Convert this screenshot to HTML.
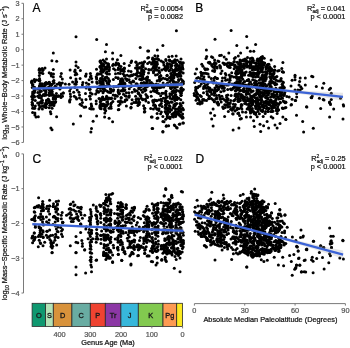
<!DOCTYPE html><html><head><meta charset="utf-8"><style>html,body{margin:0;padding:0;background:#fff;width:350px;height:348px;overflow:hidden;position:relative}</style></head><body><svg width="350" height="348" viewBox="0 0 350 348" style="position:absolute;left:0;top:0;will-change:transform;filter:blur(0.3px);font-family:'Liberation Sans',sans-serif"><rect width="350" height="348" fill="#fff"/><path d="M23.5 3.3V142.44000000000003" stroke="#7a7a7a" stroke-width="1" fill="none"/><path d="M21.5 3.30H23.5" stroke="#7a7a7a" stroke-width="1"/><text x="19.5" y="5.90" font-size="7.35" fill="#555" text-anchor="end" stroke="#555" stroke-width="0.22">3</text><path d="M21.5 18.76H23.5" stroke="#7a7a7a" stroke-width="1"/><text x="19.5" y="21.36" font-size="7.35" fill="#555" text-anchor="end" stroke="#555" stroke-width="0.22">2</text><path d="M21.5 34.22H23.5" stroke="#7a7a7a" stroke-width="1"/><text x="19.5" y="36.82" font-size="7.35" fill="#555" text-anchor="end" stroke="#555" stroke-width="0.22">1</text><path d="M21.5 49.68H23.5" stroke="#7a7a7a" stroke-width="1"/><text x="19.5" y="52.28" font-size="7.35" fill="#555" text-anchor="end" stroke="#555" stroke-width="0.22">0</text><path d="M21.5 65.14H23.5" stroke="#7a7a7a" stroke-width="1"/><text x="19.5" y="67.74" font-size="7.35" fill="#555" text-anchor="end" stroke="#555" stroke-width="0.22">−1</text><path d="M21.5 80.60H23.5" stroke="#7a7a7a" stroke-width="1"/><text x="19.5" y="83.20" font-size="7.35" fill="#555" text-anchor="end" stroke="#555" stroke-width="0.22">−2</text><path d="M21.5 96.06H23.5" stroke="#7a7a7a" stroke-width="1"/><text x="19.5" y="98.66" font-size="7.35" fill="#555" text-anchor="end" stroke="#555" stroke-width="0.22">−3</text><path d="M21.5 111.52H23.5" stroke="#7a7a7a" stroke-width="1"/><text x="19.5" y="114.12" font-size="7.35" fill="#555" text-anchor="end" stroke="#555" stroke-width="0.22">−4</text><path d="M21.5 126.98H23.5" stroke="#7a7a7a" stroke-width="1"/><text x="19.5" y="129.58" font-size="7.35" fill="#555" text-anchor="end" stroke="#555" stroke-width="0.22">−5</text><path d="M21.5 142.44H23.5" stroke="#7a7a7a" stroke-width="1"/><text x="19.5" y="145.04" font-size="7.35" fill="#555" text-anchor="end" stroke="#555" stroke-width="0.22">−6</text><path d="M23.5 153.9V293.02" stroke="#7a7a7a" stroke-width="1" fill="none"/><path d="M21.5 153.90H23.5" stroke="#7a7a7a" stroke-width="1"/><text x="19.5" y="156.50" font-size="7.35" fill="#555" text-anchor="end" stroke="#555" stroke-width="0.22">0</text><path d="M21.5 188.68H23.5" stroke="#7a7a7a" stroke-width="1"/><text x="19.5" y="191.28" font-size="7.35" fill="#555" text-anchor="end" stroke="#555" stroke-width="0.22">−1</text><path d="M21.5 223.46H23.5" stroke="#7a7a7a" stroke-width="1"/><text x="19.5" y="226.06" font-size="7.35" fill="#555" text-anchor="end" stroke="#555" stroke-width="0.22">−2</text><path d="M21.5 258.24H23.5" stroke="#7a7a7a" stroke-width="1"/><text x="19.5" y="260.84" font-size="7.35" fill="#555" text-anchor="end" stroke="#555" stroke-width="0.22">−3</text><path d="M21.5 293.02H23.5" stroke="#7a7a7a" stroke-width="1"/><text x="19.5" y="295.62" font-size="7.35" fill="#555" text-anchor="end" stroke="#555" stroke-width="0.22">−4</text><path d="M194.40 303.6H345.40" stroke="#7a7a7a" stroke-width="1" fill="none"/><path d="M194.40 303.6V305.6" stroke="#7a7a7a" stroke-width="1"/><text x="194.40" y="313.20" font-size="7.35" fill="#555" text-anchor="middle" stroke="#555" stroke-width="0.22">0</text><path d="M244.73 303.6V305.6" stroke="#7a7a7a" stroke-width="1"/><text x="244.73" y="313.20" font-size="7.35" fill="#555" text-anchor="middle" stroke="#555" stroke-width="0.22">30</text><path d="M295.07 303.6V305.6" stroke="#7a7a7a" stroke-width="1"/><text x="295.07" y="313.20" font-size="7.35" fill="#555" text-anchor="middle" stroke="#555" stroke-width="0.22">60</text><path d="M345.40 303.6V305.6" stroke="#7a7a7a" stroke-width="1"/><text x="345.40" y="313.20" font-size="7.35" fill="#555" text-anchor="middle" stroke="#555" stroke-width="0.22">90</text><text x="270.4" y="321.8" font-size="7.35" fill="#111" text-anchor="middle" stroke="#111" stroke-width="0.22">Absolute Median Paleolatitude (Degrees)</text><rect x="32.1" y="303.3" width="13.50" height="23.10" fill="#0f9870" stroke="#2a2a2a" stroke-width="0.8"/><text x="38.85" y="317.55" font-size="7.35" fill="#1a1a1a" stroke="#1a1a1a" stroke-width="0.35" text-anchor="middle">O</text><rect x="45.6" y="303.3" width="7.70" height="23.10" fill="#b4e3b7" stroke="#2a2a2a" stroke-width="0.8"/><text x="49.45" y="317.55" font-size="7.35" fill="#1a1a1a" stroke="#1a1a1a" stroke-width="0.35" text-anchor="middle">S</text><rect x="53.3" y="303.3" width="18.60" height="23.10" fill="#d8923b" stroke="#2a2a2a" stroke-width="0.8"/><text x="62.60" y="317.55" font-size="7.35" fill="#1a1a1a" stroke="#1a1a1a" stroke-width="0.35" text-anchor="middle">D</text><rect x="71.9" y="303.3" width="18.40" height="23.10" fill="#69aca2" stroke="#2a2a2a" stroke-width="0.8"/><text x="81.10" y="317.55" font-size="7.35" fill="#1a1a1a" stroke="#1a1a1a" stroke-width="0.35" text-anchor="middle">C</text><rect x="90.3" y="303.3" width="15.00" height="23.10" fill="#ef4331" stroke="#2a2a2a" stroke-width="0.8"/><text x="97.80" y="317.55" font-size="7.35" fill="#1a1a1a" stroke="#1a1a1a" stroke-width="0.35" text-anchor="middle">P</text><rect x="105.3" y="303.3" width="15.60" height="23.10" fill="#8c37a5" stroke="#2a2a2a" stroke-width="0.8"/><text x="113.10" y="317.55" font-size="7.35" fill="#1a1a1a" stroke="#1a1a1a" stroke-width="0.35" text-anchor="middle">Tr</text><rect x="120.9" y="303.3" width="17.40" height="23.10" fill="#37b7da" stroke="#2a2a2a" stroke-width="0.8"/><text x="129.60" y="317.55" font-size="7.35" fill="#1a1a1a" stroke="#1a1a1a" stroke-width="0.35" text-anchor="middle">J</text><rect x="138.3" y="303.3" width="24.70" height="23.10" fill="#82c94f" stroke="#2a2a2a" stroke-width="0.8"/><text x="150.65" y="317.55" font-size="7.35" fill="#1a1a1a" stroke="#1a1a1a" stroke-width="0.35" text-anchor="middle">K</text><rect x="163.0" y="303.3" width="13.70" height="23.10" fill="#fd9a52" stroke="#2a2a2a" stroke-width="0.8"/><text x="169.85" y="317.55" font-size="7.35" fill="#1a1a1a" stroke="#1a1a1a" stroke-width="0.35" text-anchor="middle">Pg</text><rect x="176.7" y="303.3" width="5.90" height="23.10" fill="#fbe91f" stroke="#2a2a2a" stroke-width="0.8"/><path d="M59.60 326.4V328.4" stroke="#7a7a7a" stroke-width="1"/><text x="59.60" y="336.80" font-size="7.35" fill="#555" text-anchor="middle" stroke="#555" stroke-width="0.22">400</text><path d="M90.35 326.4V328.4" stroke="#7a7a7a" stroke-width="1"/><text x="90.35" y="336.80" font-size="7.35" fill="#555" text-anchor="middle" stroke="#555" stroke-width="0.22">300</text><path d="M121.10 326.4V328.4" stroke="#7a7a7a" stroke-width="1"/><text x="121.10" y="336.80" font-size="7.35" fill="#555" text-anchor="middle" stroke="#555" stroke-width="0.22">200</text><path d="M151.85 326.4V328.4" stroke="#7a7a7a" stroke-width="1"/><text x="151.85" y="336.80" font-size="7.35" fill="#555" text-anchor="middle" stroke="#555" stroke-width="0.22">100</text><path d="M182.60 326.4V328.4" stroke="#7a7a7a" stroke-width="1"/><text x="182.60" y="336.80" font-size="7.35" fill="#555" text-anchor="middle" stroke="#555" stroke-width="0.22">0</text><text x="108" y="345.2" font-size="7.35" fill="#111" text-anchor="middle" stroke="#111" stroke-width="0.22">Genus Age (Ma)</text><text transform="translate(7.2 72.9) rotate(-90)" font-size="7.47" fill="#111" text-anchor="middle" stroke="#111" stroke-width="0.22">log<tspan font-size="4.6" dy="1.3">10</tspan><tspan dy="-1.3"> Whole−Body Metabolic Rate (J s</tspan><tspan font-size="5" dy="-3">−1</tspan><tspan dy="3">)</tspan></text><text transform="translate(7.2 223.3) rotate(-90)" font-size="7.4" fill="#111" text-anchor="middle" stroke="#111" stroke-width="0.22">log<tspan font-size="4.6" dy="1.3">10</tspan><tspan dy="-1.3"> Mass−Specific Metabolic Rate (J kg</tspan><tspan font-size="5" dy="-3">−1</tspan><tspan dy="3"> s</tspan><tspan font-size="5" dy="-3">−1</tspan><tspan dy="3">)</tspan></text><text x="32.5" y="11.6" font-size="12" fill="#000" stroke="#000" stroke-width="0.22">A</text><text x="195.2" y="11.9" font-size="12" fill="#000" stroke="#000" stroke-width="0.22">B</text><text x="32.6" y="162.7" font-size="12" fill="#000" stroke="#000" stroke-width="0.22">C</text><text x="195.5" y="162.7" font-size="12" fill="#000" stroke="#000" stroke-width="0.22">D</text><g fill="#000"><circle cx="53.3" cy="53.0" r="1.5"/><circle cx="51.9" cy="60.7" r="1.5"/><circle cx="56.7" cy="61.2" r="1.5"/><circle cx="45.0" cy="68.0" r="1.5"/><circle cx="42.7" cy="70.4" r="1.5"/><circle cx="53.3" cy="69.5" r="1.5"/><circle cx="40.1" cy="72.9" r="1.5"/><circle cx="42.9" cy="73.5" r="1.5"/><circle cx="51.0" cy="74.3" r="1.5"/><circle cx="53.5" cy="74.1" r="1.5"/><circle cx="61.3" cy="73.5" r="1.5"/><circle cx="76.0" cy="36.7" r="1.5"/><circle cx="96.7" cy="39.4" r="1.5"/><circle cx="106.5" cy="44.4" r="1.5"/><circle cx="105.4" cy="51.7" r="1.5"/><circle cx="76.0" cy="62.0" r="1.5"/><circle cx="76.0" cy="65.8" r="1.5"/><circle cx="78.1" cy="67.4" r="1.5"/><circle cx="70.1" cy="70.1" r="1.5"/><circle cx="80.4" cy="70.4" r="1.5"/><circle cx="76.0" cy="72.9" r="1.5"/><circle cx="86.2" cy="74.1" r="1.5"/><circle cx="90.4" cy="73.5" r="1.5"/><circle cx="96.5" cy="69.3" r="1.5"/><circle cx="100.2" cy="67.2" r="1.5"/><circle cx="101.3" cy="63.2" r="1.5"/><circle cx="103.6" cy="64.3" r="1.5"/><circle cx="106.5" cy="59.1" r="1.5"/><circle cx="104.8" cy="62.0" r="1.5"/><circle cx="106.5" cy="63.2" r="1.5"/><circle cx="105.9" cy="68.3" r="1.5"/><circle cx="102.5" cy="71.8" r="1.5"/><circle cx="105.9" cy="72.9" r="1.5"/><circle cx="99.0" cy="74.1" r="1.5"/><circle cx="107.7" cy="66.0" r="1.5"/><circle cx="140.2" cy="47.6" r="1.5"/><circle cx="147.7" cy="51.1" r="1.5"/><circle cx="112.6" cy="53.0" r="1.5"/><circle cx="120.9" cy="55.5" r="1.5"/><circle cx="112.6" cy="59.1" r="1.5"/><circle cx="117.4" cy="59.7" r="1.5"/><circle cx="116.3" cy="62.8" r="1.5"/><circle cx="131.6" cy="60.9" r="1.5"/><circle cx="131.0" cy="62.4" r="1.5"/><circle cx="129.3" cy="65.5" r="1.5"/><circle cx="139.6" cy="63.2" r="1.5"/><circle cx="144.6" cy="61.7" r="1.5"/><circle cx="147.7" cy="58.0" r="1.5"/><circle cx="143.1" cy="64.7" r="1.5"/><circle cx="162.9" cy="45.6" r="1.5"/><circle cx="157.4" cy="49.9" r="1.5"/><circle cx="148.6" cy="51.1" r="1.5"/><circle cx="148.6" cy="57.4" r="1.5"/><circle cx="152.6" cy="58.0" r="1.5"/><circle cx="154.9" cy="55.7" r="1.5"/><circle cx="157.8" cy="55.9" r="1.5"/><circle cx="156.0" cy="59.1" r="1.5"/><circle cx="156.6" cy="62.6" r="1.5"/><circle cx="168.7" cy="56.8" r="1.5"/><circle cx="172.1" cy="56.3" r="1.5"/><circle cx="176.2" cy="55.9" r="1.5"/><circle cx="175.0" cy="59.7" r="1.5"/><circle cx="161.2" cy="60.9" r="1.5"/><circle cx="162.9" cy="62.0" r="1.5"/><circle cx="181.9" cy="62.8" r="1.5"/><circle cx="182.5" cy="67.2" r="1.5"/><circle cx="176.4" cy="30.7" r="1.5"/><circle cx="65.4" cy="84.1" r="1.5"/><circle cx="32.6" cy="105.5" r="1.5"/><circle cx="32.6" cy="108.3" r="1.5"/><circle cx="38.9" cy="103.2" r="1.5"/><circle cx="38.9" cy="108.9" r="1.5"/><circle cx="42.4" cy="108.9" r="1.5"/><circle cx="42.4" cy="102.6" r="1.5"/><circle cx="45.8" cy="106.0" r="1.5"/><circle cx="49.3" cy="102.6" r="1.5"/><circle cx="52.7" cy="103.7" r="1.5"/><circle cx="49.3" cy="107.8" r="1.5"/><circle cx="52.1" cy="108.3" r="1.5"/><circle cx="50.4" cy="111.8" r="1.5"/><circle cx="34.9" cy="112.9" r="1.5"/><circle cx="62.5" cy="96.3" r="1.5"/><circle cx="55.6" cy="101.4" r="1.5"/><circle cx="58.5" cy="95.7" r="1.5"/><circle cx="69.7" cy="91.1" r="1.5"/><circle cx="73.7" cy="92.2" r="1.5"/><circle cx="77.2" cy="90.0" r="1.5"/><circle cx="78.9" cy="92.2" r="1.5"/><circle cx="70.3" cy="94.0" r="1.5"/><circle cx="74.3" cy="96.3" r="1.5"/><circle cx="79.5" cy="95.1" r="1.5"/><circle cx="79.5" cy="98.0" r="1.5"/><circle cx="90.4" cy="92.8" r="1.5"/><circle cx="92.1" cy="94.0" r="1.5"/><circle cx="89.8" cy="96.3" r="1.5"/><circle cx="90.4" cy="99.1" r="1.5"/><circle cx="95.6" cy="94.0" r="1.5"/><circle cx="98.5" cy="92.2" r="1.5"/><circle cx="99.0" cy="98.6" r="1.5"/><circle cx="81.8" cy="99.7" r="1.5"/><circle cx="69.7" cy="102.0" r="1.5"/><circle cx="82.4" cy="102.6" r="1.5"/><circle cx="96.2" cy="100.9" r="1.5"/><circle cx="96.2" cy="103.7" r="1.5"/><circle cx="80.1" cy="104.3" r="1.5"/><circle cx="81.8" cy="105.5" r="1.5"/><circle cx="84.1" cy="107.2" r="1.5"/><circle cx="93.3" cy="108.9" r="1.5"/><circle cx="102.5" cy="105.5" r="1.5"/><circle cx="104.8" cy="109.5" r="1.5"/><circle cx="104.8" cy="112.9" r="1.5"/><circle cx="89.3" cy="87.6" r="1.5"/><circle cx="85.8" cy="76.1" r="1.5"/><circle cx="91.0" cy="76.1" r="1.5"/><circle cx="96.2" cy="76.7" r="1.5"/><circle cx="76.0" cy="79.0" r="1.5"/><circle cx="80.1" cy="78.4" r="1.5"/><circle cx="91.6" cy="78.4" r="1.5"/><circle cx="96.7" cy="79.0" r="1.5"/><circle cx="72.6" cy="81.9" r="1.5"/><circle cx="76.0" cy="81.9" r="1.5"/><circle cx="82.9" cy="82.5" r="1.5"/><circle cx="86.4" cy="83.0" r="1.5"/><circle cx="92.1" cy="81.9" r="1.5"/><circle cx="96.7" cy="81.9" r="1.5"/><circle cx="69.1" cy="84.2" r="1.5"/><circle cx="76.0" cy="84.2" r="1.5"/><circle cx="82.4" cy="84.8" r="1.5"/><circle cx="88.7" cy="84.2" r="1.5"/><circle cx="99.6" cy="80.7" r="1.5"/><circle cx="101.9" cy="78.4" r="1.5"/><circle cx="114.9" cy="98.6" r="1.5"/><circle cx="108.0" cy="103.7" r="1.5"/><circle cx="109.1" cy="108.3" r="1.5"/><circle cx="118.9" cy="109.5" r="1.5"/><circle cx="118.3" cy="101.4" r="1.5"/><circle cx="122.4" cy="102.0" r="1.5"/><circle cx="126.4" cy="106.0" r="1.5"/><circle cx="131.0" cy="107.2" r="1.5"/><circle cx="131.6" cy="103.7" r="1.5"/><circle cx="133.9" cy="102.6" r="1.5"/><circle cx="137.9" cy="105.5" r="1.5"/><circle cx="139.6" cy="102.6" r="1.5"/><circle cx="144.8" cy="108.3" r="1.5"/><circle cx="144.8" cy="111.8" r="1.5"/><circle cx="142.5" cy="99.1" r="1.5"/><circle cx="136.7" cy="99.1" r="1.5"/><circle cx="132.1" cy="99.7" r="1.5"/><circle cx="126.4" cy="99.7" r="1.5"/><circle cx="121.2" cy="98.0" r="1.5"/><circle cx="117.2" cy="96.3" r="1.5"/><circle cx="125.2" cy="95.7" r="1.5"/><circle cx="129.3" cy="95.7" r="1.5"/><circle cx="135.6" cy="96.3" r="1.5"/><circle cx="140.8" cy="95.7" r="1.5"/><circle cx="145.9" cy="94.5" r="1.5"/><circle cx="119.5" cy="93.4" r="1.5"/><circle cx="126.4" cy="92.8" r="1.5"/><circle cx="132.1" cy="92.2" r="1.5"/><circle cx="138.5" cy="92.8" r="1.5"/><circle cx="142.5" cy="92.2" r="1.5"/><circle cx="118.3" cy="89.9" r="1.5"/><circle cx="122.9" cy="89.9" r="1.5"/><circle cx="134.4" cy="89.4" r="1.5"/><circle cx="141.3" cy="89.9" r="1.5"/><circle cx="145.9" cy="89.9" r="1.5"/><circle cx="113.2" cy="91.1" r="1.5"/><circle cx="113.2" cy="95.1" r="1.5"/><circle cx="34.9" cy="114.9" r="1.5"/><circle cx="38.3" cy="116.7" r="1.5"/><circle cx="36.0" cy="117.1" r="1.5"/><circle cx="50.9" cy="113.7" r="1.5"/><circle cx="56.6" cy="116.7" r="1.5"/><circle cx="50.9" cy="128.1" r="1.5"/><circle cx="52.0" cy="129.7" r="1.5"/><circle cx="73.3" cy="124.0" r="1.5"/><circle cx="80.6" cy="116.0" r="1.5"/><circle cx="93.1" cy="121.3" r="1.5"/><circle cx="96.6" cy="116.0" r="1.5"/><circle cx="91.5" cy="128.6" r="1.5"/><circle cx="90.9" cy="132.0" r="1.5"/><circle cx="104.6" cy="117.1" r="1.5"/><circle cx="105.7" cy="110.7" r="1.5"/><circle cx="32.6" cy="112.6" r="1.5"/><circle cx="109.1" cy="118.3" r="1.5"/><circle cx="112.6" cy="121.7" r="1.5"/><circle cx="118.3" cy="109.8" r="1.5"/><circle cx="130.9" cy="108.0" r="1.5"/><circle cx="144.6" cy="111.4" r="1.5"/><circle cx="151.4" cy="117.1" r="1.5"/><circle cx="152.6" cy="128.6" r="1.5"/><circle cx="162.9" cy="132.0" r="1.5"/><circle cx="157.1" cy="118.3" r="1.5"/><circle cx="166.3" cy="126.3" r="1.5"/><circle cx="174.3" cy="125.1" r="1.5"/><circle cx="176.6" cy="127.4" r="1.5"/><circle cx="180.0" cy="124.0" r="1.5"/><circle cx="183.4" cy="122.9" r="1.5"/><circle cx="182.3" cy="118.3" r="1.5"/><circle cx="164.0" cy="121.7" r="1.5"/><circle cx="169.7" cy="117.1" r="1.5"/><circle cx="173.1" cy="114.9" r="1.5"/><circle cx="176.6" cy="112.6" r="1.5"/><circle cx="160.6" cy="113.7" r="1.5"/><circle cx="165.1" cy="111.4" r="1.5"/><circle cx="144.3" cy="108.6" r="1.5"/><circle cx="144.3" cy="112.1" r="1.5"/><circle cx="150.7" cy="108.6" r="1.5"/><circle cx="152.1" cy="117.1" r="1.5"/><circle cx="157.1" cy="109.3" r="1.5"/><circle cx="157.1" cy="113.6" r="1.5"/><circle cx="157.9" cy="117.9" r="1.5"/><circle cx="152.1" cy="128.6" r="1.5"/><circle cx="162.9" cy="131.4" r="1.5"/><circle cx="162.9" cy="121.4" r="1.5"/><circle cx="166.4" cy="125.7" r="1.5"/><circle cx="168.6" cy="125.7" r="1.5"/><circle cx="175.0" cy="125.7" r="1.5"/><circle cx="177.1" cy="127.9" r="1.5"/><circle cx="179.3" cy="124.3" r="1.5"/><circle cx="182.9" cy="122.9" r="1.5"/><circle cx="182.1" cy="116.4" r="1.5"/><circle cx="181.4" cy="109.3" r="1.5"/><circle cx="177.1" cy="109.3" r="1.5"/><circle cx="178.6" cy="113.6" r="1.5"/><circle cx="174.3" cy="113.6" r="1.5"/><circle cx="172.1" cy="116.4" r="1.5"/><circle cx="170.0" cy="118.6" r="1.5"/><circle cx="165.7" cy="119.3" r="1.5"/><circle cx="162.9" cy="116.4" r="1.5"/><circle cx="161.4" cy="112.1" r="1.5"/><circle cx="165.7" cy="112.1" r="1.5"/><circle cx="168.6" cy="109.3" r="1.5"/><circle cx="165.0" cy="107.9" r="1.5"/><circle cx="162.1" cy="106.4" r="1.5"/><circle cx="160.0" cy="105.0" r="1.5"/><circle cx="170.0" cy="106.4" r="1.5"/><circle cx="174.3" cy="105.0" r="1.5"/><circle cx="180.0" cy="103.6" r="1.5"/><circle cx="31.6" cy="82.8" r="1.5"/><circle cx="35.0" cy="80.3" r="1.5"/><circle cx="35.0" cy="89.7" r="1.5"/><circle cx="32.9" cy="94.2" r="1.5"/><circle cx="32.7" cy="91.9" r="1.5"/><circle cx="31.9" cy="80.9" r="1.5"/><circle cx="32.1" cy="104.5" r="1.5"/><circle cx="32.5" cy="85.1" r="1.5"/><circle cx="34.1" cy="108.3" r="1.5"/><circle cx="34.7" cy="90.7" r="1.5"/><circle cx="34.3" cy="79.5" r="1.5"/><circle cx="34.2" cy="87.3" r="1.5"/><circle cx="31.6" cy="81.8" r="1.5"/><circle cx="32.6" cy="104.1" r="1.5"/><circle cx="31.7" cy="96.6" r="1.5"/><circle cx="34.4" cy="89.9" r="1.5"/><circle cx="34.6" cy="80.0" r="1.5"/><circle cx="32.8" cy="84.6" r="1.5"/><circle cx="34.2" cy="91.7" r="1.5"/><circle cx="32.2" cy="96.7" r="1.5"/><circle cx="32.3" cy="87.6" r="1.5"/><circle cx="35.3" cy="100.4" r="1.5"/><circle cx="32.7" cy="96.4" r="1.5"/><circle cx="35.3" cy="106.0" r="1.5"/><circle cx="34.4" cy="87.2" r="1.5"/><circle cx="34.6" cy="81.8" r="1.5"/><circle cx="32.1" cy="102.2" r="1.5"/><circle cx="32.8" cy="93.6" r="1.5"/><circle cx="32.9" cy="99.4" r="1.5"/><circle cx="34.3" cy="96.3" r="1.5"/><circle cx="34.3" cy="88.0" r="1.5"/><circle cx="34.4" cy="97.0" r="1.5"/><circle cx="34.4" cy="92.6" r="1.5"/><circle cx="34.7" cy="108.2" r="1.5"/><circle cx="32.4" cy="99.3" r="1.5"/><circle cx="36.6" cy="80.1" r="1.5"/><circle cx="37.8" cy="88.9" r="1.5"/><circle cx="37.6" cy="102.9" r="1.5"/><circle cx="37.8" cy="92.4" r="1.5"/><circle cx="37.7" cy="96.2" r="1.5"/><circle cx="41.3" cy="72.8" r="1.5"/><circle cx="39.3" cy="75.6" r="1.5"/><circle cx="39.4" cy="68.8" r="1.5"/><circle cx="39.0" cy="69.9" r="1.5"/><circle cx="42.2" cy="68.6" r="1.5"/><circle cx="40.3" cy="69.8" r="1.5"/><circle cx="39.5" cy="72.4" r="1.5"/><circle cx="39.5" cy="78.5" r="1.5"/><circle cx="43.2" cy="69.8" r="1.5"/><circle cx="39.6" cy="89.6" r="1.5"/><circle cx="41.8" cy="103.2" r="1.5"/><circle cx="39.9" cy="80.6" r="1.5"/><circle cx="46.5" cy="94.8" r="1.5"/><circle cx="39.5" cy="95.2" r="1.5"/><circle cx="39.7" cy="94.8" r="1.5"/><circle cx="45.9" cy="104.2" r="1.5"/><circle cx="43.8" cy="87.3" r="1.5"/><circle cx="42.0" cy="84.7" r="1.5"/><circle cx="45.9" cy="94.9" r="1.5"/><circle cx="46.0" cy="89.2" r="1.5"/><circle cx="39.5" cy="102.7" r="1.5"/><circle cx="46.6" cy="103.9" r="1.5"/><circle cx="46.2" cy="102.9" r="1.5"/><circle cx="44.3" cy="86.3" r="1.5"/><circle cx="44.4" cy="90.0" r="1.5"/><circle cx="39.2" cy="80.8" r="1.5"/><circle cx="41.8" cy="87.3" r="1.5"/><circle cx="44.4" cy="106.8" r="1.5"/><circle cx="42.2" cy="106.2" r="1.5"/><circle cx="45.4" cy="106.7" r="1.5"/><circle cx="41.2" cy="86.2" r="1.5"/><circle cx="39.5" cy="85.5" r="1.5"/><circle cx="39.0" cy="97.5" r="1.5"/><circle cx="45.6" cy="103.5" r="1.5"/><circle cx="41.1" cy="98.3" r="1.5"/><circle cx="46.2" cy="82.4" r="1.5"/><circle cx="44.2" cy="105.5" r="1.5"/><circle cx="46.5" cy="101.0" r="1.5"/><circle cx="41.2" cy="85.0" r="1.5"/><circle cx="46.2" cy="89.3" r="1.5"/><circle cx="46.2" cy="107.2" r="1.5"/><circle cx="41.2" cy="91.2" r="1.5"/><circle cx="46.5" cy="100.3" r="1.5"/><circle cx="40.2" cy="83.6" r="1.5"/><circle cx="39.2" cy="105.3" r="1.5"/><circle cx="46.6" cy="84.1" r="1.5"/><circle cx="45.8" cy="107.4" r="1.5"/><circle cx="43.8" cy="89.8" r="1.5"/><circle cx="44.5" cy="83.7" r="1.5"/><circle cx="40.0" cy="107.2" r="1.5"/><circle cx="43.3" cy="94.7" r="1.5"/><circle cx="45.8" cy="92.1" r="1.5"/><circle cx="46.0" cy="103.1" r="1.5"/><circle cx="39.3" cy="87.1" r="1.5"/><circle cx="41.3" cy="86.7" r="1.5"/><circle cx="43.6" cy="87.3" r="1.5"/><circle cx="42.0" cy="83.7" r="1.5"/><circle cx="45.3" cy="89.9" r="1.5"/><circle cx="41.8" cy="96.3" r="1.5"/><circle cx="45.9" cy="91.8" r="1.5"/><circle cx="45.3" cy="94.0" r="1.5"/><circle cx="43.6" cy="94.7" r="1.5"/><circle cx="39.7" cy="92.3" r="1.5"/><circle cx="39.6" cy="80.1" r="1.5"/><circle cx="45.3" cy="84.8" r="1.5"/><circle cx="42.4" cy="100.3" r="1.5"/><circle cx="44.2" cy="89.1" r="1.5"/><circle cx="44.5" cy="95.6" r="1.5"/><circle cx="45.4" cy="83.0" r="1.5"/><circle cx="43.5" cy="87.0" r="1.5"/><circle cx="41.0" cy="101.6" r="1.5"/><circle cx="47.4" cy="83.6" r="1.5"/><circle cx="47.3" cy="87.8" r="1.5"/><circle cx="48.3" cy="98.9" r="1.5"/><circle cx="53.9" cy="80.4" r="1.5"/><circle cx="49.2" cy="72.7" r="1.5"/><circle cx="53.3" cy="77.1" r="1.5"/><circle cx="49.1" cy="83.3" r="1.5"/><circle cx="53.2" cy="81.6" r="1.5"/><circle cx="49.1" cy="82.3" r="1.5"/><circle cx="49.3" cy="82.4" r="1.5"/><circle cx="51.4" cy="76.1" r="1.5"/><circle cx="54.2" cy="83.1" r="1.5"/><circle cx="51.4" cy="73.6" r="1.5"/><circle cx="53.9" cy="87.9" r="1.5"/><circle cx="51.9" cy="84.4" r="1.5"/><circle cx="51.9" cy="84.3" r="1.5"/><circle cx="54.1" cy="96.1" r="1.5"/><circle cx="49.5" cy="94.4" r="1.5"/><circle cx="55.2" cy="86.3" r="1.5"/><circle cx="56.4" cy="93.5" r="1.5"/><circle cx="52.0" cy="102.4" r="1.5"/><circle cx="51.7" cy="95.1" r="1.5"/><circle cx="53.9" cy="105.6" r="1.5"/><circle cx="51.9" cy="102.3" r="1.5"/><circle cx="53.2" cy="98.0" r="1.5"/><circle cx="52.0" cy="91.6" r="1.5"/><circle cx="49.2" cy="86.9" r="1.5"/><circle cx="49.0" cy="100.3" r="1.5"/><circle cx="51.4" cy="87.6" r="1.5"/><circle cx="49.9" cy="102.5" r="1.5"/><circle cx="55.5" cy="98.8" r="1.5"/><circle cx="52.0" cy="89.3" r="1.5"/><circle cx="52.4" cy="94.1" r="1.5"/><circle cx="49.6" cy="93.8" r="1.5"/><circle cx="51.5" cy="105.2" r="1.5"/><circle cx="55.9" cy="96.0" r="1.5"/><circle cx="49.8" cy="105.2" r="1.5"/><circle cx="52.1" cy="91.8" r="1.5"/><circle cx="49.7" cy="92.4" r="1.5"/><circle cx="51.9" cy="95.1" r="1.5"/><circle cx="49.0" cy="95.1" r="1.5"/><circle cx="49.1" cy="89.8" r="1.5"/><circle cx="49.2" cy="92.8" r="1.5"/><circle cx="49.9" cy="84.5" r="1.5"/><circle cx="51.4" cy="89.1" r="1.5"/><circle cx="53.9" cy="95.6" r="1.5"/><circle cx="55.3" cy="98.5" r="1.5"/><circle cx="53.2" cy="103.3" r="1.5"/><circle cx="51.4" cy="91.2" r="1.5"/><circle cx="56.2" cy="87.3" r="1.5"/><circle cx="54.1" cy="98.2" r="1.5"/><circle cx="49.8" cy="102.4" r="1.5"/><circle cx="55.6" cy="97.8" r="1.5"/><circle cx="53.8" cy="101.9" r="1.5"/><circle cx="49.5" cy="95.5" r="1.5"/><circle cx="53.8" cy="102.4" r="1.5"/><circle cx="55.4" cy="102.2" r="1.5"/><circle cx="54.4" cy="103.6" r="1.5"/><circle cx="53.4" cy="99.3" r="1.5"/><circle cx="50.2" cy="84.7" r="1.5"/><circle cx="50.2" cy="91.9" r="1.5"/><circle cx="48.9" cy="102.4" r="1.5"/><circle cx="57.8" cy="96.4" r="1.5"/><circle cx="59.9" cy="89.0" r="1.5"/><circle cx="57.2" cy="84.2" r="1.5"/><circle cx="59.7" cy="84.2" r="1.5"/><circle cx="59.3" cy="82.8" r="1.5"/><circle cx="63.3" cy="92.9" r="1.5"/><circle cx="61.0" cy="97.5" r="1.5"/><circle cx="60.7" cy="76.6" r="1.5"/><circle cx="60.8" cy="87.8" r="1.5"/><circle cx="60.6" cy="83.2" r="1.5"/><circle cx="60.2" cy="84.3" r="1.5"/><circle cx="60.3" cy="96.2" r="1.5"/><circle cx="61.3" cy="94.0" r="1.5"/><circle cx="62.3" cy="78.9" r="1.5"/><circle cx="63.2" cy="93.1" r="1.5"/><circle cx="62.3" cy="83.0" r="1.5"/><circle cx="60.5" cy="85.4" r="1.5"/><circle cx="70.6" cy="77.7" r="1.5"/><circle cx="69.6" cy="100.7" r="1.5"/><circle cx="70.6" cy="96.4" r="1.5"/><circle cx="70.2" cy="99.4" r="1.5"/><circle cx="70.6" cy="88.5" r="1.5"/><circle cx="76.7" cy="74.3" r="1.5"/><circle cx="75.9" cy="97.4" r="1.5"/><circle cx="76.0" cy="81.0" r="1.5"/><circle cx="75.2" cy="74.7" r="1.5"/><circle cx="76.6" cy="99.1" r="1.5"/><circle cx="74.9" cy="87.6" r="1.5"/><circle cx="74.7" cy="84.1" r="1.5"/><circle cx="75.1" cy="70.0" r="1.5"/><circle cx="74.7" cy="71.5" r="1.5"/><circle cx="76.7" cy="81.9" r="1.5"/><circle cx="85.5" cy="93.4" r="1.5"/><circle cx="86.0" cy="99.5" r="1.5"/><circle cx="86.2" cy="88.1" r="1.5"/><circle cx="86.5" cy="86.8" r="1.5"/><circle cx="85.6" cy="76.1" r="1.5"/><circle cx="85.7" cy="106.9" r="1.5"/><circle cx="89.3" cy="89.6" r="1.5"/><circle cx="89.8" cy="108.4" r="1.5"/><circle cx="91.5" cy="105.7" r="1.5"/><circle cx="90.4" cy="77.1" r="1.5"/><circle cx="91.6" cy="106.5" r="1.5"/><circle cx="90.0" cy="96.0" r="1.5"/><circle cx="90.1" cy="89.3" r="1.5"/><circle cx="91.2" cy="104.1" r="1.5"/><circle cx="91.3" cy="109.1" r="1.5"/><circle cx="89.1" cy="79.7" r="1.5"/><circle cx="96.6" cy="77.9" r="1.5"/><circle cx="97.0" cy="91.9" r="1.5"/><circle cx="97.2" cy="74.4" r="1.5"/><circle cx="97.9" cy="91.6" r="1.5"/><circle cx="97.5" cy="73.8" r="1.5"/><circle cx="97.8" cy="87.8" r="1.5"/><circle cx="97.2" cy="83.2" r="1.5"/><circle cx="96.9" cy="90.4" r="1.5"/><circle cx="102.3" cy="86.9" r="1.5"/><circle cx="106.4" cy="68.6" r="1.5"/><circle cx="101.1" cy="74.0" r="1.5"/><circle cx="107.0" cy="71.8" r="1.5"/><circle cx="102.4" cy="78.7" r="1.5"/><circle cx="108.8" cy="66.4" r="1.5"/><circle cx="101.2" cy="69.5" r="1.5"/><circle cx="104.8" cy="79.1" r="1.5"/><circle cx="100.2" cy="82.3" r="1.5"/><circle cx="107.3" cy="74.1" r="1.5"/><circle cx="102.9" cy="87.2" r="1.5"/><circle cx="103.3" cy="83.0" r="1.5"/><circle cx="102.1" cy="66.2" r="1.5"/><circle cx="106.8" cy="68.3" r="1.5"/><circle cx="109.4" cy="73.9" r="1.5"/><circle cx="101.0" cy="66.3" r="1.5"/><circle cx="105.3" cy="78.6" r="1.5"/><circle cx="108.3" cy="64.1" r="1.5"/><circle cx="102.4" cy="66.0" r="1.5"/><circle cx="108.4" cy="64.0" r="1.5"/><circle cx="100.1" cy="61.7" r="1.5"/><circle cx="103.3" cy="85.1" r="1.5"/><circle cx="109.1" cy="80.5" r="1.5"/><circle cx="109.6" cy="86.1" r="1.5"/><circle cx="102.5" cy="65.2" r="1.5"/><circle cx="109.5" cy="80.9" r="1.5"/><circle cx="100.5" cy="78.6" r="1.5"/><circle cx="102.3" cy="70.5" r="1.5"/><circle cx="103.0" cy="64.7" r="1.5"/><circle cx="101.2" cy="67.8" r="1.5"/><circle cx="102.1" cy="86.8" r="1.5"/><circle cx="100.7" cy="87.0" r="1.5"/><circle cx="102.8" cy="70.0" r="1.5"/><circle cx="108.6" cy="83.0" r="1.5"/><circle cx="104.6" cy="61.4" r="1.5"/><circle cx="104.2" cy="70.4" r="1.5"/><circle cx="108.5" cy="65.4" r="1.5"/><circle cx="102.3" cy="85.1" r="1.5"/><circle cx="100.7" cy="71.5" r="1.5"/><circle cx="109.2" cy="81.5" r="1.5"/><circle cx="100.1" cy="61.0" r="1.5"/><circle cx="99.9" cy="85.8" r="1.5"/><circle cx="102.4" cy="80.9" r="1.5"/><circle cx="109.2" cy="69.5" r="1.5"/><circle cx="102.2" cy="86.8" r="1.5"/><circle cx="106.6" cy="67.3" r="1.5"/><circle cx="106.4" cy="68.9" r="1.5"/><circle cx="103.1" cy="60.1" r="1.5"/><circle cx="106.9" cy="85.7" r="1.5"/><circle cx="106.2" cy="86.4" r="1.5"/><circle cx="100.0" cy="66.5" r="1.5"/><circle cx="104.6" cy="86.8" r="1.5"/><circle cx="109.0" cy="70.8" r="1.5"/><circle cx="102.8" cy="72.0" r="1.5"/><circle cx="104.2" cy="86.0" r="1.5"/><circle cx="100.1" cy="82.5" r="1.5"/><circle cx="107.1" cy="83.0" r="1.5"/><circle cx="106.7" cy="77.0" r="1.5"/><circle cx="102.3" cy="68.9" r="1.5"/><circle cx="102.4" cy="81.9" r="1.5"/><circle cx="101.2" cy="65.5" r="1.5"/><circle cx="106.6" cy="66.9" r="1.5"/><circle cx="100.6" cy="60.9" r="1.5"/><circle cx="104.6" cy="69.1" r="1.5"/><circle cx="108.8" cy="84.7" r="1.5"/><circle cx="109.5" cy="67.4" r="1.5"/><circle cx="101.2" cy="62.7" r="1.5"/><circle cx="104.6" cy="79.9" r="1.5"/><circle cx="104.3" cy="66.6" r="1.5"/><circle cx="105.1" cy="77.4" r="1.5"/><circle cx="106.4" cy="80.9" r="1.5"/><circle cx="108.3" cy="78.6" r="1.5"/><circle cx="101.1" cy="83.5" r="1.5"/><circle cx="102.5" cy="75.9" r="1.5"/><circle cx="103.1" cy="80.7" r="1.5"/><circle cx="100.4" cy="66.9" r="1.5"/><circle cx="111.4" cy="98.1" r="1.5"/><circle cx="100.0" cy="88.3" r="1.5"/><circle cx="106.8" cy="102.1" r="1.5"/><circle cx="111.1" cy="90.0" r="1.5"/><circle cx="106.6" cy="96.2" r="1.5"/><circle cx="107.3" cy="91.2" r="1.5"/><circle cx="102.7" cy="99.5" r="1.5"/><circle cx="111.1" cy="90.4" r="1.5"/><circle cx="105.2" cy="105.7" r="1.5"/><circle cx="110.4" cy="92.3" r="1.5"/><circle cx="101.2" cy="108.7" r="1.5"/><circle cx="111.1" cy="98.6" r="1.5"/><circle cx="100.4" cy="108.4" r="1.5"/><circle cx="105.1" cy="107.9" r="1.5"/><circle cx="106.5" cy="106.1" r="1.5"/><circle cx="101.2" cy="105.3" r="1.5"/><circle cx="102.7" cy="96.9" r="1.5"/><circle cx="110.8" cy="106.2" r="1.5"/><circle cx="103.0" cy="92.8" r="1.5"/><circle cx="104.6" cy="99.4" r="1.5"/><circle cx="104.3" cy="90.7" r="1.5"/><circle cx="103.0" cy="103.9" r="1.5"/><circle cx="110.3" cy="88.9" r="1.5"/><circle cx="107.2" cy="104.7" r="1.5"/><circle cx="100.2" cy="106.4" r="1.5"/><circle cx="100.7" cy="101.2" r="1.5"/><circle cx="107.5" cy="101.8" r="1.5"/><circle cx="102.7" cy="97.2" r="1.5"/><circle cx="107.0" cy="97.4" r="1.5"/><circle cx="106.5" cy="97.8" r="1.5"/><circle cx="104.0" cy="88.5" r="1.5"/><circle cx="106.1" cy="98.8" r="1.5"/><circle cx="102.1" cy="104.8" r="1.5"/><circle cx="109.0" cy="98.1" r="1.5"/><circle cx="102.5" cy="98.4" r="1.5"/><circle cx="100.6" cy="90.8" r="1.5"/><circle cx="105.3" cy="90.0" r="1.5"/><circle cx="104.2" cy="99.2" r="1.5"/><circle cx="100.2" cy="102.0" r="1.5"/><circle cx="100.8" cy="104.1" r="1.5"/><circle cx="108.2" cy="99.3" r="1.5"/><circle cx="99.8" cy="99.1" r="1.5"/><circle cx="104.5" cy="108.9" r="1.5"/><circle cx="100.0" cy="106.9" r="1.5"/><circle cx="110.8" cy="104.1" r="1.5"/><circle cx="108.5" cy="92.3" r="1.5"/><circle cx="111.1" cy="98.8" r="1.5"/><circle cx="111.1" cy="108.2" r="1.5"/><circle cx="100.1" cy="105.3" r="1.5"/><circle cx="111.1" cy="89.4" r="1.5"/><circle cx="104.7" cy="104.6" r="1.5"/><circle cx="100.0" cy="107.7" r="1.5"/><circle cx="103.2" cy="105.9" r="1.5"/><circle cx="100.2" cy="99.0" r="1.5"/><circle cx="110.5" cy="92.6" r="1.5"/><circle cx="102.1" cy="99.1" r="1.5"/><circle cx="102.8" cy="88.8" r="1.5"/><circle cx="103.1" cy="91.5" r="1.5"/><circle cx="111.4" cy="103.0" r="1.5"/><circle cx="110.8" cy="91.7" r="1.5"/><circle cx="113.4" cy="64.3" r="1.5"/><circle cx="115.8" cy="77.5" r="1.5"/><circle cx="113.4" cy="79.5" r="1.5"/><circle cx="113.7" cy="86.5" r="1.5"/><circle cx="115.3" cy="70.0" r="1.5"/><circle cx="115.5" cy="65.1" r="1.5"/><circle cx="115.5" cy="73.7" r="1.5"/><circle cx="112.6" cy="65.4" r="1.5"/><circle cx="116.3" cy="64.3" r="1.5"/><circle cx="116.1" cy="86.6" r="1.5"/><circle cx="113.6" cy="68.8" r="1.5"/><circle cx="112.9" cy="101.5" r="1.5"/><circle cx="115.1" cy="95.4" r="1.5"/><circle cx="115.5" cy="95.2" r="1.5"/><circle cx="113.6" cy="89.7" r="1.5"/><circle cx="122.9" cy="84.1" r="1.5"/><circle cx="122.4" cy="69.6" r="1.5"/><circle cx="123.3" cy="73.9" r="1.5"/><circle cx="124.4" cy="76.1" r="1.5"/><circle cx="121.1" cy="79.1" r="1.5"/><circle cx="124.5" cy="68.4" r="1.5"/><circle cx="124.2" cy="63.4" r="1.5"/><circle cx="120.3" cy="68.9" r="1.5"/><circle cx="123.2" cy="86.6" r="1.5"/><circle cx="123.5" cy="71.2" r="1.5"/><circle cx="124.2" cy="71.2" r="1.5"/><circle cx="118.5" cy="85.7" r="1.5"/><circle cx="122.8" cy="80.3" r="1.5"/><circle cx="123.2" cy="87.5" r="1.5"/><circle cx="120.2" cy="84.0" r="1.5"/><circle cx="122.8" cy="84.4" r="1.5"/><circle cx="120.5" cy="81.1" r="1.5"/><circle cx="123.3" cy="70.7" r="1.5"/><circle cx="118.2" cy="78.6" r="1.5"/><circle cx="119.2" cy="85.8" r="1.5"/><circle cx="118.3" cy="63.7" r="1.5"/><circle cx="118.2" cy="86.2" r="1.5"/><circle cx="121.0" cy="66.5" r="1.5"/><circle cx="118.6" cy="64.0" r="1.5"/><circle cx="122.3" cy="78.8" r="1.5"/><circle cx="123.0" cy="81.4" r="1.5"/><circle cx="118.0" cy="77.8" r="1.5"/><circle cx="121.1" cy="83.4" r="1.5"/><circle cx="125.2" cy="85.3" r="1.5"/><circle cx="119.0" cy="84.7" r="1.5"/><circle cx="125.1" cy="86.6" r="1.5"/><circle cx="118.4" cy="68.1" r="1.5"/><circle cx="118.4" cy="63.9" r="1.5"/><circle cx="124.8" cy="83.3" r="1.5"/><circle cx="123.4" cy="83.6" r="1.5"/><circle cx="122.2" cy="70.2" r="1.5"/><circle cx="119.1" cy="65.4" r="1.5"/><circle cx="124.3" cy="68.1" r="1.5"/><circle cx="120.3" cy="73.6" r="1.5"/><circle cx="118.2" cy="69.4" r="1.5"/><circle cx="121.2" cy="80.9" r="1.5"/><circle cx="120.7" cy="71.0" r="1.5"/><circle cx="124.8" cy="75.6" r="1.5"/><circle cx="125.5" cy="78.5" r="1.5"/><circle cx="118.2" cy="73.3" r="1.5"/><circle cx="120.6" cy="82.3" r="1.5"/><circle cx="120.7" cy="80.6" r="1.5"/><circle cx="124.8" cy="101.6" r="1.5"/><circle cx="123.5" cy="94.3" r="1.5"/><circle cx="121.1" cy="90.8" r="1.5"/><circle cx="125.3" cy="99.9" r="1.5"/><circle cx="122.7" cy="91.1" r="1.5"/><circle cx="120.3" cy="101.9" r="1.5"/><circle cx="123.0" cy="90.3" r="1.5"/><circle cx="120.1" cy="103.9" r="1.5"/><circle cx="118.2" cy="91.4" r="1.5"/><circle cx="120.5" cy="100.7" r="1.5"/><circle cx="124.3" cy="90.8" r="1.5"/><circle cx="118.4" cy="92.5" r="1.5"/><circle cx="121.1" cy="97.4" r="1.5"/><circle cx="118.8" cy="93.9" r="1.5"/><circle cx="118.6" cy="105.6" r="1.5"/><circle cx="123.0" cy="89.8" r="1.5"/><circle cx="124.9" cy="89.8" r="1.5"/><circle cx="127.0" cy="79.3" r="1.5"/><circle cx="129.7" cy="82.3" r="1.5"/><circle cx="132.4" cy="75.5" r="1.5"/><circle cx="131.1" cy="82.5" r="1.5"/><circle cx="128.5" cy="71.0" r="1.5"/><circle cx="131.4" cy="85.4" r="1.5"/><circle cx="133.6" cy="81.4" r="1.5"/><circle cx="133.0" cy="81.0" r="1.5"/><circle cx="130.4" cy="76.0" r="1.5"/><circle cx="129.1" cy="79.8" r="1.5"/><circle cx="127.1" cy="75.2" r="1.5"/><circle cx="133.3" cy="81.7" r="1.5"/><circle cx="131.0" cy="71.5" r="1.5"/><circle cx="129.2" cy="76.0" r="1.5"/><circle cx="131.5" cy="75.0" r="1.5"/><circle cx="131.0" cy="86.5" r="1.5"/><circle cx="126.9" cy="80.4" r="1.5"/><circle cx="133.6" cy="74.6" r="1.5"/><circle cx="126.3" cy="96.2" r="1.5"/><circle cx="128.9" cy="97.2" r="1.5"/><circle cx="126.9" cy="99.8" r="1.5"/><circle cx="129.3" cy="88.7" r="1.5"/><circle cx="128.8" cy="92.8" r="1.5"/><circle cx="138.3" cy="67.8" r="1.5"/><circle cx="141.4" cy="86.4" r="1.5"/><circle cx="139.5" cy="67.7" r="1.5"/><circle cx="143.8" cy="72.2" r="1.5"/><circle cx="137.0" cy="65.4" r="1.5"/><circle cx="141.7" cy="83.0" r="1.5"/><circle cx="141.6" cy="74.2" r="1.5"/><circle cx="139.3" cy="67.9" r="1.5"/><circle cx="143.8" cy="71.2" r="1.5"/><circle cx="141.2" cy="83.3" r="1.5"/><circle cx="143.2" cy="74.2" r="1.5"/><circle cx="137.7" cy="76.3" r="1.5"/><circle cx="136.1" cy="83.7" r="1.5"/><circle cx="137.2" cy="84.1" r="1.5"/><circle cx="137.5" cy="71.8" r="1.5"/><circle cx="137.5" cy="73.1" r="1.5"/><circle cx="135.8" cy="62.1" r="1.5"/><circle cx="141.8" cy="69.3" r="1.5"/><circle cx="137.3" cy="69.8" r="1.5"/><circle cx="140.0" cy="73.1" r="1.5"/><circle cx="141.2" cy="79.1" r="1.5"/><circle cx="137.6" cy="86.1" r="1.5"/><circle cx="142.9" cy="63.5" r="1.5"/><circle cx="143.3" cy="85.6" r="1.5"/><circle cx="142.0" cy="65.7" r="1.5"/><circle cx="143.5" cy="78.5" r="1.5"/><circle cx="136.1" cy="62.3" r="1.5"/><circle cx="143.0" cy="79.1" r="1.5"/><circle cx="137.4" cy="64.6" r="1.5"/><circle cx="135.5" cy="68.1" r="1.5"/><circle cx="141.5" cy="71.0" r="1.5"/><circle cx="135.9" cy="85.5" r="1.5"/><circle cx="141.8" cy="66.4" r="1.5"/><circle cx="142.6" cy="77.8" r="1.5"/><circle cx="141.7" cy="79.4" r="1.5"/><circle cx="143.8" cy="82.5" r="1.5"/><circle cx="143.3" cy="67.1" r="1.5"/><circle cx="140.7" cy="75.8" r="1.5"/><circle cx="141.1" cy="73.4" r="1.5"/><circle cx="142.6" cy="76.4" r="1.5"/><circle cx="137.2" cy="68.1" r="1.5"/><circle cx="136.3" cy="74.8" r="1.5"/><circle cx="135.9" cy="74.1" r="1.5"/><circle cx="136.0" cy="74.8" r="1.5"/><circle cx="139.9" cy="76.0" r="1.5"/><circle cx="143.8" cy="62.2" r="1.5"/><circle cx="143.4" cy="74.2" r="1.5"/><circle cx="139.7" cy="79.3" r="1.5"/><circle cx="143.4" cy="71.7" r="1.5"/><circle cx="139.8" cy="87.0" r="1.5"/><circle cx="135.9" cy="78.6" r="1.5"/><circle cx="141.6" cy="62.7" r="1.5"/><circle cx="141.0" cy="79.7" r="1.5"/><circle cx="143.5" cy="70.6" r="1.5"/><circle cx="138.8" cy="101.7" r="1.5"/><circle cx="135.0" cy="91.3" r="1.5"/><circle cx="136.0" cy="101.9" r="1.5"/><circle cx="142.7" cy="99.8" r="1.5"/><circle cx="138.3" cy="102.8" r="1.5"/><circle cx="140.8" cy="98.1" r="1.5"/><circle cx="138.1" cy="93.4" r="1.5"/><circle cx="139.0" cy="93.7" r="1.5"/><circle cx="138.8" cy="99.6" r="1.5"/><circle cx="143.6" cy="89.0" r="1.5"/><circle cx="139.1" cy="88.7" r="1.5"/><circle cx="136.1" cy="102.6" r="1.5"/><circle cx="139.1" cy="104.5" r="1.5"/><circle cx="138.9" cy="88.3" r="1.5"/><circle cx="138.0" cy="98.7" r="1.5"/><circle cx="143.6" cy="105.7" r="1.5"/><circle cx="140.0" cy="95.4" r="1.5"/><circle cx="136.1" cy="99.6" r="1.5"/><circle cx="137.0" cy="90.7" r="1.5"/><circle cx="149.5" cy="80.4" r="1.5"/><circle cx="147.7" cy="86.2" r="1.5"/><circle cx="146.5" cy="87.1" r="1.5"/><circle cx="149.5" cy="62.3" r="1.5"/><circle cx="145.6" cy="78.9" r="1.5"/><circle cx="151.5" cy="64.1" r="1.5"/><circle cx="147.2" cy="81.0" r="1.5"/><circle cx="144.9" cy="84.4" r="1.5"/><circle cx="147.6" cy="63.6" r="1.5"/><circle cx="147.6" cy="76.9" r="1.5"/><circle cx="147.4" cy="79.6" r="1.5"/><circle cx="145.8" cy="82.7" r="1.5"/><circle cx="146.9" cy="78.8" r="1.5"/><circle cx="148.5" cy="72.9" r="1.5"/><circle cx="147.2" cy="82.4" r="1.5"/><circle cx="151.4" cy="82.4" r="1.5"/><circle cx="148.7" cy="69.6" r="1.5"/><circle cx="145.5" cy="87.3" r="1.5"/><circle cx="149.7" cy="83.5" r="1.5"/><circle cx="146.8" cy="77.8" r="1.5"/><circle cx="151.2" cy="83.6" r="1.5"/><circle cx="149.3" cy="70.0" r="1.5"/><circle cx="147.1" cy="85.1" r="1.5"/><circle cx="146.7" cy="79.8" r="1.5"/><circle cx="148.7" cy="85.3" r="1.5"/><circle cx="151.4" cy="69.4" r="1.5"/><circle cx="145.6" cy="68.8" r="1.5"/><circle cx="147.1" cy="77.3" r="1.5"/><circle cx="145.9" cy="100.9" r="1.5"/><circle cx="150.8" cy="91.7" r="1.5"/><circle cx="148.5" cy="102.4" r="1.5"/><circle cx="151.2" cy="96.3" r="1.5"/><circle cx="147.5" cy="97.4" r="1.5"/><circle cx="144.7" cy="91.1" r="1.5"/><circle cx="145.3" cy="99.2" r="1.5"/><circle cx="146.9" cy="97.0" r="1.5"/><circle cx="147.2" cy="96.3" r="1.5"/><circle cx="144.5" cy="88.7" r="1.5"/><circle cx="153.7" cy="87.7" r="1.5"/><circle cx="159.6" cy="72.6" r="1.5"/><circle cx="156.4" cy="65.8" r="1.5"/><circle cx="158.7" cy="70.8" r="1.5"/><circle cx="159.6" cy="81.0" r="1.5"/><circle cx="158.4" cy="86.9" r="1.5"/><circle cx="155.3" cy="59.1" r="1.5"/><circle cx="152.7" cy="63.4" r="1.5"/><circle cx="153.7" cy="59.5" r="1.5"/><circle cx="156.3" cy="84.1" r="1.5"/><circle cx="155.4" cy="86.4" r="1.5"/><circle cx="158.8" cy="59.9" r="1.5"/><circle cx="156.5" cy="69.9" r="1.5"/><circle cx="152.3" cy="86.8" r="1.5"/><circle cx="155.5" cy="74.9" r="1.5"/><circle cx="157.0" cy="86.7" r="1.5"/><circle cx="156.6" cy="69.8" r="1.5"/><circle cx="154.9" cy="62.8" r="1.5"/><circle cx="159.6" cy="87.8" r="1.5"/><circle cx="152.6" cy="59.2" r="1.5"/><circle cx="155.1" cy="68.6" r="1.5"/><circle cx="158.5" cy="85.1" r="1.5"/><circle cx="158.6" cy="59.4" r="1.5"/><circle cx="159.4" cy="79.3" r="1.5"/><circle cx="157.3" cy="87.6" r="1.5"/><circle cx="152.6" cy="62.3" r="1.5"/><circle cx="158.4" cy="86.2" r="1.5"/><circle cx="156.4" cy="67.0" r="1.5"/><circle cx="157.2" cy="80.7" r="1.5"/><circle cx="153.0" cy="67.7" r="1.5"/><circle cx="154.7" cy="61.7" r="1.5"/><circle cx="154.6" cy="63.1" r="1.5"/><circle cx="153.2" cy="62.3" r="1.5"/><circle cx="157.3" cy="58.4" r="1.5"/><circle cx="157.4" cy="63.9" r="1.5"/><circle cx="153.1" cy="85.8" r="1.5"/><circle cx="152.6" cy="86.0" r="1.5"/><circle cx="158.4" cy="84.7" r="1.5"/><circle cx="153.3" cy="71.4" r="1.5"/><circle cx="152.9" cy="85.9" r="1.5"/><circle cx="159.3" cy="76.9" r="1.5"/><circle cx="154.4" cy="68.2" r="1.5"/><circle cx="159.4" cy="72.3" r="1.5"/><circle cx="156.8" cy="62.3" r="1.5"/><circle cx="153.5" cy="59.7" r="1.5"/><circle cx="157.5" cy="74.6" r="1.5"/><circle cx="153.0" cy="84.1" r="1.5"/><circle cx="154.3" cy="70.4" r="1.5"/><circle cx="153.6" cy="66.1" r="1.5"/><circle cx="159.0" cy="68.0" r="1.5"/><circle cx="153.5" cy="72.7" r="1.5"/><circle cx="154.7" cy="85.1" r="1.5"/><circle cx="152.6" cy="87.4" r="1.5"/><circle cx="153.5" cy="84.9" r="1.5"/><circle cx="156.8" cy="64.3" r="1.5"/><circle cx="154.5" cy="66.6" r="1.5"/><circle cx="154.8" cy="64.0" r="1.5"/><circle cx="155.1" cy="87.7" r="1.5"/><circle cx="152.8" cy="100.5" r="1.5"/><circle cx="154.9" cy="100.4" r="1.5"/><circle cx="153.5" cy="105.2" r="1.5"/><circle cx="159.0" cy="108.8" r="1.5"/><circle cx="154.9" cy="105.1" r="1.5"/><circle cx="155.6" cy="106.0" r="1.5"/><circle cx="153.4" cy="108.9" r="1.5"/><circle cx="158.8" cy="99.9" r="1.5"/><circle cx="156.6" cy="100.7" r="1.5"/><circle cx="156.8" cy="88.5" r="1.5"/><circle cx="158.9" cy="93.4" r="1.5"/><circle cx="153.7" cy="90.5" r="1.5"/><circle cx="155.4" cy="107.6" r="1.5"/><circle cx="153.6" cy="90.3" r="1.5"/><circle cx="157.4" cy="92.7" r="1.5"/><circle cx="153.5" cy="102.4" r="1.5"/><circle cx="156.4" cy="100.5" r="1.5"/><circle cx="157.0" cy="90.5" r="1.5"/><circle cx="159.6" cy="105.2" r="1.5"/><circle cx="153.6" cy="91.0" r="1.5"/><circle cx="154.6" cy="100.0" r="1.5"/><circle cx="154.9" cy="90.9" r="1.5"/><circle cx="155.2" cy="91.3" r="1.5"/><circle cx="156.8" cy="108.7" r="1.5"/><circle cx="153.0" cy="101.7" r="1.5"/><circle cx="156.4" cy="91.9" r="1.5"/><circle cx="158.9" cy="110.5" r="1.5"/><circle cx="163.6" cy="62.5" r="1.5"/><circle cx="161.2" cy="87.2" r="1.5"/><circle cx="163.1" cy="86.4" r="1.5"/><circle cx="163.1" cy="83.0" r="1.5"/><circle cx="163.1" cy="85.0" r="1.5"/><circle cx="160.9" cy="78.7" r="1.5"/><circle cx="161.1" cy="79.6" r="1.5"/><circle cx="160.9" cy="76.1" r="1.5"/><circle cx="163.2" cy="78.2" r="1.5"/><circle cx="160.6" cy="75.5" r="1.5"/><circle cx="161.3" cy="86.7" r="1.5"/><circle cx="161.7" cy="69.9" r="1.5"/><circle cx="163.8" cy="65.1" r="1.5"/><circle cx="163.7" cy="86.9" r="1.5"/><circle cx="163.8" cy="69.0" r="1.5"/><circle cx="161.3" cy="103.6" r="1.5"/><circle cx="161.2" cy="100.1" r="1.5"/><circle cx="163.3" cy="98.3" r="1.5"/><circle cx="161.9" cy="93.3" r="1.5"/><circle cx="160.9" cy="99.3" r="1.5"/><circle cx="161.6" cy="100.9" r="1.5"/><circle cx="160.7" cy="95.8" r="1.5"/><circle cx="163.0" cy="93.2" r="1.5"/><circle cx="181.3" cy="71.8" r="1.5"/><circle cx="166.0" cy="70.2" r="1.5"/><circle cx="172.7" cy="80.3" r="1.5"/><circle cx="167.0" cy="65.5" r="1.5"/><circle cx="182.4" cy="80.4" r="1.5"/><circle cx="167.2" cy="68.8" r="1.5"/><circle cx="171.2" cy="78.6" r="1.5"/><circle cx="177.0" cy="83.6" r="1.5"/><circle cx="180.3" cy="74.0" r="1.5"/><circle cx="178.8" cy="80.6" r="1.5"/><circle cx="179.2" cy="72.8" r="1.5"/><circle cx="178.6" cy="79.5" r="1.5"/><circle cx="183.3" cy="62.7" r="1.5"/><circle cx="181.0" cy="59.1" r="1.5"/><circle cx="179.4" cy="76.0" r="1.5"/><circle cx="173.0" cy="86.9" r="1.5"/><circle cx="175.2" cy="71.1" r="1.5"/><circle cx="179.3" cy="84.3" r="1.5"/><circle cx="176.9" cy="70.0" r="1.5"/><circle cx="172.7" cy="72.3" r="1.5"/><circle cx="179.5" cy="67.5" r="1.5"/><circle cx="171.8" cy="75.1" r="1.5"/><circle cx="171.2" cy="68.3" r="1.5"/><circle cx="178.4" cy="83.6" r="1.5"/><circle cx="173.8" cy="71.9" r="1.5"/><circle cx="167.8" cy="67.8" r="1.5"/><circle cx="167.0" cy="75.7" r="1.5"/><circle cx="174.9" cy="61.5" r="1.5"/><circle cx="182.3" cy="68.4" r="1.5"/><circle cx="181.4" cy="83.3" r="1.5"/><circle cx="182.4" cy="64.9" r="1.5"/><circle cx="173.9" cy="85.4" r="1.5"/><circle cx="166.1" cy="60.4" r="1.5"/><circle cx="174.7" cy="73.4" r="1.5"/><circle cx="183.1" cy="81.4" r="1.5"/><circle cx="175.1" cy="88.0" r="1.5"/><circle cx="175.6" cy="74.0" r="1.5"/><circle cx="177.6" cy="70.3" r="1.5"/><circle cx="171.1" cy="76.2" r="1.5"/><circle cx="170.9" cy="86.5" r="1.5"/><circle cx="177.8" cy="74.2" r="1.5"/><circle cx="165.6" cy="69.9" r="1.5"/><circle cx="174.0" cy="75.3" r="1.5"/><circle cx="175.5" cy="84.5" r="1.5"/><circle cx="183.2" cy="73.1" r="1.5"/><circle cx="173.8" cy="77.1" r="1.5"/><circle cx="183.0" cy="69.0" r="1.5"/><circle cx="175.2" cy="82.7" r="1.5"/><circle cx="167.0" cy="68.2" r="1.5"/><circle cx="183.1" cy="83.0" r="1.5"/><circle cx="175.1" cy="62.2" r="1.5"/><circle cx="181.0" cy="79.0" r="1.5"/><circle cx="181.5" cy="87.7" r="1.5"/><circle cx="180.4" cy="71.2" r="1.5"/><circle cx="168.0" cy="67.4" r="1.5"/><circle cx="174.6" cy="73.6" r="1.5"/><circle cx="167.9" cy="64.3" r="1.5"/><circle cx="177.6" cy="76.5" r="1.5"/><circle cx="171.1" cy="87.8" r="1.5"/><circle cx="177.2" cy="60.2" r="1.5"/><circle cx="174.0" cy="81.8" r="1.5"/><circle cx="171.6" cy="79.0" r="1.5"/><circle cx="165.8" cy="67.8" r="1.5"/><circle cx="180.6" cy="76.0" r="1.5"/><circle cx="176.5" cy="64.7" r="1.5"/><circle cx="173.2" cy="75.0" r="1.5"/><circle cx="169.4" cy="77.8" r="1.5"/><circle cx="174.8" cy="87.9" r="1.5"/><circle cx="175.0" cy="70.9" r="1.5"/><circle cx="167.1" cy="63.5" r="1.5"/><circle cx="179.3" cy="62.1" r="1.5"/><circle cx="167.9" cy="63.9" r="1.5"/><circle cx="174.9" cy="82.9" r="1.5"/><circle cx="176.8" cy="82.4" r="1.5"/><circle cx="165.8" cy="59.4" r="1.5"/><circle cx="179.0" cy="68.4" r="1.5"/><circle cx="179.7" cy="69.3" r="1.5"/><circle cx="167.4" cy="66.7" r="1.5"/><circle cx="165.5" cy="85.2" r="1.5"/><circle cx="175.8" cy="69.1" r="1.5"/><circle cx="172.8" cy="70.2" r="1.5"/><circle cx="165.8" cy="84.8" r="1.5"/><circle cx="175.0" cy="86.8" r="1.5"/><circle cx="173.8" cy="77.0" r="1.5"/><circle cx="169.6" cy="60.3" r="1.5"/><circle cx="183.2" cy="83.8" r="1.5"/><circle cx="171.0" cy="85.1" r="1.5"/><circle cx="181.2" cy="67.8" r="1.5"/><circle cx="177.3" cy="86.8" r="1.5"/><circle cx="173.3" cy="86.5" r="1.5"/><circle cx="169.9" cy="70.3" r="1.5"/><circle cx="179.5" cy="65.4" r="1.5"/><circle cx="170.9" cy="84.4" r="1.5"/><circle cx="173.1" cy="82.0" r="1.5"/><circle cx="169.4" cy="64.0" r="1.5"/><circle cx="171.0" cy="64.4" r="1.5"/><circle cx="182.2" cy="67.4" r="1.5"/><circle cx="174.9" cy="62.3" r="1.5"/><circle cx="174.8" cy="70.2" r="1.5"/><circle cx="173.6" cy="60.9" r="1.5"/><circle cx="167.6" cy="82.9" r="1.5"/><circle cx="170.9" cy="66.1" r="1.5"/><circle cx="167.4" cy="67.2" r="1.5"/><circle cx="169.5" cy="60.0" r="1.5"/><circle cx="177.0" cy="68.9" r="1.5"/><circle cx="167.2" cy="79.5" r="1.5"/><circle cx="165.2" cy="66.8" r="1.5"/><circle cx="180.3" cy="62.7" r="1.5"/><circle cx="174.0" cy="83.3" r="1.5"/><circle cx="181.3" cy="63.6" r="1.5"/><circle cx="170.9" cy="80.0" r="1.5"/><circle cx="171.8" cy="86.8" r="1.5"/><circle cx="170.2" cy="86.6" r="1.5"/><circle cx="175.3" cy="65.6" r="1.5"/><circle cx="172.8" cy="62.8" r="1.5"/><circle cx="179.0" cy="66.6" r="1.5"/><circle cx="180.9" cy="76.0" r="1.5"/><circle cx="171.0" cy="66.1" r="1.5"/><circle cx="177.2" cy="65.2" r="1.5"/><circle cx="180.3" cy="62.6" r="1.5"/><circle cx="175.8" cy="74.7" r="1.5"/><circle cx="169.8" cy="81.4" r="1.5"/><circle cx="171.6" cy="78.1" r="1.5"/><circle cx="175.9" cy="68.0" r="1.5"/><circle cx="171.7" cy="61.5" r="1.5"/><circle cx="167.3" cy="83.7" r="1.5"/><circle cx="171.1" cy="78.2" r="1.5"/><circle cx="167.1" cy="75.3" r="1.5"/><circle cx="170.8" cy="73.5" r="1.5"/><circle cx="169.9" cy="60.9" r="1.5"/><circle cx="171.9" cy="65.6" r="1.5"/><circle cx="167.4" cy="79.8" r="1.5"/><circle cx="169.1" cy="70.7" r="1.5"/><circle cx="183.0" cy="81.5" r="1.5"/><circle cx="181.4" cy="84.0" r="1.5"/><circle cx="168.2" cy="67.0" r="1.5"/><circle cx="165.3" cy="78.7" r="1.5"/><circle cx="177.5" cy="69.2" r="1.5"/><circle cx="173.8" cy="78.1" r="1.5"/><circle cx="177.5" cy="66.2" r="1.5"/><circle cx="180.7" cy="69.2" r="1.5"/><circle cx="176.7" cy="64.3" r="1.5"/><circle cx="168.1" cy="85.5" r="1.5"/><circle cx="172.0" cy="99.1" r="1.5"/><circle cx="175.9" cy="99.1" r="1.5"/><circle cx="181.2" cy="95.2" r="1.5"/><circle cx="165.5" cy="105.0" r="1.5"/><circle cx="177.5" cy="112.6" r="1.5"/><circle cx="179.4" cy="115.2" r="1.5"/><circle cx="182.9" cy="102.8" r="1.5"/><circle cx="173.5" cy="92.7" r="1.5"/><circle cx="169.3" cy="105.4" r="1.5"/><circle cx="165.8" cy="108.6" r="1.5"/><circle cx="167.5" cy="101.3" r="1.5"/><circle cx="182.2" cy="90.7" r="1.5"/><circle cx="165.5" cy="101.2" r="1.5"/><circle cx="167.4" cy="109.7" r="1.5"/><circle cx="166.4" cy="113.2" r="1.5"/><circle cx="180.9" cy="111.6" r="1.5"/><circle cx="173.2" cy="96.5" r="1.5"/><circle cx="176.8" cy="103.4" r="1.5"/><circle cx="173.0" cy="98.2" r="1.5"/><circle cx="173.1" cy="108.0" r="1.5"/><circle cx="180.4" cy="115.1" r="1.5"/><circle cx="167.0" cy="96.9" r="1.5"/><circle cx="173.9" cy="104.9" r="1.5"/><circle cx="171.4" cy="93.9" r="1.5"/><circle cx="165.7" cy="97.7" r="1.5"/><circle cx="173.4" cy="117.1" r="1.5"/><circle cx="182.6" cy="114.0" r="1.5"/><circle cx="182.4" cy="116.9" r="1.5"/><circle cx="176.5" cy="112.3" r="1.5"/><circle cx="165.5" cy="108.3" r="1.5"/><circle cx="176.9" cy="96.9" r="1.5"/><circle cx="175.6" cy="116.6" r="1.5"/><circle cx="173.4" cy="107.4" r="1.5"/><circle cx="170.2" cy="98.3" r="1.5"/><circle cx="180.7" cy="88.8" r="1.5"/><circle cx="168.2" cy="108.4" r="1.5"/><circle cx="173.5" cy="90.6" r="1.5"/><circle cx="176.6" cy="99.2" r="1.5"/><circle cx="174.8" cy="100.5" r="1.5"/><circle cx="175.4" cy="104.9" r="1.5"/><circle cx="172.1" cy="91.4" r="1.5"/><circle cx="167.4" cy="114.7" r="1.5"/><circle cx="175.6" cy="91.4" r="1.5"/><circle cx="180.8" cy="95.6" r="1.5"/><circle cx="166.3" cy="103.9" r="1.5"/><circle cx="168.9" cy="102.7" r="1.5"/><circle cx="175.2" cy="94.8" r="1.5"/><circle cx="175.8" cy="91.4" r="1.5"/><circle cx="174.9" cy="105.7" r="1.5"/><circle cx="165.4" cy="100.2" r="1.5"/><circle cx="165.1" cy="101.2" r="1.5"/><circle cx="180.5" cy="104.5" r="1.5"/><circle cx="178.7" cy="110.7" r="1.5"/><circle cx="167.9" cy="117.7" r="1.5"/><circle cx="178.7" cy="91.1" r="1.5"/><circle cx="180.8" cy="99.8" r="1.5"/><circle cx="167.2" cy="116.8" r="1.5"/><circle cx="175.4" cy="111.2" r="1.5"/><circle cx="168.2" cy="111.3" r="1.5"/><circle cx="166.0" cy="95.1" r="1.5"/><circle cx="171.0" cy="88.5" r="1.5"/><circle cx="175.6" cy="94.4" r="1.5"/><circle cx="170.2" cy="109.2" r="1.5"/><circle cx="173.5" cy="114.7" r="1.5"/><circle cx="176.6" cy="114.2" r="1.5"/><circle cx="175.7" cy="115.5" r="1.5"/><circle cx="181.5" cy="93.0" r="1.5"/><circle cx="178.8" cy="98.2" r="1.5"/><circle cx="178.5" cy="108.4" r="1.5"/><circle cx="180.5" cy="91.7" r="1.5"/><circle cx="171.5" cy="110.1" r="1.5"/><circle cx="183.4" cy="109.7" r="1.5"/><circle cx="165.9" cy="106.1" r="1.5"/><circle cx="166.3" cy="104.5" r="1.5"/><circle cx="180.5" cy="91.4" r="1.5"/><circle cx="182.6" cy="108.3" r="1.5"/><circle cx="169.9" cy="93.8" r="1.5"/><circle cx="173.6" cy="113.1" r="1.5"/><circle cx="175.1" cy="91.4" r="1.5"/><circle cx="166.0" cy="91.3" r="1.5"/><circle cx="180.7" cy="93.6" r="1.5"/><circle cx="174.6" cy="96.7" r="1.5"/><circle cx="177.0" cy="99.4" r="1.5"/><circle cx="167.0" cy="114.3" r="1.5"/><circle cx="175.4" cy="108.7" r="1.5"/><circle cx="180.7" cy="116.5" r="1.5"/><circle cx="165.7" cy="98.3" r="1.5"/><circle cx="167.8" cy="103.1" r="1.5"/><circle cx="180.6" cy="112.0" r="1.5"/><circle cx="165.7" cy="93.5" r="1.5"/><circle cx="180.3" cy="108.4" r="1.5"/><circle cx="172.0" cy="102.3" r="1.5"/><circle cx="167.7" cy="113.4" r="1.5"/><circle cx="172.1" cy="114.2" r="1.5"/><circle cx="176.5" cy="90.3" r="1.5"/><circle cx="171.6" cy="94.5" r="1.5"/><circle cx="181.3" cy="105.7" r="1.5"/><circle cx="165.5" cy="93.1" r="1.5"/><circle cx="170.9" cy="102.0" r="1.5"/><circle cx="174.8" cy="99.6" r="1.5"/><circle cx="170.9" cy="88.2" r="1.5"/><circle cx="175.6" cy="98.0" r="1.5"/><circle cx="165.2" cy="101.8" r="1.5"/><circle cx="183.3" cy="89.4" r="1.5"/><circle cx="167.5" cy="108.1" r="1.5"/><circle cx="169.6" cy="96.2" r="1.5"/><circle cx="175.4" cy="95.9" r="1.5"/><circle cx="175.3" cy="103.8" r="1.5"/><circle cx="183.1" cy="117.8" r="1.5"/><circle cx="165.9" cy="104.8" r="1.5"/><circle cx="178.8" cy="114.2" r="1.5"/><circle cx="179.4" cy="107.0" r="1.5"/><circle cx="176.8" cy="98.9" r="1.5"/><circle cx="169.8" cy="111.9" r="1.5"/><circle cx="231.1" cy="30.6" r="1.5"/><circle cx="215.0" cy="39.2" r="1.5"/><circle cx="206.4" cy="50.1" r="1.5"/><circle cx="206.7" cy="56.4" r="1.5"/><circle cx="211.5" cy="56.7" r="1.5"/><circle cx="212.7" cy="57.4" r="1.5"/><circle cx="219.6" cy="55.5" r="1.5"/><circle cx="221.3" cy="55.3" r="1.5"/><circle cx="228.8" cy="53.0" r="1.5"/><circle cx="226.3" cy="59.3" r="1.5"/><circle cx="201.8" cy="64.3" r="1.5"/><circle cx="202.9" cy="66.2" r="1.5"/><circle cx="210.0" cy="63.0" r="1.5"/><circle cx="212.0" cy="64.5" r="1.5"/><circle cx="214.0" cy="64.0" r="1.5"/><circle cx="216.0" cy="63.5" r="1.5"/><circle cx="215.0" cy="66.0" r="1.5"/><circle cx="217.0" cy="67.0" r="1.5"/><circle cx="214.5" cy="68.0" r="1.5"/><circle cx="223.0" cy="63.0" r="1.5"/><circle cx="224.5" cy="64.5" r="1.5"/><circle cx="226.0" cy="64.0" r="1.5"/><circle cx="228.0" cy="63.0" r="1.5"/><circle cx="227.5" cy="65.5" r="1.5"/><circle cx="228.8" cy="67.3" r="1.5"/><circle cx="196.6" cy="69.1" r="1.5"/><circle cx="204.6" cy="68.5" r="1.5"/><circle cx="206.9" cy="69.1" r="1.5"/><circle cx="246.7" cy="36.6" r="1.5"/><circle cx="236.8" cy="45.5" r="1.5"/><circle cx="255.6" cy="44.4" r="1.5"/><circle cx="247.2" cy="47.8" r="1.5"/><circle cx="250.4" cy="51.3" r="1.5"/><circle cx="253.8" cy="51.3" r="1.5"/><circle cx="240.6" cy="53.0" r="1.5"/><circle cx="238.3" cy="55.9" r="1.5"/><circle cx="235.4" cy="57.6" r="1.5"/><circle cx="247.5" cy="57.6" r="1.5"/><circle cx="262.5" cy="56.4" r="1.5"/><circle cx="264.2" cy="58.2" r="1.5"/><circle cx="271.1" cy="59.9" r="1.5"/><circle cx="240.0" cy="59.9" r="1.5"/><circle cx="242.9" cy="60.5" r="1.5"/><circle cx="234.3" cy="61.6" r="1.5"/><circle cx="237.2" cy="62.2" r="1.5"/><circle cx="267.6" cy="64.5" r="1.5"/><circle cx="266.5" cy="67.4" r="1.5"/><circle cx="282.9" cy="62.4" r="1.5"/><circle cx="281.8" cy="68.5" r="1.5"/><circle cx="277.7" cy="71.1" r="1.5"/><circle cx="282.3" cy="71.7" r="1.5"/><circle cx="283.5" cy="72.3" r="1.5"/><circle cx="295.0" cy="75.2" r="1.5"/><circle cx="295.0" cy="76.9" r="1.5"/><circle cx="292.1" cy="80.3" r="1.5"/><circle cx="295.0" cy="79.8" r="1.5"/><circle cx="300.2" cy="78.0" r="1.5"/><circle cx="299.6" cy="81.5" r="1.5"/><circle cx="305.3" cy="78.0" r="1.5"/><circle cx="311.7" cy="76.3" r="1.5"/><circle cx="291.0" cy="86.1" r="1.5"/><circle cx="299.0" cy="84.9" r="1.5"/><circle cx="300.7" cy="86.7" r="1.5"/><circle cx="301.9" cy="88.4" r="1.5"/><circle cx="305.3" cy="84.9" r="1.5"/><circle cx="295.0" cy="90.1" r="1.5"/><circle cx="297.9" cy="90.1" r="1.5"/><circle cx="300.2" cy="90.1" r="1.5"/><circle cx="296.7" cy="93.6" r="1.5"/><circle cx="296.7" cy="97.0" r="1.5"/><circle cx="286.9" cy="96.4" r="1.5"/><circle cx="289.2" cy="97.0" r="1.5"/><circle cx="292.1" cy="99.3" r="1.5"/><circle cx="295.6" cy="100.5" r="1.5"/><circle cx="285.2" cy="102.8" r="1.5"/><circle cx="291.0" cy="105.1" r="1.5"/><circle cx="306.5" cy="106.8" r="1.5"/><circle cx="311.1" cy="97.6" r="1.5"/><circle cx="282.3" cy="107.9" r="1.5"/><circle cx="284.6" cy="107.9" r="1.5"/><circle cx="277.7" cy="106.8" r="1.5"/><circle cx="276.6" cy="109.7" r="1.5"/><circle cx="312.9" cy="76.7" r="1.5"/><circle cx="323.8" cy="83.2" r="1.5"/><circle cx="316.3" cy="86.6" r="1.5"/><circle cx="322.4" cy="88.0" r="1.5"/><circle cx="329.3" cy="89.4" r="1.5"/><circle cx="330.5" cy="88.2" r="1.5"/><circle cx="331.3" cy="93.2" r="1.5"/><circle cx="312.3" cy="96.0" r="1.5"/><circle cx="311.7" cy="97.8" r="1.5"/><circle cx="319.4" cy="98.3" r="1.5"/><circle cx="323.2" cy="99.5" r="1.5"/><circle cx="331.3" cy="99.5" r="1.5"/><circle cx="329.5" cy="102.4" r="1.5"/><circle cx="330.1" cy="103.5" r="1.5"/><circle cx="340.5" cy="98.3" r="1.5"/><circle cx="343.3" cy="104.7" r="1.5"/><circle cx="197.7" cy="103.6" r="1.5"/><circle cx="217.0" cy="102.9" r="1.5"/><circle cx="218.4" cy="105.0" r="1.5"/><circle cx="222.7" cy="107.1" r="1.5"/><circle cx="223.4" cy="108.6" r="1.5"/><circle cx="229.9" cy="106.4" r="1.5"/><circle cx="230.6" cy="109.3" r="1.5"/><circle cx="233.4" cy="104.3" r="1.5"/><circle cx="234.9" cy="106.4" r="1.5"/><circle cx="213.1" cy="108.9" r="1.5"/><circle cx="210.6" cy="112.9" r="1.5"/><circle cx="214.6" cy="115.4" r="1.5"/><circle cx="211.7" cy="118.9" r="1.5"/><circle cx="213.1" cy="126.0" r="1.5"/><circle cx="224.6" cy="116.4" r="1.5"/><circle cx="233.1" cy="113.9" r="1.5"/><circle cx="240.3" cy="118.9" r="1.5"/><circle cx="233.1" cy="130.0" r="1.5"/><circle cx="238.9" cy="128.1" r="1.5"/><circle cx="241.4" cy="118.6" r="1.5"/><circle cx="246.4" cy="116.9" r="1.5"/><circle cx="253.6" cy="120.7" r="1.5"/><circle cx="254.3" cy="126.4" r="1.5"/><circle cx="260.0" cy="124.3" r="1.5"/><circle cx="263.6" cy="125.7" r="1.5"/><circle cx="260.7" cy="131.4" r="1.5"/><circle cx="268.6" cy="127.9" r="1.5"/><circle cx="267.1" cy="121.4" r="1.5"/><circle cx="275.0" cy="125.0" r="1.5"/><circle cx="277.1" cy="127.9" r="1.5"/><circle cx="280.0" cy="123.6" r="1.5"/><circle cx="282.9" cy="117.1" r="1.5"/><circle cx="285.7" cy="119.3" r="1.5"/><circle cx="285.7" cy="102.1" r="1.5"/><circle cx="282.9" cy="108.6" r="1.5"/><circle cx="278.6" cy="110.0" r="1.5"/><circle cx="277.1" cy="113.6" r="1.5"/><circle cx="272.9" cy="117.9" r="1.5"/><circle cx="278.6" cy="104.3" r="1.5"/><circle cx="274.3" cy="101.4" r="1.5"/><circle cx="285.9" cy="102.2" r="1.5"/><circle cx="291.5" cy="104.6" r="1.5"/><circle cx="295.2" cy="100.6" r="1.5"/><circle cx="285.9" cy="107.4" r="1.5"/><circle cx="306.9" cy="107.1" r="1.5"/><circle cx="320.7" cy="108.4" r="1.5"/><circle cx="324.0" cy="100.0" r="1.5"/><circle cx="329.6" cy="101.9" r="1.5"/><circle cx="330.5" cy="104.6" r="1.5"/><circle cx="333.7" cy="108.9" r="1.5"/><circle cx="343.6" cy="106.0" r="1.5"/><circle cx="296.5" cy="115.2" r="1.5"/><circle cx="285.9" cy="119.5" r="1.5"/><circle cx="302.7" cy="121.4" r="1.5"/><circle cx="329.6" cy="117.1" r="1.5"/><circle cx="343.0" cy="119.1" r="1.5"/><circle cx="313.3" cy="128.3" r="1.5"/><circle cx="303.6" cy="132.0" r="1.5"/><circle cx="225.3" cy="73.6" r="1.5"/><circle cx="206.7" cy="73.6" r="1.5"/><circle cx="234.1" cy="68.8" r="1.5"/><circle cx="205.4" cy="69.8" r="1.5"/><circle cx="232.6" cy="64.0" r="1.5"/><circle cx="220.9" cy="73.6" r="1.5"/><circle cx="208.9" cy="76.8" r="1.5"/><circle cx="203.4" cy="73.3" r="1.5"/><circle cx="214.6" cy="70.3" r="1.5"/><circle cx="201.5" cy="76.1" r="1.5"/><circle cx="201.3" cy="73.1" r="1.5"/><circle cx="231.8" cy="64.4" r="1.5"/><circle cx="195.2" cy="73.7" r="1.5"/><circle cx="203.9" cy="76.7" r="1.5"/><circle cx="214.5" cy="71.5" r="1.5"/><circle cx="208.1" cy="74.0" r="1.5"/><circle cx="212.9" cy="66.9" r="1.5"/><circle cx="231.0" cy="63.6" r="1.5"/><circle cx="220.5" cy="68.0" r="1.5"/><circle cx="229.4" cy="62.9" r="1.5"/><circle cx="217.1" cy="68.1" r="1.5"/><circle cx="231.7" cy="76.2" r="1.5"/><circle cx="219.7" cy="65.4" r="1.5"/><circle cx="211.8" cy="65.5" r="1.5"/><circle cx="202.3" cy="73.4" r="1.5"/><circle cx="220.4" cy="66.5" r="1.5"/><circle cx="234.8" cy="65.2" r="1.5"/><circle cx="229.4" cy="75.0" r="1.5"/><circle cx="205.0" cy="73.3" r="1.5"/><circle cx="227.7" cy="66.2" r="1.5"/><circle cx="207.6" cy="69.3" r="1.5"/><circle cx="230.5" cy="64.4" r="1.5"/><circle cx="222.0" cy="71.0" r="1.5"/><circle cx="212.6" cy="70.7" r="1.5"/><circle cx="230.2" cy="65.1" r="1.5"/><circle cx="230.2" cy="67.4" r="1.5"/><circle cx="226.0" cy="75.0" r="1.5"/><circle cx="201.5" cy="75.0" r="1.5"/><circle cx="234.8" cy="66.5" r="1.5"/><circle cx="233.9" cy="62.1" r="1.5"/><circle cx="231.4" cy="64.3" r="1.5"/><circle cx="224.2" cy="63.5" r="1.5"/><circle cx="200.9" cy="72.2" r="1.5"/><circle cx="231.7" cy="72.7" r="1.5"/><circle cx="230.2" cy="76.7" r="1.5"/><circle cx="226.5" cy="95.6" r="1.5"/><circle cx="195.6" cy="90.6" r="1.5"/><circle cx="203.5" cy="88.6" r="1.5"/><circle cx="198.3" cy="77.5" r="1.5"/><circle cx="234.6" cy="85.5" r="1.5"/><circle cx="230.0" cy="80.3" r="1.5"/><circle cx="214.0" cy="80.7" r="1.5"/><circle cx="211.6" cy="81.8" r="1.5"/><circle cx="222.1" cy="81.0" r="1.5"/><circle cx="224.3" cy="90.5" r="1.5"/><circle cx="198.6" cy="86.5" r="1.5"/><circle cx="214.3" cy="101.8" r="1.5"/><circle cx="208.3" cy="82.8" r="1.5"/><circle cx="233.7" cy="100.8" r="1.5"/><circle cx="224.0" cy="84.4" r="1.5"/><circle cx="201.3" cy="84.1" r="1.5"/><circle cx="196.8" cy="78.2" r="1.5"/><circle cx="214.9" cy="88.0" r="1.5"/><circle cx="216.8" cy="86.8" r="1.5"/><circle cx="194.4" cy="95.6" r="1.5"/><circle cx="220.8" cy="91.7" r="1.5"/><circle cx="216.5" cy="95.6" r="1.5"/><circle cx="234.3" cy="100.6" r="1.5"/><circle cx="223.4" cy="87.8" r="1.5"/><circle cx="207.0" cy="88.3" r="1.5"/><circle cx="233.9" cy="87.5" r="1.5"/><circle cx="209.8" cy="88.1" r="1.5"/><circle cx="199.9" cy="104.0" r="1.5"/><circle cx="194.2" cy="93.4" r="1.5"/><circle cx="232.0" cy="83.9" r="1.5"/><circle cx="219.0" cy="87.2" r="1.5"/><circle cx="203.9" cy="82.4" r="1.5"/><circle cx="198.8" cy="99.8" r="1.5"/><circle cx="226.1" cy="101.5" r="1.5"/><circle cx="196.0" cy="95.7" r="1.5"/><circle cx="207.3" cy="94.4" r="1.5"/><circle cx="216.5" cy="85.5" r="1.5"/><circle cx="233.8" cy="77.0" r="1.5"/><circle cx="224.6" cy="100.0" r="1.5"/><circle cx="214.9" cy="93.0" r="1.5"/><circle cx="234.8" cy="83.3" r="1.5"/><circle cx="219.8" cy="97.1" r="1.5"/><circle cx="209.5" cy="96.2" r="1.5"/><circle cx="210.1" cy="91.2" r="1.5"/><circle cx="219.1" cy="95.3" r="1.5"/><circle cx="207.2" cy="94.0" r="1.5"/><circle cx="216.3" cy="83.0" r="1.5"/><circle cx="219.1" cy="84.2" r="1.5"/><circle cx="231.3" cy="89.8" r="1.5"/><circle cx="223.6" cy="91.1" r="1.5"/><circle cx="213.5" cy="83.0" r="1.5"/><circle cx="199.8" cy="102.0" r="1.5"/><circle cx="215.7" cy="91.1" r="1.5"/><circle cx="215.6" cy="99.0" r="1.5"/><circle cx="203.8" cy="81.7" r="1.5"/><circle cx="227.7" cy="89.4" r="1.5"/><circle cx="220.3" cy="99.3" r="1.5"/><circle cx="230.7" cy="100.4" r="1.5"/><circle cx="195.8" cy="87.3" r="1.5"/><circle cx="228.1" cy="99.1" r="1.5"/><circle cx="199.0" cy="81.2" r="1.5"/><circle cx="204.3" cy="79.8" r="1.5"/><circle cx="208.6" cy="98.7" r="1.5"/><circle cx="215.4" cy="89.2" r="1.5"/><circle cx="197.6" cy="87.7" r="1.5"/><circle cx="234.9" cy="95.8" r="1.5"/><circle cx="212.4" cy="89.9" r="1.5"/><circle cx="226.7" cy="97.5" r="1.5"/><circle cx="200.1" cy="95.4" r="1.5"/><circle cx="209.0" cy="91.1" r="1.5"/><circle cx="203.7" cy="87.0" r="1.5"/><circle cx="207.9" cy="87.3" r="1.5"/><circle cx="194.7" cy="82.4" r="1.5"/><circle cx="217.4" cy="78.6" r="1.5"/><circle cx="201.3" cy="96.4" r="1.5"/><circle cx="205.3" cy="85.7" r="1.5"/><circle cx="203.9" cy="99.5" r="1.5"/><circle cx="197.7" cy="94.2" r="1.5"/><circle cx="229.2" cy="82.4" r="1.5"/><circle cx="211.3" cy="98.4" r="1.5"/><circle cx="219.3" cy="87.0" r="1.5"/><circle cx="195.8" cy="88.9" r="1.5"/><circle cx="209.1" cy="96.2" r="1.5"/><circle cx="206.1" cy="88.0" r="1.5"/><circle cx="220.6" cy="98.9" r="1.5"/><circle cx="208.4" cy="87.4" r="1.5"/><circle cx="217.7" cy="102.0" r="1.5"/><circle cx="201.9" cy="103.2" r="1.5"/><circle cx="223.2" cy="87.1" r="1.5"/><circle cx="221.3" cy="85.9" r="1.5"/><circle cx="196.9" cy="97.4" r="1.5"/><circle cx="209.6" cy="91.2" r="1.5"/><circle cx="214.4" cy="101.3" r="1.5"/><circle cx="225.0" cy="77.7" r="1.5"/><circle cx="218.3" cy="89.5" r="1.5"/><circle cx="212.9" cy="99.7" r="1.5"/><circle cx="211.0" cy="89.8" r="1.5"/><circle cx="230.5" cy="88.9" r="1.5"/><circle cx="214.1" cy="90.8" r="1.5"/><circle cx="227.8" cy="95.1" r="1.5"/><circle cx="224.4" cy="87.8" r="1.5"/><circle cx="195.7" cy="95.4" r="1.5"/><circle cx="216.7" cy="97.8" r="1.5"/><circle cx="225.6" cy="80.2" r="1.5"/><circle cx="203.0" cy="79.1" r="1.5"/><circle cx="227.5" cy="79.7" r="1.5"/><circle cx="197.6" cy="97.3" r="1.5"/><circle cx="217.1" cy="78.5" r="1.5"/><circle cx="221.9" cy="96.2" r="1.5"/><circle cx="213.8" cy="78.5" r="1.5"/><circle cx="222.3" cy="88.3" r="1.5"/><circle cx="217.9" cy="103.9" r="1.5"/><circle cx="227.5" cy="100.5" r="1.5"/><circle cx="200.0" cy="86.0" r="1.5"/><circle cx="215.2" cy="77.2" r="1.5"/><circle cx="234.5" cy="84.4" r="1.5"/><circle cx="204.8" cy="85.5" r="1.5"/><circle cx="204.5" cy="100.2" r="1.5"/><circle cx="216.8" cy="90.8" r="1.5"/><circle cx="211.2" cy="78.4" r="1.5"/><circle cx="206.5" cy="100.4" r="1.5"/><circle cx="226.9" cy="100.1" r="1.5"/><circle cx="204.5" cy="82.5" r="1.5"/><circle cx="196.1" cy="91.5" r="1.5"/><circle cx="209.3" cy="89.5" r="1.5"/><circle cx="214.0" cy="92.8" r="1.5"/><circle cx="209.0" cy="98.6" r="1.5"/><circle cx="202.2" cy="101.8" r="1.5"/><circle cx="216.8" cy="78.4" r="1.5"/><circle cx="206.9" cy="91.4" r="1.5"/><circle cx="210.8" cy="92.3" r="1.5"/><circle cx="207.3" cy="84.4" r="1.5"/><circle cx="226.6" cy="84.9" r="1.5"/><circle cx="223.1" cy="98.7" r="1.5"/><circle cx="218.3" cy="89.3" r="1.5"/><circle cx="232.3" cy="89.0" r="1.5"/><circle cx="230.0" cy="78.6" r="1.5"/><circle cx="211.8" cy="94.3" r="1.5"/><circle cx="196.0" cy="100.3" r="1.5"/><circle cx="196.9" cy="93.1" r="1.5"/><circle cx="201.4" cy="101.9" r="1.5"/><circle cx="217.0" cy="98.6" r="1.5"/><circle cx="214.4" cy="95.2" r="1.5"/><circle cx="221.7" cy="85.0" r="1.5"/><circle cx="202.7" cy="99.6" r="1.5"/><circle cx="200.0" cy="101.8" r="1.5"/><circle cx="202.5" cy="79.7" r="1.5"/><circle cx="197.9" cy="98.2" r="1.5"/><circle cx="233.0" cy="88.2" r="1.5"/><circle cx="221.0" cy="84.0" r="1.5"/><circle cx="231.1" cy="95.5" r="1.5"/><circle cx="200.3" cy="78.5" r="1.5"/><circle cx="222.5" cy="78.1" r="1.5"/><circle cx="228.3" cy="84.9" r="1.5"/><circle cx="203.5" cy="92.7" r="1.5"/><circle cx="214.6" cy="60.0" r="1.5"/><circle cx="209.6" cy="63.2" r="1.5"/><circle cx="214.7" cy="62.6" r="1.5"/><circle cx="209.6" cy="62.2" r="1.5"/><circle cx="234.4" cy="58.5" r="1.5"/><circle cx="206.0" cy="58.4" r="1.5"/><circle cx="224.2" cy="57.0" r="1.5"/><circle cx="218.9" cy="61.6" r="1.5"/><circle cx="217.9" cy="61.1" r="1.5"/><circle cx="208.4" cy="62.5" r="1.5"/><circle cx="239.0" cy="98.5" r="1.5"/><circle cx="267.9" cy="99.3" r="1.5"/><circle cx="252.4" cy="70.1" r="1.5"/><circle cx="246.5" cy="90.8" r="1.5"/><circle cx="251.4" cy="98.8" r="1.5"/><circle cx="238.1" cy="78.8" r="1.5"/><circle cx="263.5" cy="83.9" r="1.5"/><circle cx="252.8" cy="61.0" r="1.5"/><circle cx="239.6" cy="69.2" r="1.5"/><circle cx="264.5" cy="95.0" r="1.5"/><circle cx="242.5" cy="98.6" r="1.5"/><circle cx="236.1" cy="83.9" r="1.5"/><circle cx="266.9" cy="72.5" r="1.5"/><circle cx="266.2" cy="86.5" r="1.5"/><circle cx="236.7" cy="72.0" r="1.5"/><circle cx="249.8" cy="68.1" r="1.5"/><circle cx="259.5" cy="65.0" r="1.5"/><circle cx="261.0" cy="70.4" r="1.5"/><circle cx="237.3" cy="82.2" r="1.5"/><circle cx="238.2" cy="81.8" r="1.5"/><circle cx="261.0" cy="83.8" r="1.5"/><circle cx="250.2" cy="58.5" r="1.5"/><circle cx="251.9" cy="61.4" r="1.5"/><circle cx="256.3" cy="62.9" r="1.5"/><circle cx="254.1" cy="72.9" r="1.5"/><circle cx="247.4" cy="86.8" r="1.5"/><circle cx="240.4" cy="64.6" r="1.5"/><circle cx="266.1" cy="71.9" r="1.5"/><circle cx="262.8" cy="96.3" r="1.5"/><circle cx="250.8" cy="63.7" r="1.5"/><circle cx="238.1" cy="96.6" r="1.5"/><circle cx="238.9" cy="79.3" r="1.5"/><circle cx="252.7" cy="62.3" r="1.5"/><circle cx="250.4" cy="64.4" r="1.5"/><circle cx="252.7" cy="79.8" r="1.5"/><circle cx="247.1" cy="65.9" r="1.5"/><circle cx="248.3" cy="66.2" r="1.5"/><circle cx="239.2" cy="67.8" r="1.5"/><circle cx="263.8" cy="79.6" r="1.5"/><circle cx="266.1" cy="79.0" r="1.5"/><circle cx="261.1" cy="82.7" r="1.5"/><circle cx="257.7" cy="67.3" r="1.5"/><circle cx="259.8" cy="63.9" r="1.5"/><circle cx="248.0" cy="80.3" r="1.5"/><circle cx="244.6" cy="97.1" r="1.5"/><circle cx="237.8" cy="83.0" r="1.5"/><circle cx="242.7" cy="83.8" r="1.5"/><circle cx="260.9" cy="89.0" r="1.5"/><circle cx="237.1" cy="68.1" r="1.5"/><circle cx="254.8" cy="101.2" r="1.5"/><circle cx="236.4" cy="84.8" r="1.5"/><circle cx="257.8" cy="93.7" r="1.5"/><circle cx="246.3" cy="93.5" r="1.5"/><circle cx="250.2" cy="98.4" r="1.5"/><circle cx="235.4" cy="99.3" r="1.5"/><circle cx="248.6" cy="75.3" r="1.5"/><circle cx="237.9" cy="68.0" r="1.5"/><circle cx="259.2" cy="87.5" r="1.5"/><circle cx="240.0" cy="72.5" r="1.5"/><circle cx="239.6" cy="65.9" r="1.5"/><circle cx="242.2" cy="71.9" r="1.5"/><circle cx="267.2" cy="101.9" r="1.5"/><circle cx="261.1" cy="78.6" r="1.5"/><circle cx="251.4" cy="92.1" r="1.5"/><circle cx="265.0" cy="90.8" r="1.5"/><circle cx="256.0" cy="66.0" r="1.5"/><circle cx="255.6" cy="95.1" r="1.5"/><circle cx="261.0" cy="61.2" r="1.5"/><circle cx="258.7" cy="72.7" r="1.5"/><circle cx="240.4" cy="100.5" r="1.5"/><circle cx="257.2" cy="90.6" r="1.5"/><circle cx="239.5" cy="94.3" r="1.5"/><circle cx="265.9" cy="97.7" r="1.5"/><circle cx="259.6" cy="94.5" r="1.5"/><circle cx="261.5" cy="83.6" r="1.5"/><circle cx="249.4" cy="94.1" r="1.5"/><circle cx="260.9" cy="96.2" r="1.5"/><circle cx="244.9" cy="100.2" r="1.5"/><circle cx="252.5" cy="99.6" r="1.5"/><circle cx="238.8" cy="100.6" r="1.5"/><circle cx="261.0" cy="68.3" r="1.5"/><circle cx="262.7" cy="67.4" r="1.5"/><circle cx="241.5" cy="77.6" r="1.5"/><circle cx="242.8" cy="79.2" r="1.5"/><circle cx="265.0" cy="87.8" r="1.5"/><circle cx="258.4" cy="74.6" r="1.5"/><circle cx="260.9" cy="92.7" r="1.5"/><circle cx="257.5" cy="99.4" r="1.5"/><circle cx="262.3" cy="75.3" r="1.5"/><circle cx="237.9" cy="86.4" r="1.5"/><circle cx="262.6" cy="72.3" r="1.5"/><circle cx="254.6" cy="94.6" r="1.5"/><circle cx="261.2" cy="57.2" r="1.5"/><circle cx="238.6" cy="93.6" r="1.5"/><circle cx="248.8" cy="84.2" r="1.5"/><circle cx="250.1" cy="72.1" r="1.5"/><circle cx="242.1" cy="72.9" r="1.5"/><circle cx="262.9" cy="84.9" r="1.5"/><circle cx="244.6" cy="61.0" r="1.5"/><circle cx="243.9" cy="88.6" r="1.5"/><circle cx="249.6" cy="86.7" r="1.5"/><circle cx="261.6" cy="62.4" r="1.5"/><circle cx="257.5" cy="58.9" r="1.5"/><circle cx="262.2" cy="65.3" r="1.5"/><circle cx="244.0" cy="100.1" r="1.5"/><circle cx="247.0" cy="67.1" r="1.5"/><circle cx="264.4" cy="84.5" r="1.5"/><circle cx="264.5" cy="74.7" r="1.5"/><circle cx="251.5" cy="100.0" r="1.5"/><circle cx="251.7" cy="101.5" r="1.5"/><circle cx="241.3" cy="94.4" r="1.5"/><circle cx="240.4" cy="80.7" r="1.5"/><circle cx="235.0" cy="64.9" r="1.5"/><circle cx="266.2" cy="77.5" r="1.5"/><circle cx="261.7" cy="68.3" r="1.5"/><circle cx="246.6" cy="61.5" r="1.5"/><circle cx="253.2" cy="95.8" r="1.5"/><circle cx="252.0" cy="74.0" r="1.5"/><circle cx="265.6" cy="97.2" r="1.5"/><circle cx="257.0" cy="60.4" r="1.5"/><circle cx="255.6" cy="77.0" r="1.5"/><circle cx="266.6" cy="73.3" r="1.5"/><circle cx="256.8" cy="85.4" r="1.5"/><circle cx="247.4" cy="80.5" r="1.5"/><circle cx="257.3" cy="97.8" r="1.5"/><circle cx="251.4" cy="73.4" r="1.5"/><circle cx="262.5" cy="87.8" r="1.5"/><circle cx="253.4" cy="77.1" r="1.5"/><circle cx="259.8" cy="97.1" r="1.5"/><circle cx="259.1" cy="90.7" r="1.5"/><circle cx="236.2" cy="71.6" r="1.5"/><circle cx="239.5" cy="99.9" r="1.5"/><circle cx="264.4" cy="63.5" r="1.5"/><circle cx="254.4" cy="83.0" r="1.5"/><circle cx="236.5" cy="74.6" r="1.5"/><circle cx="259.7" cy="85.9" r="1.5"/><circle cx="244.3" cy="91.3" r="1.5"/><circle cx="244.6" cy="81.5" r="1.5"/><circle cx="248.9" cy="101.0" r="1.5"/><circle cx="256.4" cy="93.2" r="1.5"/><circle cx="257.3" cy="74.1" r="1.5"/><circle cx="266.8" cy="88.9" r="1.5"/><circle cx="257.8" cy="69.5" r="1.5"/><circle cx="240.3" cy="82.9" r="1.5"/><circle cx="262.3" cy="92.7" r="1.5"/><circle cx="246.5" cy="63.3" r="1.5"/><circle cx="252.0" cy="96.5" r="1.5"/><circle cx="240.4" cy="90.2" r="1.5"/><circle cx="240.6" cy="71.0" r="1.5"/><circle cx="236.8" cy="70.4" r="1.5"/><circle cx="247.6" cy="100.5" r="1.5"/><circle cx="266.8" cy="65.4" r="1.5"/><circle cx="245.2" cy="99.5" r="1.5"/><circle cx="241.5" cy="71.4" r="1.5"/><circle cx="249.5" cy="61.9" r="1.5"/><circle cx="243.6" cy="74.7" r="1.5"/><circle cx="247.7" cy="100.4" r="1.5"/><circle cx="243.8" cy="66.2" r="1.5"/><circle cx="265.0" cy="77.3" r="1.5"/><circle cx="262.6" cy="85.7" r="1.5"/><circle cx="260.7" cy="71.2" r="1.5"/><circle cx="240.0" cy="91.1" r="1.5"/><circle cx="250.5" cy="82.1" r="1.5"/><circle cx="257.1" cy="90.9" r="1.5"/><circle cx="244.1" cy="73.3" r="1.5"/><circle cx="265.3" cy="80.8" r="1.5"/><circle cx="244.5" cy="85.4" r="1.5"/><circle cx="243.6" cy="91.7" r="1.5"/><circle cx="236.4" cy="94.2" r="1.5"/><circle cx="253.7" cy="72.9" r="1.5"/><circle cx="266.0" cy="68.9" r="1.5"/><circle cx="243.0" cy="60.1" r="1.5"/><circle cx="253.1" cy="90.9" r="1.5"/><circle cx="257.4" cy="75.6" r="1.5"/><circle cx="261.7" cy="62.0" r="1.5"/><circle cx="245.1" cy="86.0" r="1.5"/><circle cx="266.9" cy="85.5" r="1.5"/><circle cx="257.8" cy="91.9" r="1.5"/><circle cx="248.0" cy="99.3" r="1.5"/><circle cx="259.5" cy="72.4" r="1.5"/><circle cx="248.0" cy="93.3" r="1.5"/><circle cx="246.5" cy="65.4" r="1.5"/><circle cx="263.8" cy="80.9" r="1.5"/><circle cx="252.2" cy="87.1" r="1.5"/><circle cx="264.7" cy="63.0" r="1.5"/><circle cx="246.2" cy="60.0" r="1.5"/><circle cx="248.6" cy="79.6" r="1.5"/><circle cx="263.1" cy="87.1" r="1.5"/><circle cx="254.1" cy="75.2" r="1.5"/><circle cx="253.9" cy="69.3" r="1.5"/><circle cx="262.9" cy="92.5" r="1.5"/><circle cx="262.7" cy="63.8" r="1.5"/><circle cx="257.2" cy="90.9" r="1.5"/><circle cx="251.5" cy="97.4" r="1.5"/><circle cx="264.7" cy="90.4" r="1.5"/><circle cx="262.1" cy="86.2" r="1.5"/><circle cx="264.0" cy="62.9" r="1.5"/><circle cx="258.2" cy="88.7" r="1.5"/><circle cx="255.2" cy="69.4" r="1.5"/><circle cx="237.2" cy="84.2" r="1.5"/><circle cx="262.2" cy="69.3" r="1.5"/><circle cx="242.0" cy="67.1" r="1.5"/><circle cx="238.1" cy="87.4" r="1.5"/><circle cx="267.2" cy="93.1" r="1.5"/><circle cx="246.9" cy="88.5" r="1.5"/><circle cx="237.4" cy="94.7" r="1.5"/><circle cx="255.8" cy="63.2" r="1.5"/><circle cx="244.1" cy="59.7" r="1.5"/><circle cx="249.7" cy="82.0" r="1.5"/><circle cx="261.6" cy="58.8" r="1.5"/><circle cx="262.3" cy="62.0" r="1.5"/><circle cx="242.4" cy="85.3" r="1.5"/><circle cx="246.2" cy="71.9" r="1.5"/><circle cx="253.8" cy="66.8" r="1.5"/><circle cx="261.2" cy="66.4" r="1.5"/><circle cx="262.7" cy="93.4" r="1.5"/><circle cx="252.7" cy="58.4" r="1.5"/><circle cx="260.7" cy="58.3" r="1.5"/><circle cx="251.7" cy="76.1" r="1.5"/><circle cx="237.1" cy="85.4" r="1.5"/><circle cx="258.9" cy="83.3" r="1.5"/><circle cx="248.2" cy="80.0" r="1.5"/><circle cx="254.4" cy="67.2" r="1.5"/><circle cx="263.6" cy="101.8" r="1.5"/><circle cx="261.5" cy="100.3" r="1.5"/><circle cx="245.9" cy="101.4" r="1.5"/><circle cx="237.4" cy="78.5" r="1.5"/><circle cx="239.4" cy="77.4" r="1.5"/><circle cx="257.5" cy="88.9" r="1.5"/><circle cx="250.0" cy="72.4" r="1.5"/><circle cx="241.3" cy="75.1" r="1.5"/><circle cx="244.3" cy="65.7" r="1.5"/><circle cx="259.3" cy="80.2" r="1.5"/><circle cx="249.5" cy="65.9" r="1.5"/><circle cx="258.2" cy="65.9" r="1.5"/><circle cx="243.8" cy="82.2" r="1.5"/><circle cx="258.1" cy="100.8" r="1.5"/><circle cx="259.7" cy="99.7" r="1.5"/><circle cx="265.4" cy="89.5" r="1.5"/><circle cx="258.7" cy="59.8" r="1.5"/><circle cx="263.5" cy="89.5" r="1.5"/><circle cx="255.8" cy="68.9" r="1.5"/><circle cx="246.7" cy="64.4" r="1.5"/><circle cx="255.9" cy="101.6" r="1.5"/><circle cx="245.1" cy="59.0" r="1.5"/><circle cx="240.8" cy="73.0" r="1.5"/><circle cx="264.7" cy="93.2" r="1.5"/><circle cx="250.0" cy="61.6" r="1.5"/><circle cx="238.5" cy="63.9" r="1.5"/><circle cx="260.7" cy="78.2" r="1.5"/><circle cx="267.7" cy="98.0" r="1.5"/><circle cx="261.2" cy="78.4" r="1.5"/><circle cx="262.1" cy="62.8" r="1.5"/><circle cx="238.6" cy="82.4" r="1.5"/><circle cx="251.8" cy="66.4" r="1.5"/><circle cx="265.0" cy="89.0" r="1.5"/><circle cx="266.2" cy="101.1" r="1.5"/><circle cx="249.4" cy="90.0" r="1.5"/><circle cx="247.7" cy="93.5" r="1.5"/><circle cx="262.8" cy="63.0" r="1.5"/><circle cx="235.4" cy="66.6" r="1.5"/><circle cx="254.3" cy="74.1" r="1.5"/><circle cx="235.3" cy="94.4" r="1.5"/><circle cx="260.9" cy="77.9" r="1.5"/><circle cx="236.4" cy="97.0" r="1.5"/><circle cx="252.6" cy="60.2" r="1.5"/><circle cx="245.7" cy="85.1" r="1.5"/><circle cx="264.2" cy="78.8" r="1.5"/><circle cx="256.1" cy="66.3" r="1.5"/><circle cx="243.0" cy="97.8" r="1.5"/><circle cx="247.6" cy="61.7" r="1.5"/><circle cx="254.5" cy="62.7" r="1.5"/><circle cx="241.6" cy="77.5" r="1.5"/><circle cx="254.3" cy="85.6" r="1.5"/><circle cx="258.3" cy="76.8" r="1.5"/><circle cx="237.2" cy="89.6" r="1.5"/><circle cx="236.8" cy="78.2" r="1.5"/><circle cx="248.2" cy="87.3" r="1.5"/><circle cx="258.6" cy="67.8" r="1.5"/><circle cx="256.4" cy="88.1" r="1.5"/><circle cx="250.6" cy="63.4" r="1.5"/><circle cx="265.0" cy="84.0" r="1.5"/><circle cx="237.1" cy="67.7" r="1.5"/><circle cx="267.6" cy="67.3" r="1.5"/><circle cx="247.9" cy="92.5" r="1.5"/><circle cx="262.2" cy="85.5" r="1.5"/><circle cx="259.5" cy="58.7" r="1.5"/><circle cx="238.1" cy="100.9" r="1.5"/><circle cx="261.5" cy="58.7" r="1.5"/><circle cx="236.6" cy="67.8" r="1.5"/><circle cx="265.7" cy="66.9" r="1.5"/><circle cx="257.2" cy="98.9" r="1.5"/><circle cx="256.1" cy="98.4" r="1.5"/><circle cx="243.7" cy="63.9" r="1.5"/><circle cx="235.6" cy="91.1" r="1.5"/><circle cx="238.4" cy="100.8" r="1.5"/><circle cx="258.4" cy="65.4" r="1.5"/><circle cx="261.6" cy="64.3" r="1.5"/><circle cx="251.9" cy="61.8" r="1.5"/><circle cx="261.0" cy="97.0" r="1.5"/><circle cx="263.1" cy="82.0" r="1.5"/><circle cx="262.1" cy="79.6" r="1.5"/><circle cx="255.5" cy="83.8" r="1.5"/><circle cx="261.4" cy="60.5" r="1.5"/><circle cx="236.8" cy="81.5" r="1.5"/><circle cx="244.6" cy="74.9" r="1.5"/><circle cx="235.3" cy="90.5" r="1.5"/><circle cx="235.8" cy="94.3" r="1.5"/><circle cx="261.8" cy="77.6" r="1.5"/><circle cx="239.0" cy="86.3" r="1.5"/><circle cx="241.8" cy="76.3" r="1.5"/><circle cx="238.6" cy="100.9" r="1.5"/><circle cx="253.0" cy="72.9" r="1.5"/><circle cx="238.1" cy="89.9" r="1.5"/><circle cx="263.0" cy="95.2" r="1.5"/><circle cx="238.3" cy="73.5" r="1.5"/><circle cx="245.0" cy="91.3" r="1.5"/><circle cx="239.9" cy="84.3" r="1.5"/><circle cx="267.3" cy="91.6" r="1.5"/><circle cx="238.8" cy="88.2" r="1.5"/><circle cx="254.8" cy="80.4" r="1.5"/><circle cx="250.0" cy="75.3" r="1.5"/><circle cx="255.2" cy="86.2" r="1.5"/><circle cx="265.2" cy="90.0" r="1.5"/><circle cx="261.3" cy="98.1" r="1.5"/><circle cx="262.6" cy="89.3" r="1.5"/><circle cx="236.0" cy="87.6" r="1.5"/><circle cx="263.0" cy="76.4" r="1.5"/><circle cx="264.0" cy="65.1" r="1.5"/><circle cx="266.1" cy="76.9" r="1.5"/><circle cx="258.3" cy="68.4" r="1.5"/><circle cx="244.9" cy="72.7" r="1.5"/><circle cx="245.7" cy="61.3" r="1.5"/><circle cx="249.6" cy="101.1" r="1.5"/><circle cx="256.6" cy="98.9" r="1.5"/><circle cx="260.2" cy="94.7" r="1.5"/><circle cx="267.8" cy="90.9" r="1.5"/><circle cx="244.0" cy="68.2" r="1.5"/><circle cx="242.6" cy="96.9" r="1.5"/><circle cx="265.4" cy="71.8" r="1.5"/><circle cx="260.4" cy="91.9" r="1.5"/><circle cx="264.4" cy="92.8" r="1.5"/><circle cx="252.6" cy="61.7" r="1.5"/><circle cx="262.2" cy="71.1" r="1.5"/><circle cx="255.7" cy="73.5" r="1.5"/><circle cx="252.7" cy="100.5" r="1.5"/><circle cx="240.3" cy="80.9" r="1.5"/><circle cx="256.4" cy="81.2" r="1.5"/><circle cx="266.0" cy="75.3" r="1.5"/><circle cx="265.2" cy="88.0" r="1.5"/><circle cx="242.0" cy="69.9" r="1.5"/><circle cx="243.6" cy="89.2" r="1.5"/><circle cx="267.7" cy="64.9" r="1.5"/><circle cx="249.5" cy="87.9" r="1.5"/><circle cx="257.8" cy="90.6" r="1.5"/><circle cx="259.9" cy="68.2" r="1.5"/><circle cx="257.8" cy="66.4" r="1.5"/><circle cx="243.6" cy="100.4" r="1.5"/><circle cx="256.2" cy="83.6" r="1.5"/><circle cx="256.7" cy="83.9" r="1.5"/><circle cx="257.9" cy="70.7" r="1.5"/><circle cx="235.5" cy="73.3" r="1.5"/><circle cx="239.7" cy="62.1" r="1.5"/><circle cx="251.3" cy="100.6" r="1.5"/><circle cx="257.7" cy="69.3" r="1.5"/><circle cx="260.4" cy="65.0" r="1.5"/><circle cx="238.3" cy="70.6" r="1.5"/><circle cx="248.5" cy="88.0" r="1.5"/><circle cx="249.7" cy="89.8" r="1.5"/><circle cx="238.1" cy="99.0" r="1.5"/><circle cx="246.3" cy="94.5" r="1.5"/><circle cx="236.0" cy="94.3" r="1.5"/><circle cx="242.5" cy="95.5" r="1.5"/><circle cx="261.5" cy="87.2" r="1.5"/><circle cx="241.3" cy="97.7" r="1.5"/><circle cx="240.2" cy="86.7" r="1.5"/><circle cx="254.4" cy="86.8" r="1.5"/><circle cx="241.0" cy="63.5" r="1.5"/><circle cx="238.2" cy="101.2" r="1.5"/><circle cx="247.6" cy="86.4" r="1.5"/><circle cx="253.8" cy="67.0" r="1.5"/><circle cx="263.1" cy="62.9" r="1.5"/><circle cx="266.8" cy="73.4" r="1.5"/><circle cx="258.8" cy="63.2" r="1.5"/><circle cx="261.0" cy="68.3" r="1.5"/><circle cx="247.1" cy="80.5" r="1.5"/><circle cx="238.7" cy="68.2" r="1.5"/><circle cx="261.3" cy="69.8" r="1.5"/><circle cx="247.6" cy="91.4" r="1.5"/><circle cx="242.4" cy="65.7" r="1.5"/><circle cx="242.2" cy="74.3" r="1.5"/><circle cx="247.1" cy="85.9" r="1.5"/><circle cx="250.6" cy="96.1" r="1.5"/><circle cx="236.7" cy="86.9" r="1.5"/><circle cx="262.6" cy="67.6" r="1.5"/><circle cx="236.0" cy="76.7" r="1.5"/><circle cx="238.8" cy="77.7" r="1.5"/><circle cx="258.5" cy="61.2" r="1.5"/><circle cx="238.9" cy="78.6" r="1.5"/><circle cx="240.7" cy="67.4" r="1.5"/><circle cx="249.5" cy="62.3" r="1.5"/><circle cx="237.2" cy="73.3" r="1.5"/><circle cx="250.5" cy="99.1" r="1.5"/><circle cx="253.3" cy="60.2" r="1.5"/><circle cx="242.3" cy="90.5" r="1.5"/><circle cx="253.6" cy="96.2" r="1.5"/><circle cx="266.8" cy="95.6" r="1.5"/><circle cx="238.6" cy="99.5" r="1.5"/><circle cx="252.3" cy="67.8" r="1.5"/><circle cx="240.6" cy="95.9" r="1.5"/><circle cx="242.0" cy="60.7" r="1.5"/><circle cx="243.8" cy="98.6" r="1.5"/><circle cx="250.2" cy="89.9" r="1.5"/><circle cx="237.5" cy="77.4" r="1.5"/><circle cx="245.5" cy="66.2" r="1.5"/><circle cx="256.9" cy="73.3" r="1.5"/><circle cx="239.0" cy="101.3" r="1.5"/><circle cx="250.9" cy="65.1" r="1.5"/><circle cx="235.4" cy="86.4" r="1.5"/><circle cx="252.0" cy="58.1" r="1.5"/><circle cx="250.5" cy="90.3" r="1.5"/><circle cx="252.7" cy="67.5" r="1.5"/><circle cx="251.5" cy="84.2" r="1.5"/><circle cx="256.5" cy="63.5" r="1.5"/><circle cx="261.5" cy="99.6" r="1.5"/><circle cx="259.4" cy="95.6" r="1.5"/><circle cx="247.1" cy="97.6" r="1.5"/><circle cx="241.0" cy="67.2" r="1.5"/><circle cx="254.7" cy="97.6" r="1.5"/><circle cx="237.7" cy="66.8" r="1.5"/><circle cx="249.2" cy="103.9" r="1.5"/><circle cx="267.5" cy="107.8" r="1.5"/><circle cx="273.2" cy="106.0" r="1.5"/><circle cx="265.4" cy="102.1" r="1.5"/><circle cx="273.5" cy="104.3" r="1.5"/><circle cx="259.3" cy="107.1" r="1.5"/><circle cx="273.4" cy="106.9" r="1.5"/><circle cx="251.5" cy="110.3" r="1.5"/><circle cx="251.1" cy="112.0" r="1.5"/><circle cx="258.7" cy="104.3" r="1.5"/><circle cx="273.8" cy="105.2" r="1.5"/><circle cx="257.2" cy="105.4" r="1.5"/><circle cx="265.1" cy="102.2" r="1.5"/><circle cx="256.2" cy="103.6" r="1.5"/><circle cx="269.8" cy="102.0" r="1.5"/><circle cx="263.2" cy="104.6" r="1.5"/><circle cx="258.6" cy="107.6" r="1.5"/><circle cx="266.4" cy="103.4" r="1.5"/><circle cx="252.2" cy="103.2" r="1.5"/><circle cx="273.8" cy="103.5" r="1.5"/><circle cx="249.1" cy="107.2" r="1.5"/><circle cx="262.4" cy="110.9" r="1.5"/><circle cx="246.7" cy="104.3" r="1.5"/><circle cx="250.0" cy="107.9" r="1.5"/><circle cx="258.6" cy="106.1" r="1.5"/><circle cx="271.7" cy="108.6" r="1.5"/><circle cx="270.8" cy="111.6" r="1.5"/><circle cx="253.1" cy="111.4" r="1.5"/><circle cx="257.2" cy="102.5" r="1.5"/><circle cx="272.4" cy="103.0" r="1.5"/><circle cx="253.7" cy="111.7" r="1.5"/><circle cx="271.1" cy="106.2" r="1.5"/><circle cx="260.9" cy="110.5" r="1.5"/><circle cx="269.2" cy="108.5" r="1.5"/><circle cx="260.4" cy="103.2" r="1.5"/><circle cx="252.3" cy="108.6" r="1.5"/><circle cx="262.6" cy="110.0" r="1.5"/><circle cx="272.0" cy="111.6" r="1.5"/><circle cx="250.8" cy="102.8" r="1.5"/><circle cx="271.9" cy="107.7" r="1.5"/><circle cx="250.4" cy="108.9" r="1.5"/><circle cx="252.7" cy="104.4" r="1.5"/><circle cx="256.0" cy="107.2" r="1.5"/><circle cx="265.3" cy="102.7" r="1.5"/><circle cx="267.2" cy="108.2" r="1.5"/><circle cx="259.2" cy="108.7" r="1.5"/><circle cx="269.0" cy="102.1" r="1.5"/><circle cx="259.3" cy="108.8" r="1.5"/><circle cx="266.3" cy="108.5" r="1.5"/><circle cx="250.4" cy="111.6" r="1.5"/><circle cx="268.6" cy="104.3" r="1.5"/><circle cx="257.9" cy="111.6" r="1.5"/><circle cx="251.2" cy="106.1" r="1.5"/><circle cx="252.0" cy="109.4" r="1.5"/><circle cx="255.8" cy="108.6" r="1.5"/><circle cx="268.0" cy="103.3" r="1.5"/><circle cx="251.7" cy="104.1" r="1.5"/><circle cx="253.0" cy="102.4" r="1.5"/><circle cx="249.1" cy="106.1" r="1.5"/><circle cx="257.6" cy="102.8" r="1.5"/><circle cx="262.5" cy="111.4" r="1.5"/><circle cx="262.3" cy="105.6" r="1.5"/><circle cx="280.0" cy="81.1" r="1.5"/><circle cx="271.0" cy="82.8" r="1.5"/><circle cx="268.3" cy="90.4" r="1.5"/><circle cx="270.7" cy="78.4" r="1.5"/><circle cx="284.4" cy="93.9" r="1.5"/><circle cx="282.2" cy="89.0" r="1.5"/><circle cx="278.8" cy="91.5" r="1.5"/><circle cx="272.3" cy="96.0" r="1.5"/><circle cx="278.2" cy="97.1" r="1.5"/><circle cx="282.9" cy="87.0" r="1.5"/><circle cx="277.1" cy="92.3" r="1.5"/><circle cx="268.1" cy="70.8" r="1.5"/><circle cx="271.9" cy="74.3" r="1.5"/><circle cx="280.1" cy="102.5" r="1.5"/><circle cx="268.3" cy="68.5" r="1.5"/><circle cx="283.9" cy="101.8" r="1.5"/><circle cx="270.5" cy="77.1" r="1.5"/><circle cx="276.9" cy="76.5" r="1.5"/><circle cx="275.1" cy="82.7" r="1.5"/><circle cx="269.4" cy="70.3" r="1.5"/><circle cx="269.6" cy="88.3" r="1.5"/><circle cx="281.5" cy="92.4" r="1.5"/><circle cx="273.8" cy="83.2" r="1.5"/><circle cx="271.2" cy="100.2" r="1.5"/><circle cx="270.6" cy="91.0" r="1.5"/><circle cx="274.5" cy="92.0" r="1.5"/><circle cx="271.9" cy="95.1" r="1.5"/><circle cx="280.0" cy="95.4" r="1.5"/><circle cx="269.6" cy="89.9" r="1.5"/><circle cx="271.3" cy="86.7" r="1.5"/><circle cx="269.8" cy="88.7" r="1.5"/><circle cx="272.1" cy="74.1" r="1.5"/><circle cx="275.2" cy="84.8" r="1.5"/><circle cx="272.9" cy="89.0" r="1.5"/><circle cx="279.8" cy="88.0" r="1.5"/><circle cx="273.3" cy="89.8" r="1.5"/><circle cx="272.4" cy="70.1" r="1.5"/><circle cx="271.8" cy="94.1" r="1.5"/><circle cx="282.1" cy="91.9" r="1.5"/><circle cx="284.3" cy="95.0" r="1.5"/><circle cx="273.3" cy="76.3" r="1.5"/><circle cx="268.8" cy="84.0" r="1.5"/><circle cx="270.6" cy="100.3" r="1.5"/><circle cx="282.9" cy="82.0" r="1.5"/><circle cx="271.4" cy="68.7" r="1.5"/><circle cx="276.6" cy="84.3" r="1.5"/><circle cx="274.2" cy="91.9" r="1.5"/><circle cx="277.0" cy="94.2" r="1.5"/><circle cx="269.8" cy="66.7" r="1.5"/><circle cx="274.6" cy="82.9" r="1.5"/><circle cx="272.3" cy="90.1" r="1.5"/><circle cx="271.8" cy="76.4" r="1.5"/><circle cx="276.1" cy="91.8" r="1.5"/><circle cx="281.1" cy="78.5" r="1.5"/><circle cx="275.6" cy="100.2" r="1.5"/><circle cx="283.9" cy="88.1" r="1.5"/><circle cx="269.8" cy="81.8" r="1.5"/><circle cx="268.6" cy="102.3" r="1.5"/><circle cx="275.9" cy="88.2" r="1.5"/><circle cx="280.8" cy="94.1" r="1.5"/><circle cx="272.9" cy="93.9" r="1.5"/><circle cx="270.3" cy="68.2" r="1.5"/><circle cx="269.2" cy="70.4" r="1.5"/><circle cx="277.0" cy="96.5" r="1.5"/><circle cx="270.9" cy="70.8" r="1.5"/><circle cx="281.0" cy="80.6" r="1.5"/><circle cx="272.1" cy="101.9" r="1.5"/><circle cx="270.0" cy="74.1" r="1.5"/><circle cx="280.6" cy="98.8" r="1.5"/><circle cx="283.4" cy="82.4" r="1.5"/><circle cx="284.3" cy="87.6" r="1.5"/><circle cx="272.9" cy="82.1" r="1.5"/><circle cx="280.2" cy="92.6" r="1.5"/><circle cx="270.2" cy="71.6" r="1.5"/><circle cx="272.2" cy="74.0" r="1.5"/><circle cx="276.0" cy="102.6" r="1.5"/><circle cx="270.5" cy="97.3" r="1.5"/><circle cx="273.5" cy="70.7" r="1.5"/><circle cx="271.2" cy="80.3" r="1.5"/><circle cx="282.0" cy="97.7" r="1.5"/><circle cx="281.0" cy="87.7" r="1.5"/><circle cx="283.3" cy="101.1" r="1.5"/><circle cx="273.6" cy="97.1" r="1.5"/><circle cx="274.2" cy="78.6" r="1.5"/><circle cx="274.0" cy="78.8" r="1.5"/><circle cx="269.9" cy="72.9" r="1.5"/><circle cx="278.8" cy="98.6" r="1.5"/><circle cx="283.6" cy="95.4" r="1.5"/><circle cx="284.8" cy="92.4" r="1.5"/><circle cx="280.8" cy="95.7" r="1.5"/><circle cx="272.3" cy="89.6" r="1.5"/><circle cx="274.5" cy="96.7" r="1.5"/><circle cx="270.3" cy="85.0" r="1.5"/><circle cx="273.7" cy="96.0" r="1.5"/><circle cx="273.9" cy="96.9" r="1.5"/><circle cx="282.4" cy="98.3" r="1.5"/><circle cx="270.4" cy="100.6" r="1.5"/><circle cx="280.7" cy="90.4" r="1.5"/><circle cx="282.8" cy="85.4" r="1.5"/><circle cx="275.7" cy="77.2" r="1.5"/><circle cx="281.3" cy="94.5" r="1.5"/><circle cx="273.8" cy="73.7" r="1.5"/><circle cx="269.7" cy="76.8" r="1.5"/><circle cx="268.4" cy="95.1" r="1.5"/><circle cx="269.2" cy="92.9" r="1.5"/><circle cx="271.4" cy="82.0" r="1.5"/><circle cx="274.8" cy="95.3" r="1.5"/><circle cx="278.7" cy="98.9" r="1.5"/><circle cx="276.0" cy="99.1" r="1.5"/><circle cx="282.9" cy="86.4" r="1.5"/><circle cx="269.8" cy="86.9" r="1.5"/><circle cx="282.1" cy="84.2" r="1.5"/><circle cx="276.2" cy="80.2" r="1.5"/><circle cx="283.0" cy="90.0" r="1.5"/><circle cx="271.5" cy="78.1" r="1.5"/><circle cx="274.2" cy="101.4" r="1.5"/><circle cx="278.0" cy="80.9" r="1.5"/><circle cx="280.2" cy="80.7" r="1.5"/><circle cx="269.6" cy="84.4" r="1.5"/><circle cx="281.9" cy="94.8" r="1.5"/><circle cx="274.1" cy="72.7" r="1.5"/><circle cx="279.1" cy="70.4" r="1.5"/><circle cx="268.9" cy="64.3" r="1.5"/><circle cx="274.6" cy="66.5" r="1.5"/><circle cx="274.9" cy="70.3" r="1.5"/><circle cx="274.7" cy="69.9" r="1.5"/><circle cx="282.7" cy="71.7" r="1.5"/><circle cx="277.5" cy="111.0" r="1.5"/><circle cx="268.8" cy="108.8" r="1.5"/><circle cx="255.3" cy="106.1" r="1.5"/><circle cx="233.5" cy="108.7" r="1.5"/><circle cx="249.4" cy="109.5" r="1.5"/><circle cx="221.2" cy="102.1" r="1.5"/><circle cx="237.8" cy="113.5" r="1.5"/><circle cx="265.1" cy="105.8" r="1.5"/><circle cx="232.1" cy="110.3" r="1.5"/><circle cx="275.6" cy="105.2" r="1.5"/><circle cx="254.2" cy="113.5" r="1.5"/><circle cx="265.2" cy="113.4" r="1.5"/><circle cx="262.6" cy="106.4" r="1.5"/><circle cx="271.2" cy="116.8" r="1.5"/><circle cx="244.7" cy="103.4" r="1.5"/><circle cx="260.4" cy="104.3" r="1.5"/><circle cx="245.8" cy="112.2" r="1.5"/><circle cx="266.4" cy="105.9" r="1.5"/><circle cx="228.3" cy="104.6" r="1.5"/><circle cx="242.5" cy="111.9" r="1.5"/><circle cx="235.3" cy="104.6" r="1.5"/><circle cx="229.6" cy="103.4" r="1.5"/><circle cx="227.9" cy="107.1" r="1.5"/><circle cx="248.8" cy="104.9" r="1.5"/><circle cx="247.1" cy="109.0" r="1.5"/><circle cx="278.3" cy="109.5" r="1.5"/><circle cx="228.3" cy="111.5" r="1.5"/><circle cx="224.7" cy="104.7" r="1.5"/><circle cx="238.7" cy="108.8" r="1.5"/><circle cx="238.6" cy="113.1" r="1.5"/><circle cx="241.3" cy="104.4" r="1.5"/><circle cx="272.9" cy="111.2" r="1.5"/><circle cx="263.8" cy="107.7" r="1.5"/><circle cx="257.2" cy="116.7" r="1.5"/><circle cx="241.9" cy="108.9" r="1.5"/><circle cx="235.0" cy="110.9" r="1.5"/><circle cx="259.4" cy="113.8" r="1.5"/><circle cx="278.6" cy="104.3" r="1.5"/><circle cx="239.5" cy="115.6" r="1.5"/><circle cx="268.0" cy="111.4" r="1.5"/><circle cx="260.4" cy="107.4" r="1.5"/><circle cx="242.0" cy="104.9" r="1.5"/><circle cx="268.6" cy="102.4" r="1.5"/><circle cx="236.7" cy="109.7" r="1.5"/><circle cx="248.2" cy="107.8" r="1.5"/><circle cx="275.0" cy="107.6" r="1.5"/><circle cx="250.6" cy="116.9" r="1.5"/><circle cx="257.8" cy="109.6" r="1.5"/><circle cx="237.3" cy="108.2" r="1.5"/><circle cx="255.8" cy="114.6" r="1.5"/><circle cx="232.5" cy="107.9" r="1.5"/><circle cx="241.0" cy="107.8" r="1.5"/><circle cx="276.2" cy="110.6" r="1.5"/><circle cx="233.5" cy="107.3" r="1.5"/><circle cx="270.0" cy="104.6" r="1.5"/><circle cx="261.2" cy="102.3" r="1.5"/><circle cx="227.9" cy="103.0" r="1.5"/><circle cx="269.0" cy="104.4" r="1.5"/><circle cx="230.3" cy="102.9" r="1.5"/><circle cx="232.7" cy="113.7" r="1.5"/><circle cx="263.2" cy="116.6" r="1.5"/><circle cx="276.8" cy="103.4" r="1.5"/><circle cx="277.0" cy="108.9" r="1.5"/><circle cx="272.5" cy="108.2" r="1.5"/><circle cx="265.5" cy="111.6" r="1.5"/><circle cx="280.4" cy="102.6" r="1.5"/><circle cx="218.7" cy="104.0" r="1.5"/><circle cx="257.2" cy="103.8" r="1.5"/><circle cx="225.9" cy="104.9" r="1.5"/><circle cx="255.8" cy="112.8" r="1.5"/><circle cx="241.2" cy="106.1" r="1.5"/><circle cx="226.7" cy="104.9" r="1.5"/><circle cx="225.2" cy="107.6" r="1.5"/><circle cx="264.4" cy="102.9" r="1.5"/><circle cx="250.5" cy="112.9" r="1.5"/><circle cx="268.0" cy="111.2" r="1.5"/><circle cx="38.6" cy="197.8" r="1.5"/><circle cx="42.7" cy="201.5" r="1.5"/><circle cx="49.6" cy="200.3" r="1.5"/><circle cx="56.2" cy="201.5" r="1.5"/><circle cx="58.5" cy="200.9" r="1.5"/><circle cx="57.3" cy="204.9" r="1.5"/><circle cx="37.2" cy="206.1" r="1.5"/><circle cx="38.9" cy="205.5" r="1.5"/><circle cx="49.3" cy="206.1" r="1.5"/><circle cx="46.4" cy="208.4" r="1.5"/><circle cx="34.3" cy="207.8" r="1.5"/><circle cx="61.3" cy="215.3" r="1.5"/><circle cx="61.3" cy="218.7" r="1.5"/><circle cx="66.5" cy="215.3" r="1.5"/><circle cx="62.5" cy="222.2" r="1.5"/><circle cx="73.2" cy="202.1" r="1.5"/><circle cx="70.3" cy="204.4" r="1.5"/><circle cx="70.3" cy="208.4" r="1.5"/><circle cx="73.7" cy="210.1" r="1.5"/><circle cx="75.5" cy="211.3" r="1.5"/><circle cx="79.5" cy="207.8" r="1.5"/><circle cx="81.2" cy="207.2" r="1.5"/><circle cx="78.9" cy="211.3" r="1.5"/><circle cx="80.6" cy="212.4" r="1.5"/><circle cx="70.3" cy="212.4" r="1.5"/><circle cx="71.4" cy="214.7" r="1.5"/><circle cx="76.6" cy="214.1" r="1.5"/><circle cx="77.8" cy="216.4" r="1.5"/><circle cx="84.7" cy="215.3" r="1.5"/><circle cx="82.4" cy="218.2" r="1.5"/><circle cx="70.3" cy="217.6" r="1.5"/><circle cx="72.6" cy="218.7" r="1.5"/><circle cx="77.8" cy="219.3" r="1.5"/><circle cx="78.9" cy="220.5" r="1.5"/><circle cx="71.4" cy="221.6" r="1.5"/><circle cx="80.6" cy="223.9" r="1.5"/><circle cx="93.3" cy="204.9" r="1.5"/><circle cx="96.2" cy="206.7" r="1.5"/><circle cx="99.6" cy="204.9" r="1.5"/><circle cx="90.4" cy="209.5" r="1.5"/><circle cx="91.0" cy="211.8" r="1.5"/><circle cx="91.0" cy="214.1" r="1.5"/><circle cx="96.2" cy="208.4" r="1.5"/><circle cx="96.7" cy="210.7" r="1.5"/><circle cx="90.4" cy="218.2" r="1.5"/><circle cx="90.4" cy="220.5" r="1.5"/><circle cx="90.4" cy="222.8" r="1.5"/><circle cx="96.2" cy="215.3" r="1.5"/><circle cx="96.7" cy="218.7" r="1.5"/><circle cx="97.9" cy="221.0" r="1.5"/><circle cx="100.2" cy="214.1" r="1.5"/><circle cx="86.4" cy="226.8" r="1.5"/><circle cx="105.9" cy="194.6" r="1.5"/><circle cx="105.4" cy="200.9" r="1.5"/><circle cx="112.6" cy="193.6" r="1.5"/><circle cx="109.1" cy="194.8" r="1.5"/><circle cx="109.1" cy="198.8" r="1.5"/><circle cx="118.3" cy="202.8" r="1.5"/><circle cx="120.6" cy="204.0" r="1.5"/><circle cx="126.4" cy="205.1" r="1.5"/><circle cx="126.4" cy="208.6" r="1.5"/><circle cx="118.9" cy="208.6" r="1.5"/><circle cx="121.2" cy="209.7" r="1.5"/><circle cx="122.4" cy="212.6" r="1.5"/><circle cx="132.1" cy="208.0" r="1.5"/><circle cx="131.0" cy="210.9" r="1.5"/><circle cx="117.2" cy="213.7" r="1.5"/><circle cx="126.4" cy="215.5" r="1.5"/><circle cx="130.4" cy="214.9" r="1.5"/><circle cx="147.1" cy="206.3" r="1.5"/><circle cx="144.8" cy="212.0" r="1.5"/><circle cx="165.8" cy="189.4" r="1.5"/><circle cx="182.5" cy="192.1" r="1.5"/><circle cx="164.1" cy="195.9" r="1.5"/><circle cx="171.6" cy="195.3" r="1.5"/><circle cx="172.1" cy="197.6" r="1.5"/><circle cx="168.7" cy="199.4" r="1.5"/><circle cx="161.0" cy="202.5" r="1.5"/><circle cx="163.5" cy="203.0" r="1.5"/><circle cx="167.0" cy="203.0" r="1.5"/><circle cx="169.0" cy="203.5" r="1.5"/><circle cx="111.4" cy="194.3" r="1.5"/><circle cx="108.6" cy="197.1" r="1.5"/><circle cx="107.1" cy="200.0" r="1.5"/><circle cx="105.7" cy="201.4" r="1.5"/><circle cx="165.7" cy="188.6" r="1.5"/><circle cx="181.4" cy="191.4" r="1.5"/><circle cx="164.3" cy="195.7" r="1.5"/><circle cx="171.4" cy="197.1" r="1.5"/><circle cx="170.0" cy="200.0" r="1.5"/><circle cx="32.6" cy="236.5" r="1.5"/><circle cx="38.3" cy="236.5" r="1.5"/><circle cx="33.7" cy="240.5" r="1.5"/><circle cx="32.6" cy="242.8" r="1.5"/><circle cx="40.6" cy="243.4" r="1.5"/><circle cx="38.3" cy="246.8" r="1.5"/><circle cx="44.7" cy="242.2" r="1.5"/><circle cx="40.1" cy="232.5" r="1.5"/><circle cx="41.8" cy="234.2" r="1.5"/><circle cx="42.9" cy="230.7" r="1.5"/><circle cx="46.4" cy="235.3" r="1.5"/><circle cx="47.5" cy="237.6" r="1.5"/><circle cx="49.3" cy="236.5" r="1.5"/><circle cx="49.8" cy="239.4" r="1.5"/><circle cx="51.0" cy="241.1" r="1.5"/><circle cx="52.1" cy="243.4" r="1.5"/><circle cx="51.6" cy="245.1" r="1.5"/><circle cx="52.7" cy="246.3" r="1.5"/><circle cx="55.6" cy="234.2" r="1.5"/><circle cx="56.2" cy="236.5" r="1.5"/><circle cx="56.7" cy="245.1" r="1.5"/><circle cx="52.1" cy="248.0" r="1.5"/><circle cx="52.1" cy="252.6" r="1.5"/><circle cx="62.5" cy="229.6" r="1.5"/><circle cx="62.5" cy="236.5" r="1.5"/><circle cx="80.6" cy="232.5" r="1.5"/><circle cx="76.0" cy="236.5" r="1.5"/><circle cx="70.3" cy="245.7" r="1.5"/><circle cx="76.0" cy="242.2" r="1.5"/><circle cx="77.8" cy="242.8" r="1.5"/><circle cx="81.8" cy="240.5" r="1.5"/><circle cx="82.4" cy="243.4" r="1.5"/><circle cx="82.4" cy="246.3" r="1.5"/><circle cx="84.7" cy="249.7" r="1.5"/><circle cx="76.0" cy="252.6" r="1.5"/><circle cx="85.8" cy="229.0" r="1.5"/><circle cx="88.7" cy="232.5" r="1.5"/><circle cx="89.3" cy="229.6" r="1.5"/><circle cx="91.6" cy="230.2" r="1.5"/><circle cx="88.1" cy="238.8" r="1.5"/><circle cx="90.4" cy="236.5" r="1.5"/><circle cx="91.0" cy="239.9" r="1.5"/><circle cx="92.7" cy="238.8" r="1.5"/><circle cx="91.6" cy="241.7" r="1.5"/><circle cx="96.7" cy="229.6" r="1.5"/><circle cx="97.3" cy="234.2" r="1.5"/><circle cx="96.2" cy="242.2" r="1.5"/><circle cx="90.4" cy="245.7" r="1.5"/><circle cx="90.4" cy="252.6" r="1.5"/><circle cx="91.6" cy="253.2" r="1.5"/><circle cx="91.0" cy="257.2" r="1.5"/><circle cx="91.0" cy="259.5" r="1.5"/><circle cx="91.0" cy="261.8" r="1.5"/><circle cx="96.7" cy="260.1" r="1.5"/><circle cx="105.9" cy="259.5" r="1.5"/><circle cx="110.3" cy="250.3" r="1.5"/><circle cx="112.6" cy="254.9" r="1.5"/><circle cx="109.1" cy="258.3" r="1.5"/><circle cx="112.6" cy="261.8" r="1.5"/><circle cx="118.3" cy="254.3" r="1.5"/><circle cx="121.8" cy="260.6" r="1.5"/><circle cx="124.7" cy="251.4" r="1.5"/><circle cx="125.2" cy="253.7" r="1.5"/><circle cx="129.8" cy="246.3" r="1.5"/><circle cx="129.8" cy="256.0" r="1.5"/><circle cx="132.1" cy="252.6" r="1.5"/><circle cx="133.3" cy="253.7" r="1.5"/><circle cx="138.5" cy="255.5" r="1.5"/><circle cx="144.8" cy="250.3" r="1.5"/><circle cx="144.8" cy="253.2" r="1.5"/><circle cx="147.1" cy="256.0" r="1.5"/><circle cx="131.0" cy="264.1" r="1.5"/><circle cx="150.3" cy="250.9" r="1.5"/><circle cx="152.6" cy="252.6" r="1.5"/><circle cx="149.1" cy="256.0" r="1.5"/><circle cx="152.6" cy="261.8" r="1.5"/><circle cx="157.2" cy="257.2" r="1.5"/><circle cx="157.2" cy="262.9" r="1.5"/><circle cx="161.8" cy="259.5" r="1.5"/><circle cx="165.2" cy="257.2" r="1.5"/><circle cx="165.8" cy="260.6" r="1.5"/><circle cx="172.1" cy="254.9" r="1.5"/><circle cx="175.0" cy="256.6" r="1.5"/><circle cx="176.2" cy="259.5" r="1.5"/><circle cx="178.5" cy="255.5" r="1.5"/><circle cx="179.6" cy="251.4" r="1.5"/><circle cx="174.4" cy="251.4" r="1.5"/><circle cx="52.0" cy="252.7" r="1.5"/><circle cx="76.0" cy="252.7" r="1.5"/><circle cx="84.7" cy="250.0" r="1.5"/><circle cx="90.2" cy="252.7" r="1.5"/><circle cx="90.9" cy="256.9" r="1.5"/><circle cx="90.2" cy="260.3" r="1.5"/><circle cx="90.9" cy="264.9" r="1.5"/><circle cx="91.5" cy="267.1" r="1.5"/><circle cx="96.1" cy="260.3" r="1.5"/><circle cx="76.0" cy="267.1" r="1.5"/><circle cx="76.0" cy="274.7" r="1.5"/><circle cx="85.6" cy="272.9" r="1.5"/><circle cx="91.5" cy="271.7" r="1.5"/><circle cx="105.7" cy="253.4" r="1.5"/><circle cx="106.9" cy="258.0" r="1.5"/><circle cx="109.1" cy="252.3" r="1.5"/><circle cx="110.3" cy="258.0" r="1.5"/><circle cx="112.6" cy="262.6" r="1.5"/><circle cx="118.3" cy="254.6" r="1.5"/><circle cx="121.7" cy="260.3" r="1.5"/><circle cx="124.0" cy="252.3" r="1.5"/><circle cx="130.9" cy="254.6" r="1.5"/><circle cx="132.0" cy="252.3" r="1.5"/><circle cx="130.9" cy="264.9" r="1.5"/><circle cx="137.7" cy="255.7" r="1.5"/><circle cx="144.6" cy="253.4" r="1.5"/><circle cx="148.0" cy="255.7" r="1.5"/><circle cx="151.4" cy="261.4" r="1.5"/><circle cx="157.1" cy="258.0" r="1.5"/><circle cx="156.0" cy="264.9" r="1.5"/><circle cx="161.7" cy="260.3" r="1.5"/><circle cx="165.1" cy="259.1" r="1.5"/><circle cx="166.3" cy="261.4" r="1.5"/><circle cx="164.0" cy="252.0" r="1.5"/><circle cx="168.0" cy="253.0" r="1.5"/><circle cx="172.0" cy="252.0" r="1.5"/><circle cx="176.0" cy="253.0" r="1.5"/><circle cx="179.0" cy="254.0" r="1.5"/><circle cx="180.0" cy="258.0" r="1.5"/><circle cx="174.3" cy="268.3" r="1.5"/><circle cx="180.0" cy="271.7" r="1.5"/><circle cx="178.9" cy="251.1" r="1.5"/><circle cx="32.8" cy="236.1" r="1.5"/><circle cx="34.7" cy="218.1" r="1.5"/><circle cx="31.9" cy="238.1" r="1.5"/><circle cx="35.3" cy="237.2" r="1.5"/><circle cx="34.2" cy="211.7" r="1.5"/><circle cx="32.9" cy="219.6" r="1.5"/><circle cx="35.1" cy="207.2" r="1.5"/><circle cx="34.3" cy="232.9" r="1.5"/><circle cx="35.1" cy="207.2" r="1.5"/><circle cx="34.9" cy="220.7" r="1.5"/><circle cx="35.3" cy="225.8" r="1.5"/><circle cx="34.9" cy="220.5" r="1.5"/><circle cx="34.6" cy="238.5" r="1.5"/><circle cx="35.4" cy="227.3" r="1.5"/><circle cx="31.7" cy="219.4" r="1.5"/><circle cx="32.6" cy="236.8" r="1.5"/><circle cx="34.2" cy="233.0" r="1.5"/><circle cx="34.4" cy="239.7" r="1.5"/><circle cx="34.2" cy="217.5" r="1.5"/><circle cx="35.3" cy="215.7" r="1.5"/><circle cx="34.7" cy="212.2" r="1.5"/><circle cx="43.5" cy="210.4" r="1.5"/><circle cx="42.5" cy="221.8" r="1.5"/><circle cx="39.2" cy="217.3" r="1.5"/><circle cx="43.1" cy="209.2" r="1.5"/><circle cx="41.4" cy="211.1" r="1.5"/><circle cx="41.1" cy="229.7" r="1.5"/><circle cx="43.1" cy="231.9" r="1.5"/><circle cx="40.8" cy="219.6" r="1.5"/><circle cx="43.4" cy="225.0" r="1.5"/><circle cx="40.7" cy="228.0" r="1.5"/><circle cx="40.2" cy="230.6" r="1.5"/><circle cx="41.3" cy="206.4" r="1.5"/><circle cx="43.3" cy="207.2" r="1.5"/><circle cx="43.2" cy="204.6" r="1.5"/><circle cx="43.3" cy="218.7" r="1.5"/><circle cx="42.5" cy="206.8" r="1.5"/><circle cx="40.7" cy="213.9" r="1.5"/><circle cx="39.0" cy="226.6" r="1.5"/><circle cx="39.2" cy="216.9" r="1.5"/><circle cx="39.2" cy="227.7" r="1.5"/><circle cx="42.4" cy="204.0" r="1.5"/><circle cx="41.0" cy="216.6" r="1.5"/><circle cx="43.0" cy="224.1" r="1.5"/><circle cx="40.6" cy="230.1" r="1.5"/><circle cx="38.1" cy="207.0" r="1.5"/><circle cx="42.4" cy="206.5" r="1.5"/><circle cx="38.5" cy="217.5" r="1.5"/><circle cx="40.7" cy="207.8" r="1.5"/><circle cx="42.6" cy="216.7" r="1.5"/><circle cx="42.7" cy="210.3" r="1.5"/><circle cx="40.2" cy="242.7" r="1.5"/><circle cx="40.4" cy="234.3" r="1.5"/><circle cx="43.1" cy="237.1" r="1.5"/><circle cx="43.0" cy="245.7" r="1.5"/><circle cx="39.2" cy="240.2" r="1.5"/><circle cx="43.2" cy="237.4" r="1.5"/><circle cx="40.6" cy="236.4" r="1.5"/><circle cx="39.2" cy="234.9" r="1.5"/><circle cx="49.2" cy="220.1" r="1.5"/><circle cx="48.4" cy="223.4" r="1.5"/><circle cx="46.6" cy="221.7" r="1.5"/><circle cx="47.3" cy="231.2" r="1.5"/><circle cx="46.8" cy="231.3" r="1.5"/><circle cx="47.2" cy="206.3" r="1.5"/><circle cx="48.4" cy="211.3" r="1.5"/><circle cx="48.7" cy="209.1" r="1.5"/><circle cx="48.7" cy="223.4" r="1.5"/><circle cx="49.6" cy="230.1" r="1.5"/><circle cx="48.5" cy="223.6" r="1.5"/><circle cx="49.7" cy="206.0" r="1.5"/><circle cx="46.4" cy="217.1" r="1.5"/><circle cx="49.6" cy="214.1" r="1.5"/><circle cx="56.3" cy="211.7" r="1.5"/><circle cx="58.1" cy="214.2" r="1.5"/><circle cx="57.5" cy="204.0" r="1.5"/><circle cx="57.3" cy="231.4" r="1.5"/><circle cx="53.0" cy="224.4" r="1.5"/><circle cx="53.3" cy="206.4" r="1.5"/><circle cx="55.2" cy="221.9" r="1.5"/><circle cx="58.1" cy="231.8" r="1.5"/><circle cx="57.8" cy="220.7" r="1.5"/><circle cx="55.5" cy="206.8" r="1.5"/><circle cx="57.9" cy="218.5" r="1.5"/><circle cx="56.4" cy="229.0" r="1.5"/><circle cx="53.2" cy="206.2" r="1.5"/><circle cx="53.1" cy="206.5" r="1.5"/><circle cx="55.5" cy="226.0" r="1.5"/><circle cx="53.3" cy="217.1" r="1.5"/><circle cx="56.3" cy="218.8" r="1.5"/><circle cx="56.0" cy="218.3" r="1.5"/><circle cx="53.5" cy="203.7" r="1.5"/><circle cx="55.3" cy="209.1" r="1.5"/><circle cx="57.3" cy="209.3" r="1.5"/><circle cx="57.4" cy="209.2" r="1.5"/><circle cx="54.1" cy="216.3" r="1.5"/><circle cx="56.0" cy="212.1" r="1.5"/><circle cx="57.4" cy="208.7" r="1.5"/><circle cx="58.1" cy="227.0" r="1.5"/><circle cx="55.1" cy="217.1" r="1.5"/><circle cx="55.0" cy="237.4" r="1.5"/><circle cx="51.3" cy="243.9" r="1.5"/><circle cx="54.9" cy="240.2" r="1.5"/><circle cx="50.9" cy="242.7" r="1.5"/><circle cx="53.5" cy="242.6" r="1.5"/><circle cx="51.0" cy="246.4" r="1.5"/><circle cx="50.6" cy="235.6" r="1.5"/><circle cx="52.6" cy="235.2" r="1.5"/><circle cx="51.1" cy="243.0" r="1.5"/><circle cx="58.1" cy="237.4" r="1.5"/><circle cx="62.2" cy="212.6" r="1.5"/><circle cx="62.7" cy="222.7" r="1.5"/><circle cx="60.7" cy="227.4" r="1.5"/><circle cx="61.5" cy="231.0" r="1.5"/><circle cx="61.5" cy="234.3" r="1.5"/><circle cx="62.9" cy="222.3" r="1.5"/><circle cx="70.9" cy="203.9" r="1.5"/><circle cx="70.4" cy="218.2" r="1.5"/><circle cx="69.2" cy="209.1" r="1.5"/><circle cx="68.6" cy="214.1" r="1.5"/><circle cx="71.3" cy="209.6" r="1.5"/><circle cx="75.0" cy="205.1" r="1.5"/><circle cx="73.9" cy="218.8" r="1.5"/><circle cx="77.8" cy="217.1" r="1.5"/><circle cx="73.2" cy="221.6" r="1.5"/><circle cx="77.7" cy="207.2" r="1.5"/><circle cx="75.7" cy="217.8" r="1.5"/><circle cx="73.9" cy="205.8" r="1.5"/><circle cx="80.8" cy="224.4" r="1.5"/><circle cx="80.8" cy="224.0" r="1.5"/><circle cx="81.0" cy="208.9" r="1.5"/><circle cx="81.1" cy="214.7" r="1.5"/><circle cx="90.1" cy="220.1" r="1.5"/><circle cx="91.5" cy="233.2" r="1.5"/><circle cx="90.0" cy="242.5" r="1.5"/><circle cx="89.9" cy="234.8" r="1.5"/><circle cx="90.0" cy="248.7" r="1.5"/><circle cx="90.9" cy="249.3" r="1.5"/><circle cx="90.6" cy="218.4" r="1.5"/><circle cx="91.1" cy="233.6" r="1.5"/><circle cx="89.1" cy="220.8" r="1.5"/><circle cx="90.4" cy="245.1" r="1.5"/><circle cx="91.3" cy="232.0" r="1.5"/><circle cx="91.5" cy="216.3" r="1.5"/><circle cx="90.4" cy="224.8" r="1.5"/><circle cx="90.2" cy="224.8" r="1.5"/><circle cx="90.9" cy="246.5" r="1.5"/><circle cx="89.5" cy="217.6" r="1.5"/><circle cx="96.8" cy="236.6" r="1.5"/><circle cx="97.6" cy="224.0" r="1.5"/><circle cx="95.8" cy="215.1" r="1.5"/><circle cx="96.6" cy="233.2" r="1.5"/><circle cx="97.6" cy="238.8" r="1.5"/><circle cx="97.2" cy="222.0" r="1.5"/><circle cx="96.8" cy="216.9" r="1.5"/><circle cx="97.7" cy="211.5" r="1.5"/><circle cx="96.1" cy="215.5" r="1.5"/><circle cx="97.9" cy="239.0" r="1.5"/><circle cx="95.9" cy="238.9" r="1.5"/><circle cx="100.8" cy="222.6" r="1.5"/><circle cx="101.2" cy="205.5" r="1.5"/><circle cx="101.1" cy="239.3" r="1.5"/><circle cx="101.0" cy="235.6" r="1.5"/><circle cx="100.5" cy="213.5" r="1.5"/><circle cx="100.6" cy="235.3" r="1.5"/><circle cx="100.7" cy="218.2" r="1.5"/><circle cx="100.9" cy="243.5" r="1.5"/><circle cx="100.8" cy="215.5" r="1.5"/><circle cx="101.6" cy="230.9" r="1.5"/><circle cx="100.5" cy="206.6" r="1.5"/><circle cx="111.0" cy="212.4" r="1.5"/><circle cx="110.0" cy="212.6" r="1.5"/><circle cx="107.7" cy="220.6" r="1.5"/><circle cx="104.4" cy="245.8" r="1.5"/><circle cx="110.5" cy="214.2" r="1.5"/><circle cx="110.5" cy="226.7" r="1.5"/><circle cx="110.0" cy="201.3" r="1.5"/><circle cx="106.6" cy="211.7" r="1.5"/><circle cx="108.0" cy="244.7" r="1.5"/><circle cx="110.8" cy="230.9" r="1.5"/><circle cx="105.8" cy="246.0" r="1.5"/><circle cx="104.2" cy="213.6" r="1.5"/><circle cx="110.6" cy="224.4" r="1.5"/><circle cx="110.3" cy="203.5" r="1.5"/><circle cx="106.2" cy="210.8" r="1.5"/><circle cx="103.5" cy="203.6" r="1.5"/><circle cx="104.3" cy="220.1" r="1.5"/><circle cx="106.5" cy="228.5" r="1.5"/><circle cx="105.7" cy="240.1" r="1.5"/><circle cx="108.4" cy="256.9" r="1.5"/><circle cx="104.4" cy="228.6" r="1.5"/><circle cx="105.6" cy="220.3" r="1.5"/><circle cx="110.9" cy="210.6" r="1.5"/><circle cx="111.0" cy="219.5" r="1.5"/><circle cx="105.6" cy="234.9" r="1.5"/><circle cx="108.0" cy="215.0" r="1.5"/><circle cx="103.5" cy="255.3" r="1.5"/><circle cx="105.8" cy="204.9" r="1.5"/><circle cx="107.7" cy="229.9" r="1.5"/><circle cx="106.2" cy="217.7" r="1.5"/><circle cx="110.1" cy="218.3" r="1.5"/><circle cx="105.9" cy="255.4" r="1.5"/><circle cx="106.1" cy="222.1" r="1.5"/><circle cx="103.9" cy="237.7" r="1.5"/><circle cx="108.7" cy="224.8" r="1.5"/><circle cx="106.5" cy="212.0" r="1.5"/><circle cx="109.9" cy="225.4" r="1.5"/><circle cx="110.1" cy="220.5" r="1.5"/><circle cx="107.6" cy="199.7" r="1.5"/><circle cx="103.8" cy="255.6" r="1.5"/><circle cx="107.8" cy="238.5" r="1.5"/><circle cx="106.5" cy="226.3" r="1.5"/><circle cx="104.5" cy="208.4" r="1.5"/><circle cx="109.0" cy="239.6" r="1.5"/><circle cx="105.8" cy="236.7" r="1.5"/><circle cx="103.4" cy="234.8" r="1.5"/><circle cx="104.4" cy="228.6" r="1.5"/><circle cx="106.1" cy="231.0" r="1.5"/><circle cx="104.7" cy="227.0" r="1.5"/><circle cx="108.2" cy="206.1" r="1.5"/><circle cx="105.9" cy="238.7" r="1.5"/><circle cx="107.7" cy="235.0" r="1.5"/><circle cx="111.1" cy="232.3" r="1.5"/><circle cx="104.1" cy="224.6" r="1.5"/><circle cx="110.4" cy="232.0" r="1.5"/><circle cx="110.3" cy="219.8" r="1.5"/><circle cx="106.6" cy="256.2" r="1.5"/><circle cx="110.9" cy="237.2" r="1.5"/><circle cx="104.0" cy="234.7" r="1.5"/><circle cx="103.6" cy="254.0" r="1.5"/><circle cx="110.3" cy="241.7" r="1.5"/><circle cx="106.7" cy="248.7" r="1.5"/><circle cx="103.9" cy="247.7" r="1.5"/><circle cx="108.5" cy="198.9" r="1.5"/><circle cx="110.5" cy="224.4" r="1.5"/><circle cx="110.4" cy="239.3" r="1.5"/><circle cx="108.4" cy="249.7" r="1.5"/><circle cx="103.7" cy="251.9" r="1.5"/><circle cx="106.3" cy="199.6" r="1.5"/><circle cx="106.7" cy="202.0" r="1.5"/><circle cx="103.5" cy="235.4" r="1.5"/><circle cx="103.9" cy="207.6" r="1.5"/><circle cx="106.7" cy="214.7" r="1.5"/><circle cx="111.1" cy="252.3" r="1.5"/><circle cx="109.8" cy="257.4" r="1.5"/><circle cx="106.4" cy="245.7" r="1.5"/><circle cx="106.4" cy="253.6" r="1.5"/><circle cx="110.9" cy="241.9" r="1.5"/><circle cx="104.0" cy="203.5" r="1.5"/><circle cx="109.9" cy="231.1" r="1.5"/><circle cx="108.0" cy="249.7" r="1.5"/><circle cx="104.4" cy="240.0" r="1.5"/><circle cx="106.5" cy="245.2" r="1.5"/><circle cx="105.8" cy="209.8" r="1.5"/><circle cx="110.6" cy="214.9" r="1.5"/><circle cx="108.5" cy="247.9" r="1.5"/><circle cx="104.3" cy="239.7" r="1.5"/><circle cx="105.5" cy="211.4" r="1.5"/><circle cx="104.0" cy="255.2" r="1.5"/><circle cx="105.9" cy="228.6" r="1.5"/><circle cx="108.4" cy="199.6" r="1.5"/><circle cx="110.2" cy="242.7" r="1.5"/><circle cx="109.9" cy="219.4" r="1.5"/><circle cx="104.3" cy="218.8" r="1.5"/><circle cx="108.0" cy="237.5" r="1.5"/><circle cx="106.6" cy="229.5" r="1.5"/><circle cx="103.8" cy="253.1" r="1.5"/><circle cx="106.3" cy="228.4" r="1.5"/><circle cx="110.9" cy="209.9" r="1.5"/><circle cx="107.8" cy="219.2" r="1.5"/><circle cx="110.8" cy="203.7" r="1.5"/><circle cx="105.6" cy="236.1" r="1.5"/><circle cx="106.8" cy="220.6" r="1.5"/><circle cx="107.6" cy="211.1" r="1.5"/><circle cx="106.5" cy="198.1" r="1.5"/><circle cx="110.3" cy="213.2" r="1.5"/><circle cx="110.0" cy="231.1" r="1.5"/><circle cx="108.2" cy="235.6" r="1.5"/><circle cx="104.1" cy="244.6" r="1.5"/><circle cx="106.1" cy="249.8" r="1.5"/><circle cx="109.9" cy="238.7" r="1.5"/><circle cx="110.5" cy="224.2" r="1.5"/><circle cx="108.0" cy="255.2" r="1.5"/><circle cx="104.7" cy="204.0" r="1.5"/><circle cx="106.0" cy="228.6" r="1.5"/><circle cx="104.0" cy="211.3" r="1.5"/><circle cx="110.1" cy="221.3" r="1.5"/><circle cx="104.7" cy="209.0" r="1.5"/><circle cx="108.1" cy="209.4" r="1.5"/><circle cx="106.4" cy="230.3" r="1.5"/><circle cx="106.7" cy="228.2" r="1.5"/><circle cx="110.3" cy="199.0" r="1.5"/><circle cx="115.0" cy="222.6" r="1.5"/><circle cx="114.5" cy="213.6" r="1.5"/><circle cx="113.3" cy="245.2" r="1.5"/><circle cx="113.6" cy="228.7" r="1.5"/><circle cx="115.9" cy="222.5" r="1.5"/><circle cx="113.2" cy="231.7" r="1.5"/><circle cx="113.7" cy="247.7" r="1.5"/><circle cx="115.1" cy="221.0" r="1.5"/><circle cx="115.6" cy="227.8" r="1.5"/><circle cx="113.2" cy="228.9" r="1.5"/><circle cx="115.1" cy="223.5" r="1.5"/><circle cx="115.2" cy="239.0" r="1.5"/><circle cx="117.5" cy="206.3" r="1.5"/><circle cx="117.6" cy="226.8" r="1.5"/><circle cx="118.4" cy="241.4" r="1.5"/><circle cx="120.5" cy="214.1" r="1.5"/><circle cx="118.1" cy="242.3" r="1.5"/><circle cx="117.8" cy="237.6" r="1.5"/><circle cx="117.8" cy="247.3" r="1.5"/><circle cx="121.0" cy="230.7" r="1.5"/><circle cx="122.4" cy="206.8" r="1.5"/><circle cx="118.8" cy="235.3" r="1.5"/><circle cx="120.9" cy="236.6" r="1.5"/><circle cx="117.6" cy="225.9" r="1.5"/><circle cx="118.6" cy="223.0" r="1.5"/><circle cx="117.4" cy="230.1" r="1.5"/><circle cx="118.4" cy="215.2" r="1.5"/><circle cx="120.8" cy="206.1" r="1.5"/><circle cx="122.9" cy="225.8" r="1.5"/><circle cx="118.2" cy="207.5" r="1.5"/><circle cx="120.8" cy="226.2" r="1.5"/><circle cx="122.1" cy="219.9" r="1.5"/><circle cx="120.4" cy="244.8" r="1.5"/><circle cx="117.8" cy="249.1" r="1.5"/><circle cx="122.4" cy="249.5" r="1.5"/><circle cx="122.2" cy="214.3" r="1.5"/><circle cx="122.9" cy="231.4" r="1.5"/><circle cx="118.2" cy="249.9" r="1.5"/><circle cx="120.7" cy="240.9" r="1.5"/><circle cx="120.5" cy="205.8" r="1.5"/><circle cx="122.7" cy="210.4" r="1.5"/><circle cx="118.7" cy="231.6" r="1.5"/><circle cx="118.6" cy="224.2" r="1.5"/><circle cx="122.7" cy="206.6" r="1.5"/><circle cx="120.1" cy="207.0" r="1.5"/><circle cx="120.9" cy="233.2" r="1.5"/><circle cx="122.4" cy="204.1" r="1.5"/><circle cx="117.6" cy="248.1" r="1.5"/><circle cx="120.1" cy="222.4" r="1.5"/><circle cx="120.6" cy="235.4" r="1.5"/><circle cx="123.2" cy="233.2" r="1.5"/><circle cx="120.6" cy="229.3" r="1.5"/><circle cx="120.6" cy="211.0" r="1.5"/><circle cx="123.2" cy="248.3" r="1.5"/><circle cx="123.0" cy="249.6" r="1.5"/><circle cx="120.3" cy="242.3" r="1.5"/><circle cx="118.1" cy="237.7" r="1.5"/><circle cx="122.9" cy="247.1" r="1.5"/><circle cx="122.3" cy="244.2" r="1.5"/><circle cx="117.6" cy="239.8" r="1.5"/><circle cx="120.5" cy="217.0" r="1.5"/><circle cx="120.8" cy="240.3" r="1.5"/><circle cx="122.2" cy="242.5" r="1.5"/><circle cx="122.8" cy="210.2" r="1.5"/><circle cx="118.7" cy="229.3" r="1.5"/><circle cx="117.6" cy="218.2" r="1.5"/><circle cx="117.6" cy="209.4" r="1.5"/><circle cx="122.6" cy="212.7" r="1.5"/><circle cx="122.4" cy="217.8" r="1.5"/><circle cx="123.2" cy="216.5" r="1.5"/><circle cx="118.8" cy="221.0" r="1.5"/><circle cx="118.0" cy="222.9" r="1.5"/><circle cx="120.8" cy="202.6" r="1.5"/><circle cx="122.8" cy="220.0" r="1.5"/><circle cx="117.7" cy="248.1" r="1.5"/><circle cx="118.8" cy="214.1" r="1.5"/><circle cx="126.0" cy="207.3" r="1.5"/><circle cx="126.0" cy="204.8" r="1.5"/><circle cx="125.2" cy="222.1" r="1.5"/><circle cx="127.6" cy="222.2" r="1.5"/><circle cx="127.4" cy="238.3" r="1.5"/><circle cx="127.9" cy="214.5" r="1.5"/><circle cx="125.3" cy="225.6" r="1.5"/><circle cx="126.0" cy="232.4" r="1.5"/><circle cx="127.6" cy="218.2" r="1.5"/><circle cx="127.8" cy="247.8" r="1.5"/><circle cx="125.8" cy="218.8" r="1.5"/><circle cx="125.4" cy="208.1" r="1.5"/><circle cx="126.2" cy="222.6" r="1.5"/><circle cx="128.2" cy="234.7" r="1.5"/><circle cx="127.9" cy="240.8" r="1.5"/><circle cx="129.5" cy="232.4" r="1.5"/><circle cx="134.4" cy="249.4" r="1.5"/><circle cx="134.4" cy="208.0" r="1.5"/><circle cx="134.6" cy="235.3" r="1.5"/><circle cx="129.9" cy="246.5" r="1.5"/><circle cx="133.8" cy="245.4" r="1.5"/><circle cx="129.4" cy="231.4" r="1.5"/><circle cx="132.0" cy="219.0" r="1.5"/><circle cx="133.6" cy="233.1" r="1.5"/><circle cx="130.3" cy="229.9" r="1.5"/><circle cx="134.7" cy="230.9" r="1.5"/><circle cx="133.8" cy="230.9" r="1.5"/><circle cx="134.4" cy="207.3" r="1.5"/><circle cx="132.2" cy="230.3" r="1.5"/><circle cx="133.6" cy="248.6" r="1.5"/><circle cx="132.3" cy="227.0" r="1.5"/><circle cx="132.3" cy="229.5" r="1.5"/><circle cx="133.8" cy="247.7" r="1.5"/><circle cx="129.2" cy="220.1" r="1.5"/><circle cx="133.8" cy="208.6" r="1.5"/><circle cx="134.5" cy="207.4" r="1.5"/><circle cx="131.9" cy="241.2" r="1.5"/><circle cx="130.2" cy="222.8" r="1.5"/><circle cx="129.3" cy="237.0" r="1.5"/><circle cx="131.4" cy="232.6" r="1.5"/><circle cx="129.6" cy="231.8" r="1.5"/><circle cx="134.6" cy="240.3" r="1.5"/><circle cx="133.6" cy="216.9" r="1.5"/><circle cx="131.4" cy="223.0" r="1.5"/><circle cx="132.3" cy="241.3" r="1.5"/><circle cx="129.2" cy="230.6" r="1.5"/><circle cx="134.4" cy="247.2" r="1.5"/><circle cx="129.2" cy="217.9" r="1.5"/><circle cx="131.6" cy="247.2" r="1.5"/><circle cx="130.0" cy="243.0" r="1.5"/><circle cx="132.5" cy="230.1" r="1.5"/><circle cx="134.0" cy="208.8" r="1.5"/><circle cx="129.7" cy="212.9" r="1.5"/><circle cx="129.1" cy="219.4" r="1.5"/><circle cx="133.9" cy="231.5" r="1.5"/><circle cx="129.4" cy="241.3" r="1.5"/><circle cx="132.4" cy="212.3" r="1.5"/><circle cx="134.4" cy="242.1" r="1.5"/><circle cx="130.2" cy="247.3" r="1.5"/><circle cx="134.2" cy="216.1" r="1.5"/><circle cx="130.1" cy="244.2" r="1.5"/><circle cx="133.6" cy="210.3" r="1.5"/><circle cx="134.0" cy="240.0" r="1.5"/><circle cx="131.7" cy="242.6" r="1.5"/><circle cx="133.8" cy="220.4" r="1.5"/><circle cx="134.5" cy="246.5" r="1.5"/><circle cx="136.3" cy="225.0" r="1.5"/><circle cx="137.4" cy="245.0" r="1.5"/><circle cx="139.3" cy="230.8" r="1.5"/><circle cx="138.7" cy="247.1" r="1.5"/><circle cx="141.2" cy="229.6" r="1.5"/><circle cx="138.4" cy="244.9" r="1.5"/><circle cx="137.3" cy="222.6" r="1.5"/><circle cx="136.9" cy="231.6" r="1.5"/><circle cx="140.6" cy="218.8" r="1.5"/><circle cx="138.4" cy="249.7" r="1.5"/><circle cx="139.3" cy="227.1" r="1.5"/><circle cx="141.1" cy="246.0" r="1.5"/><circle cx="138.3" cy="217.6" r="1.5"/><circle cx="139.5" cy="240.4" r="1.5"/><circle cx="140.4" cy="237.4" r="1.5"/><circle cx="136.8" cy="232.1" r="1.5"/><circle cx="136.8" cy="229.5" r="1.5"/><circle cx="139.0" cy="246.8" r="1.5"/><circle cx="141.3" cy="247.3" r="1.5"/><circle cx="139.5" cy="248.7" r="1.5"/><circle cx="137.1" cy="247.1" r="1.5"/><circle cx="138.7" cy="245.3" r="1.5"/><circle cx="138.3" cy="249.7" r="1.5"/><circle cx="144.2" cy="230.3" r="1.5"/><circle cx="147.0" cy="227.3" r="1.5"/><circle cx="148.9" cy="226.0" r="1.5"/><circle cx="145.4" cy="226.1" r="1.5"/><circle cx="143.3" cy="247.5" r="1.5"/><circle cx="147.2" cy="231.3" r="1.5"/><circle cx="145.9" cy="219.3" r="1.5"/><circle cx="145.7" cy="229.2" r="1.5"/><circle cx="145.2" cy="249.2" r="1.5"/><circle cx="147.7" cy="217.5" r="1.5"/><circle cx="143.3" cy="215.5" r="1.5"/><circle cx="146.0" cy="241.1" r="1.5"/><circle cx="148.6" cy="218.7" r="1.5"/><circle cx="148.6" cy="227.1" r="1.5"/><circle cx="147.0" cy="230.8" r="1.5"/><circle cx="143.9" cy="211.7" r="1.5"/><circle cx="147.1" cy="237.3" r="1.5"/><circle cx="146.2" cy="246.7" r="1.5"/><circle cx="149.7" cy="221.4" r="1.5"/><circle cx="143.6" cy="231.7" r="1.5"/><circle cx="147.7" cy="218.2" r="1.5"/><circle cx="144.1" cy="229.0" r="1.5"/><circle cx="144.0" cy="239.2" r="1.5"/><circle cx="147.0" cy="220.4" r="1.5"/><circle cx="146.3" cy="218.6" r="1.5"/><circle cx="144.5" cy="216.4" r="1.5"/><circle cx="148.4" cy="227.6" r="1.5"/><circle cx="147.1" cy="223.3" r="1.5"/><circle cx="148.9" cy="233.4" r="1.5"/><circle cx="147.0" cy="225.1" r="1.5"/><circle cx="147.3" cy="216.8" r="1.5"/><circle cx="149.7" cy="236.6" r="1.5"/><circle cx="146.7" cy="235.2" r="1.5"/><circle cx="144.3" cy="222.7" r="1.5"/><circle cx="143.6" cy="243.6" r="1.5"/><circle cx="143.2" cy="227.2" r="1.5"/><circle cx="149.7" cy="241.1" r="1.5"/><circle cx="147.1" cy="221.4" r="1.5"/><circle cx="143.5" cy="237.9" r="1.5"/><circle cx="145.1" cy="238.6" r="1.5"/><circle cx="145.4" cy="240.2" r="1.5"/><circle cx="146.8" cy="242.4" r="1.5"/><circle cx="148.7" cy="224.5" r="1.5"/><circle cx="148.8" cy="209.4" r="1.5"/><circle cx="149.2" cy="210.2" r="1.5"/><circle cx="147.3" cy="224.9" r="1.5"/><circle cx="148.9" cy="221.9" r="1.5"/><circle cx="143.9" cy="241.1" r="1.5"/><circle cx="147.8" cy="240.0" r="1.5"/><circle cx="145.9" cy="210.5" r="1.5"/><circle cx="148.9" cy="217.9" r="1.5"/><circle cx="146.2" cy="209.0" r="1.5"/><circle cx="146.0" cy="236.3" r="1.5"/><circle cx="149.2" cy="235.1" r="1.5"/><circle cx="145.6" cy="239.0" r="1.5"/><circle cx="147.1" cy="217.4" r="1.5"/><circle cx="146.9" cy="233.5" r="1.5"/><circle cx="157.9" cy="232.8" r="1.5"/><circle cx="152.2" cy="248.4" r="1.5"/><circle cx="157.6" cy="204.6" r="1.5"/><circle cx="155.9" cy="214.7" r="1.5"/><circle cx="155.8" cy="243.9" r="1.5"/><circle cx="154.9" cy="227.4" r="1.5"/><circle cx="155.4" cy="212.4" r="1.5"/><circle cx="155.3" cy="223.8" r="1.5"/><circle cx="158.1" cy="212.2" r="1.5"/><circle cx="155.9" cy="205.0" r="1.5"/><circle cx="154.1" cy="208.8" r="1.5"/><circle cx="152.5" cy="228.9" r="1.5"/><circle cx="152.2" cy="241.9" r="1.5"/><circle cx="152.0" cy="233.5" r="1.5"/><circle cx="157.1" cy="209.2" r="1.5"/><circle cx="152.9" cy="240.5" r="1.5"/><circle cx="154.8" cy="248.7" r="1.5"/><circle cx="153.9" cy="222.5" r="1.5"/><circle cx="157.8" cy="219.8" r="1.5"/><circle cx="157.6" cy="246.7" r="1.5"/><circle cx="151.8" cy="229.7" r="1.5"/><circle cx="158.3" cy="208.8" r="1.5"/><circle cx="158.3" cy="240.9" r="1.5"/><circle cx="155.6" cy="232.4" r="1.5"/><circle cx="152.1" cy="250.0" r="1.5"/><circle cx="152.7" cy="241.4" r="1.5"/><circle cx="156.4" cy="218.6" r="1.5"/><circle cx="156.0" cy="223.1" r="1.5"/><circle cx="157.6" cy="205.1" r="1.5"/><circle cx="157.4" cy="221.8" r="1.5"/><circle cx="158.2" cy="226.1" r="1.5"/><circle cx="158.3" cy="217.8" r="1.5"/><circle cx="156.5" cy="204.2" r="1.5"/><circle cx="153.7" cy="206.9" r="1.5"/><circle cx="157.9" cy="236.2" r="1.5"/><circle cx="154.9" cy="250.7" r="1.5"/><circle cx="158.1" cy="249.9" r="1.5"/><circle cx="152.3" cy="237.5" r="1.5"/><circle cx="155.5" cy="232.7" r="1.5"/><circle cx="151.8" cy="248.3" r="1.5"/><circle cx="154.5" cy="232.2" r="1.5"/><circle cx="157.2" cy="216.5" r="1.5"/><circle cx="152.8" cy="248.2" r="1.5"/><circle cx="154.4" cy="205.0" r="1.5"/><circle cx="152.4" cy="251.7" r="1.5"/><circle cx="156.5" cy="213.3" r="1.5"/><circle cx="153.0" cy="247.0" r="1.5"/><circle cx="156.2" cy="231.6" r="1.5"/><circle cx="151.8" cy="223.3" r="1.5"/><circle cx="157.9" cy="203.2" r="1.5"/><circle cx="154.1" cy="205.8" r="1.5"/><circle cx="157.4" cy="208.1" r="1.5"/><circle cx="158.4" cy="244.2" r="1.5"/><circle cx="156.3" cy="205.1" r="1.5"/><circle cx="155.5" cy="227.2" r="1.5"/><circle cx="153.8" cy="210.1" r="1.5"/><circle cx="155.8" cy="242.3" r="1.5"/><circle cx="152.5" cy="245.9" r="1.5"/><circle cx="154.0" cy="216.0" r="1.5"/><circle cx="152.3" cy="225.5" r="1.5"/><circle cx="156.4" cy="230.9" r="1.5"/><circle cx="157.4" cy="228.1" r="1.5"/><circle cx="156.3" cy="251.5" r="1.5"/><circle cx="152.2" cy="203.8" r="1.5"/><circle cx="154.8" cy="218.3" r="1.5"/><circle cx="153.0" cy="223.5" r="1.5"/><circle cx="152.2" cy="248.1" r="1.5"/><circle cx="154.3" cy="246.1" r="1.5"/><circle cx="155.5" cy="238.8" r="1.5"/><circle cx="157.7" cy="217.8" r="1.5"/><circle cx="156.2" cy="213.1" r="1.5"/><circle cx="156.2" cy="232.2" r="1.5"/><circle cx="157.6" cy="211.2" r="1.5"/><circle cx="153.5" cy="243.4" r="1.5"/><circle cx="157.3" cy="250.9" r="1.5"/><circle cx="152.5" cy="213.3" r="1.5"/><circle cx="151.9" cy="238.5" r="1.5"/><circle cx="155.7" cy="234.8" r="1.5"/><circle cx="158.0" cy="228.3" r="1.5"/><circle cx="156.6" cy="248.1" r="1.5"/><circle cx="156.0" cy="235.1" r="1.5"/><circle cx="155.7" cy="227.2" r="1.5"/><circle cx="157.9" cy="231.1" r="1.5"/><circle cx="152.1" cy="223.9" r="1.5"/><circle cx="154.6" cy="224.2" r="1.5"/><circle cx="161.2" cy="216.8" r="1.5"/><circle cx="161.4" cy="245.9" r="1.5"/><circle cx="161.0" cy="213.7" r="1.5"/><circle cx="160.8" cy="214.6" r="1.5"/><circle cx="160.6" cy="222.8" r="1.5"/><circle cx="161.7" cy="223.2" r="1.5"/><circle cx="161.0" cy="222.8" r="1.5"/><circle cx="161.4" cy="245.6" r="1.5"/><circle cx="161.1" cy="246.5" r="1.5"/><circle cx="161.2" cy="249.0" r="1.5"/><circle cx="165.7" cy="211.2" r="1.5"/><circle cx="167.6" cy="237.4" r="1.5"/><circle cx="169.9" cy="202.1" r="1.5"/><circle cx="171.3" cy="224.5" r="1.5"/><circle cx="163.4" cy="215.5" r="1.5"/><circle cx="165.8" cy="244.8" r="1.5"/><circle cx="169.0" cy="219.0" r="1.5"/><circle cx="165.9" cy="217.1" r="1.5"/><circle cx="164.7" cy="220.0" r="1.5"/><circle cx="171.5" cy="243.0" r="1.5"/><circle cx="171.6" cy="248.0" r="1.5"/><circle cx="168.9" cy="207.9" r="1.5"/><circle cx="163.9" cy="210.5" r="1.5"/><circle cx="165.3" cy="229.5" r="1.5"/><circle cx="171.0" cy="232.5" r="1.5"/><circle cx="167.3" cy="214.6" r="1.5"/><circle cx="173.6" cy="241.2" r="1.5"/><circle cx="167.3" cy="204.4" r="1.5"/><circle cx="172.8" cy="215.3" r="1.5"/><circle cx="172.9" cy="208.1" r="1.5"/><circle cx="169.7" cy="220.5" r="1.5"/><circle cx="173.0" cy="217.4" r="1.5"/><circle cx="163.0" cy="212.3" r="1.5"/><circle cx="171.9" cy="252.9" r="1.5"/><circle cx="169.9" cy="237.5" r="1.5"/><circle cx="165.9" cy="216.2" r="1.5"/><circle cx="162.9" cy="253.2" r="1.5"/><circle cx="162.6" cy="233.8" r="1.5"/><circle cx="167.7" cy="211.7" r="1.5"/><circle cx="167.5" cy="250.4" r="1.5"/><circle cx="165.2" cy="210.6" r="1.5"/><circle cx="168.7" cy="236.2" r="1.5"/><circle cx="169.3" cy="211.3" r="1.5"/><circle cx="173.1" cy="207.8" r="1.5"/><circle cx="165.5" cy="214.6" r="1.5"/><circle cx="170.1" cy="226.8" r="1.5"/><circle cx="169.0" cy="239.8" r="1.5"/><circle cx="172.9" cy="226.4" r="1.5"/><circle cx="163.6" cy="245.2" r="1.5"/><circle cx="162.8" cy="218.5" r="1.5"/><circle cx="162.9" cy="233.3" r="1.5"/><circle cx="171.4" cy="208.7" r="1.5"/><circle cx="166.0" cy="246.3" r="1.5"/><circle cx="171.2" cy="207.6" r="1.5"/><circle cx="171.2" cy="243.3" r="1.5"/><circle cx="167.3" cy="210.1" r="1.5"/><circle cx="168.9" cy="218.6" r="1.5"/><circle cx="163.2" cy="210.6" r="1.5"/><circle cx="167.7" cy="208.6" r="1.5"/><circle cx="167.1" cy="230.7" r="1.5"/><circle cx="169.8" cy="223.0" r="1.5"/><circle cx="171.0" cy="206.6" r="1.5"/><circle cx="164.8" cy="250.5" r="1.5"/><circle cx="173.7" cy="249.9" r="1.5"/><circle cx="171.4" cy="229.9" r="1.5"/><circle cx="172.0" cy="231.8" r="1.5"/><circle cx="162.8" cy="215.3" r="1.5"/><circle cx="163.7" cy="247.5" r="1.5"/><circle cx="165.6" cy="223.2" r="1.5"/><circle cx="169.2" cy="207.2" r="1.5"/><circle cx="170.9" cy="243.4" r="1.5"/><circle cx="171.6" cy="247.8" r="1.5"/><circle cx="165.7" cy="209.6" r="1.5"/><circle cx="171.4" cy="238.0" r="1.5"/><circle cx="167.3" cy="219.9" r="1.5"/><circle cx="163.6" cy="245.3" r="1.5"/><circle cx="167.5" cy="244.2" r="1.5"/><circle cx="167.3" cy="218.7" r="1.5"/><circle cx="169.0" cy="240.8" r="1.5"/><circle cx="173.4" cy="220.4" r="1.5"/><circle cx="171.5" cy="223.0" r="1.5"/><circle cx="174.0" cy="241.5" r="1.5"/><circle cx="170.1" cy="220.9" r="1.5"/><circle cx="165.4" cy="248.0" r="1.5"/><circle cx="171.2" cy="217.9" r="1.5"/><circle cx="162.9" cy="212.1" r="1.5"/><circle cx="173.7" cy="204.0" r="1.5"/><circle cx="171.8" cy="229.5" r="1.5"/><circle cx="169.1" cy="230.1" r="1.5"/><circle cx="167.6" cy="231.0" r="1.5"/><circle cx="164.0" cy="249.8" r="1.5"/><circle cx="163.2" cy="209.2" r="1.5"/><circle cx="172.1" cy="235.3" r="1.5"/><circle cx="171.4" cy="238.0" r="1.5"/><circle cx="173.7" cy="204.7" r="1.5"/><circle cx="163.8" cy="214.3" r="1.5"/><circle cx="171.0" cy="209.9" r="1.5"/><circle cx="169.2" cy="242.1" r="1.5"/><circle cx="164.0" cy="229.4" r="1.5"/><circle cx="172.9" cy="240.9" r="1.5"/><circle cx="167.1" cy="226.9" r="1.5"/><circle cx="165.3" cy="252.0" r="1.5"/><circle cx="171.8" cy="237.4" r="1.5"/><circle cx="165.5" cy="240.1" r="1.5"/><circle cx="168.0" cy="243.5" r="1.5"/><circle cx="167.6" cy="247.8" r="1.5"/><circle cx="170.8" cy="225.4" r="1.5"/><circle cx="168.8" cy="243.9" r="1.5"/><circle cx="168.8" cy="251.9" r="1.5"/><circle cx="163.2" cy="248.7" r="1.5"/><circle cx="170.8" cy="227.4" r="1.5"/><circle cx="173.5" cy="209.7" r="1.5"/><circle cx="167.6" cy="239.1" r="1.5"/><circle cx="171.0" cy="221.4" r="1.5"/><circle cx="174.0" cy="235.7" r="1.5"/><circle cx="163.2" cy="208.4" r="1.5"/><circle cx="164.0" cy="231.6" r="1.5"/><circle cx="165.2" cy="215.6" r="1.5"/><circle cx="167.6" cy="206.1" r="1.5"/><circle cx="173.5" cy="245.6" r="1.5"/><circle cx="169.1" cy="225.1" r="1.5"/><circle cx="165.7" cy="233.3" r="1.5"/><circle cx="166.7" cy="252.7" r="1.5"/><circle cx="173.1" cy="239.8" r="1.5"/><circle cx="171.2" cy="205.9" r="1.5"/><circle cx="163.9" cy="220.0" r="1.5"/><circle cx="163.3" cy="224.0" r="1.5"/><circle cx="172.8" cy="245.4" r="1.5"/><circle cx="173.2" cy="213.5" r="1.5"/><circle cx="165.5" cy="203.2" r="1.5"/><circle cx="165.8" cy="204.9" r="1.5"/><circle cx="168.9" cy="217.6" r="1.5"/><circle cx="171.8" cy="231.2" r="1.5"/><circle cx="169.3" cy="217.6" r="1.5"/><circle cx="171.5" cy="237.8" r="1.5"/><circle cx="171.3" cy="226.5" r="1.5"/><circle cx="167.3" cy="216.9" r="1.5"/><circle cx="164.0" cy="226.2" r="1.5"/><circle cx="170.0" cy="211.7" r="1.5"/><circle cx="174.1" cy="247.7" r="1.5"/><circle cx="173.8" cy="244.4" r="1.5"/><circle cx="167.7" cy="211.1" r="1.5"/><circle cx="164.8" cy="240.4" r="1.5"/><circle cx="172.8" cy="207.8" r="1.5"/><circle cx="163.8" cy="220.4" r="1.5"/><circle cx="167.6" cy="233.1" r="1.5"/><circle cx="163.5" cy="245.9" r="1.5"/><circle cx="167.1" cy="249.2" r="1.5"/><circle cx="165.0" cy="217.9" r="1.5"/><circle cx="165.9" cy="252.2" r="1.5"/><circle cx="169.5" cy="244.9" r="1.5"/><circle cx="162.6" cy="230.2" r="1.5"/><circle cx="171.2" cy="253.2" r="1.5"/><circle cx="173.3" cy="207.4" r="1.5"/><circle cx="166.8" cy="253.9" r="1.5"/><circle cx="170.1" cy="251.8" r="1.5"/><circle cx="165.9" cy="203.3" r="1.5"/><circle cx="173.9" cy="215.7" r="1.5"/><circle cx="168.7" cy="220.8" r="1.5"/><circle cx="169.3" cy="250.6" r="1.5"/><circle cx="172.9" cy="247.6" r="1.5"/><circle cx="165.7" cy="244.7" r="1.5"/><circle cx="163.7" cy="223.7" r="1.5"/><circle cx="173.9" cy="215.2" r="1.5"/><circle cx="167.8" cy="232.3" r="1.5"/><circle cx="164.8" cy="238.8" r="1.5"/><circle cx="168.7" cy="206.9" r="1.5"/><circle cx="172.9" cy="205.7" r="1.5"/><circle cx="171.9" cy="220.1" r="1.5"/><circle cx="163.8" cy="206.1" r="1.5"/><circle cx="173.5" cy="243.6" r="1.5"/><circle cx="167.0" cy="243.3" r="1.5"/><circle cx="174.0" cy="250.2" r="1.5"/><circle cx="168.9" cy="216.3" r="1.5"/><circle cx="169.2" cy="253.0" r="1.5"/><circle cx="176.4" cy="253.1" r="1.5"/><circle cx="178.3" cy="242.3" r="1.5"/><circle cx="183.1" cy="232.6" r="1.5"/><circle cx="182.0" cy="242.5" r="1.5"/><circle cx="182.2" cy="252.1" r="1.5"/><circle cx="175.7" cy="241.3" r="1.5"/><circle cx="175.9" cy="219.6" r="1.5"/><circle cx="178.2" cy="253.4" r="1.5"/><circle cx="175.9" cy="225.2" r="1.5"/><circle cx="176.8" cy="253.9" r="1.5"/><circle cx="178.2" cy="238.8" r="1.5"/><circle cx="180.6" cy="242.1" r="1.5"/><circle cx="178.9" cy="224.1" r="1.5"/><circle cx="180.7" cy="238.8" r="1.5"/><circle cx="182.8" cy="218.8" r="1.5"/><circle cx="183.2" cy="240.6" r="1.5"/><circle cx="180.3" cy="223.8" r="1.5"/><circle cx="179.9" cy="206.9" r="1.5"/><circle cx="176.7" cy="218.9" r="1.5"/><circle cx="176.1" cy="205.5" r="1.5"/><circle cx="180.6" cy="240.3" r="1.5"/><circle cx="179.9" cy="213.5" r="1.5"/><circle cx="180.8" cy="245.1" r="1.5"/><circle cx="180.3" cy="214.6" r="1.5"/><circle cx="180.7" cy="223.1" r="1.5"/><circle cx="178.0" cy="210.6" r="1.5"/><circle cx="183.3" cy="235.2" r="1.5"/><circle cx="182.5" cy="211.8" r="1.5"/><circle cx="178.0" cy="229.0" r="1.5"/><circle cx="176.7" cy="218.4" r="1.5"/><circle cx="180.1" cy="227.6" r="1.5"/><circle cx="182.4" cy="232.4" r="1.5"/><circle cx="180.5" cy="232.8" r="1.5"/><circle cx="183.4" cy="221.7" r="1.5"/><circle cx="175.6" cy="253.0" r="1.5"/><circle cx="182.3" cy="209.5" r="1.5"/><circle cx="176.5" cy="214.3" r="1.5"/><circle cx="179.9" cy="209.7" r="1.5"/><circle cx="176.0" cy="228.2" r="1.5"/><circle cx="176.5" cy="216.2" r="1.5"/><circle cx="178.6" cy="213.5" r="1.5"/><circle cx="176.5" cy="216.3" r="1.5"/><circle cx="175.6" cy="219.5" r="1.5"/><circle cx="178.8" cy="221.4" r="1.5"/><circle cx="178.1" cy="204.0" r="1.5"/><circle cx="183.1" cy="240.7" r="1.5"/><circle cx="178.3" cy="203.1" r="1.5"/><circle cx="176.6" cy="248.9" r="1.5"/><circle cx="178.3" cy="213.5" r="1.5"/><circle cx="182.4" cy="248.5" r="1.5"/><circle cx="175.6" cy="228.6" r="1.5"/><circle cx="180.5" cy="209.0" r="1.5"/><circle cx="177.7" cy="234.5" r="1.5"/><circle cx="180.0" cy="235.1" r="1.5"/><circle cx="181.0" cy="222.3" r="1.5"/><circle cx="176.2" cy="203.8" r="1.5"/><circle cx="183.2" cy="247.1" r="1.5"/><circle cx="182.2" cy="206.9" r="1.5"/><circle cx="182.7" cy="211.8" r="1.5"/><circle cx="178.3" cy="213.2" r="1.5"/><circle cx="182.2" cy="244.8" r="1.5"/><circle cx="182.4" cy="222.5" r="1.5"/><circle cx="183.3" cy="216.3" r="1.5"/><circle cx="180.8" cy="237.3" r="1.5"/><circle cx="176.1" cy="222.5" r="1.5"/><circle cx="176.3" cy="243.6" r="1.5"/><circle cx="176.6" cy="209.9" r="1.5"/><circle cx="178.9" cy="235.7" r="1.5"/><circle cx="180.6" cy="229.8" r="1.5"/><circle cx="182.1" cy="241.4" r="1.5"/><circle cx="176.6" cy="230.3" r="1.5"/><circle cx="175.6" cy="215.3" r="1.5"/><circle cx="175.7" cy="206.9" r="1.5"/><circle cx="177.8" cy="248.2" r="1.5"/><circle cx="180.5" cy="207.5" r="1.5"/><circle cx="176.2" cy="233.2" r="1.5"/><circle cx="180.4" cy="204.4" r="1.5"/><circle cx="176.1" cy="231.9" r="1.5"/><circle cx="180.0" cy="207.1" r="1.5"/><circle cx="183.0" cy="215.3" r="1.5"/><circle cx="180.6" cy="230.0" r="1.5"/><circle cx="178.0" cy="251.3" r="1.5"/><circle cx="178.8" cy="224.6" r="1.5"/><circle cx="181.1" cy="245.8" r="1.5"/><circle cx="183.3" cy="242.2" r="1.5"/><circle cx="181.2" cy="239.6" r="1.5"/><circle cx="179.9" cy="251.9" r="1.5"/><circle cx="182.5" cy="241.8" r="1.5"/><circle cx="176.0" cy="232.0" r="1.5"/><circle cx="178.0" cy="214.8" r="1.5"/><circle cx="183.0" cy="214.3" r="1.5"/><circle cx="181.1" cy="228.0" r="1.5"/><circle cx="177.8" cy="239.0" r="1.5"/><circle cx="180.5" cy="253.5" r="1.5"/><circle cx="183.4" cy="243.8" r="1.5"/><circle cx="178.8" cy="237.1" r="1.5"/><circle cx="178.2" cy="251.0" r="1.5"/><circle cx="177.7" cy="221.2" r="1.5"/><circle cx="176.0" cy="227.0" r="1.5"/><circle cx="180.5" cy="218.7" r="1.5"/><circle cx="176.5" cy="227.7" r="1.5"/><circle cx="175.7" cy="211.8" r="1.5"/><circle cx="178.0" cy="220.8" r="1.5"/><circle cx="181.2" cy="230.0" r="1.5"/><circle cx="177.6" cy="209.8" r="1.5"/><circle cx="176.3" cy="231.5" r="1.5"/><circle cx="182.1" cy="217.3" r="1.5"/><circle cx="178.7" cy="219.3" r="1.5"/><circle cx="211.8" cy="192.2" r="1.5"/><circle cx="223.3" cy="195.1" r="1.5"/><circle cx="197.1" cy="200.3" r="1.5"/><circle cx="210.7" cy="199.1" r="1.5"/><circle cx="209.0" cy="200.5" r="1.5"/><circle cx="223.9" cy="198.6" r="1.5"/><circle cx="222.2" cy="200.9" r="1.5"/><circle cx="213.6" cy="202.6" r="1.5"/><circle cx="229.1" cy="202.6" r="1.5"/><circle cx="195.2" cy="207.2" r="1.5"/><circle cx="198.0" cy="206.0" r="1.5"/><circle cx="200.9" cy="206.0" r="1.5"/><circle cx="194.6" cy="211.8" r="1.5"/><circle cx="254.7" cy="189.0" r="1.5"/><circle cx="240.3" cy="195.5" r="1.5"/><circle cx="253.0" cy="194.0" r="1.5"/><circle cx="253.6" cy="196.3" r="1.5"/><circle cx="254.1" cy="198.6" r="1.5"/><circle cx="249.0" cy="198.0" r="1.5"/><circle cx="242.1" cy="201.2" r="1.5"/><circle cx="247.2" cy="202.0" r="1.5"/><circle cx="248.4" cy="204.3" r="1.5"/><circle cx="230.6" cy="201.2" r="1.5"/><circle cx="260.5" cy="202.4" r="1.5"/><circle cx="268.5" cy="204.3" r="1.5"/><circle cx="275.2" cy="203.5" r="1.5"/><circle cx="279.8" cy="209.5" r="1.5"/><circle cx="280.1" cy="213.9" r="1.5"/><circle cx="285.0" cy="214.7" r="1.5"/><circle cx="195.2" cy="231.3" r="1.5"/><circle cx="196.3" cy="221.5" r="1.5"/><circle cx="194.6" cy="219.2" r="1.5"/><circle cx="198.0" cy="231.8" r="1.5"/><circle cx="200.9" cy="234.1" r="1.5"/><circle cx="205.0" cy="236.4" r="1.5"/><circle cx="206.7" cy="238.2" r="1.5"/><circle cx="207.2" cy="240.5" r="1.5"/><circle cx="204.4" cy="245.6" r="1.5"/><circle cx="206.1" cy="246.8" r="1.5"/><circle cx="210.7" cy="242.2" r="1.5"/><circle cx="212.4" cy="243.9" r="1.5"/><circle cx="224.5" cy="243.3" r="1.5"/><circle cx="226.8" cy="245.1" r="1.5"/><circle cx="227.4" cy="246.8" r="1.5"/><circle cx="221.0" cy="237.6" r="1.5"/><circle cx="217.0" cy="238.7" r="1.5"/><circle cx="217.6" cy="241.0" r="1.5"/><circle cx="279.8" cy="210.0" r="1.5"/><circle cx="280.1" cy="214.4" r="1.5"/><circle cx="284.9" cy="215.2" r="1.5"/><circle cx="272.3" cy="218.6" r="1.5"/><circle cx="276.9" cy="218.0" r="1.5"/><circle cx="277.5" cy="220.9" r="1.5"/><circle cx="282.1" cy="220.9" r="1.5"/><circle cx="284.4" cy="223.8" r="1.5"/><circle cx="287.2" cy="227.2" r="1.5"/><circle cx="301.0" cy="230.1" r="1.5"/><circle cx="300.5" cy="237.6" r="1.5"/><circle cx="302.8" cy="237.0" r="1.5"/><circle cx="303.3" cy="235.9" r="1.5"/><circle cx="292.4" cy="237.0" r="1.5"/><circle cx="295.9" cy="240.5" r="1.5"/><circle cx="297.0" cy="246.8" r="1.5"/><circle cx="306.8" cy="249.1" r="1.5"/><circle cx="285.5" cy="237.6" r="1.5"/><circle cx="329.6" cy="228.0" r="1.5"/><circle cx="330.9" cy="236.3" r="1.5"/><circle cx="333.2" cy="236.3" r="1.5"/><circle cx="342.8" cy="240.2" r="1.5"/><circle cx="313.4" cy="241.2" r="1.5"/><circle cx="330.9" cy="241.5" r="1.5"/><circle cx="330.2" cy="243.8" r="1.5"/><circle cx="331.5" cy="243.6" r="1.5"/><circle cx="320.5" cy="245.8" r="1.5"/><circle cx="323.8" cy="247.4" r="1.5"/><circle cx="331.5" cy="247.4" r="1.5"/><circle cx="306.3" cy="249.6" r="1.5"/><circle cx="205.0" cy="245.7" r="1.5"/><circle cx="206.4" cy="247.1" r="1.5"/><circle cx="210.7" cy="245.0" r="1.5"/><circle cx="222.1" cy="250.0" r="1.5"/><circle cx="227.1" cy="246.4" r="1.5"/><circle cx="231.4" cy="247.6" r="1.5"/><circle cx="237.1" cy="248.6" r="1.5"/><circle cx="236.4" cy="252.9" r="1.5"/><circle cx="241.4" cy="252.1" r="1.5"/><circle cx="240.7" cy="245.7" r="1.5"/><circle cx="243.6" cy="245.7" r="1.5"/><circle cx="249.3" cy="249.3" r="1.5"/><circle cx="215.0" cy="260.0" r="1.5"/><circle cx="231.7" cy="259.6" r="1.5"/><circle cx="246.9" cy="267.1" r="1.5"/><circle cx="246.7" cy="267.1" r="1.5"/><circle cx="252.7" cy="257.2" r="1.5"/><circle cx="261.3" cy="259.7" r="1.5"/><circle cx="263.9" cy="261.4" r="1.5"/><circle cx="267.3" cy="260.2" r="1.5"/><circle cx="274.2" cy="257.2" r="1.5"/><circle cx="282.7" cy="257.2" r="1.5"/><circle cx="278.4" cy="264.9" r="1.5"/><circle cx="283.6" cy="265.7" r="1.5"/><circle cx="289.6" cy="255.4" r="1.5"/><circle cx="293.9" cy="254.6" r="1.5"/><circle cx="297.3" cy="246.9" r="1.5"/><circle cx="298.2" cy="251.1" r="1.5"/><circle cx="299.0" cy="258.0" r="1.5"/><circle cx="291.3" cy="261.4" r="1.5"/><circle cx="296.5" cy="264.9" r="1.5"/><circle cx="299.9" cy="264.9" r="1.5"/><circle cx="295.6" cy="268.3" r="1.5"/><circle cx="294.7" cy="269.2" r="1.5"/><circle cx="301.6" cy="271.7" r="1.5"/><circle cx="292.2" cy="275.2" r="1.5"/><circle cx="304.2" cy="260.6" r="1.5"/><circle cx="304.2" cy="271.7" r="1.5"/><circle cx="313.6" cy="241.3" r="1.5"/><circle cx="331.2" cy="240.8" r="1.5"/><circle cx="330.4" cy="243.9" r="1.5"/><circle cx="332.0" cy="243.1" r="1.5"/><circle cx="331.5" cy="247.5" r="1.5"/><circle cx="343.0" cy="240.8" r="1.5"/><circle cx="296.6" cy="246.3" r="1.5"/><circle cx="298.1" cy="251.0" r="1.5"/><circle cx="306.8" cy="249.7" r="1.5"/><circle cx="320.9" cy="246.0" r="1.5"/><circle cx="323.3" cy="247.5" r="1.5"/><circle cx="319.4" cy="252.6" r="1.5"/><circle cx="329.6" cy="253.8" r="1.5"/><circle cx="330.4" cy="255.7" r="1.5"/><circle cx="339.8" cy="258.1" r="1.5"/><circle cx="343.4" cy="258.9" r="1.5"/><circle cx="298.5" cy="258.6" r="1.5"/><circle cx="305.2" cy="260.1" r="1.5"/><circle cx="312.3" cy="257.3" r="1.5"/><circle cx="311.5" cy="259.7" r="1.5"/><circle cx="313.1" cy="261.2" r="1.5"/><circle cx="316.7" cy="258.6" r="1.5"/><circle cx="322.5" cy="257.6" r="1.5"/><circle cx="328.8" cy="262.8" r="1.5"/><circle cx="296.6" cy="265.2" r="1.5"/><circle cx="295.8" cy="267.5" r="1.5"/><circle cx="299.7" cy="265.2" r="1.5"/><circle cx="324.1" cy="269.1" r="1.5"/><circle cx="301.3" cy="271.9" r="1.5"/><circle cx="305.7" cy="271.9" r="1.5"/><circle cx="313.1" cy="272.7" r="1.5"/><circle cx="215.3" cy="244.5" r="1.5"/><circle cx="212.0" cy="234.7" r="1.5"/><circle cx="196.6" cy="225.2" r="1.5"/><circle cx="220.9" cy="205.6" r="1.5"/><circle cx="222.8" cy="222.0" r="1.5"/><circle cx="210.7" cy="240.0" r="1.5"/><circle cx="228.2" cy="206.7" r="1.5"/><circle cx="207.6" cy="230.9" r="1.5"/><circle cx="236.5" cy="206.8" r="1.5"/><circle cx="233.0" cy="236.8" r="1.5"/><circle cx="223.8" cy="206.6" r="1.5"/><circle cx="205.4" cy="207.1" r="1.5"/><circle cx="224.3" cy="230.3" r="1.5"/><circle cx="207.6" cy="213.4" r="1.5"/><circle cx="236.6" cy="206.2" r="1.5"/><circle cx="233.1" cy="243.1" r="1.5"/><circle cx="222.0" cy="229.6" r="1.5"/><circle cx="224.5" cy="237.2" r="1.5"/><circle cx="219.8" cy="206.4" r="1.5"/><circle cx="205.7" cy="231.7" r="1.5"/><circle cx="207.0" cy="238.4" r="1.5"/><circle cx="221.2" cy="217.8" r="1.5"/><circle cx="241.3" cy="228.3" r="1.5"/><circle cx="206.5" cy="227.6" r="1.5"/><circle cx="236.1" cy="218.3" r="1.5"/><circle cx="215.9" cy="228.1" r="1.5"/><circle cx="242.4" cy="231.0" r="1.5"/><circle cx="203.7" cy="228.4" r="1.5"/><circle cx="210.4" cy="223.2" r="1.5"/><circle cx="229.2" cy="202.0" r="1.5"/><circle cx="219.4" cy="215.8" r="1.5"/><circle cx="223.8" cy="239.6" r="1.5"/><circle cx="217.4" cy="230.6" r="1.5"/><circle cx="208.9" cy="213.0" r="1.5"/><circle cx="219.5" cy="226.0" r="1.5"/><circle cx="205.7" cy="237.0" r="1.5"/><circle cx="219.0" cy="217.7" r="1.5"/><circle cx="207.2" cy="240.3" r="1.5"/><circle cx="206.9" cy="204.3" r="1.5"/><circle cx="225.3" cy="202.2" r="1.5"/><circle cx="236.1" cy="232.9" r="1.5"/><circle cx="211.2" cy="221.7" r="1.5"/><circle cx="227.8" cy="208.5" r="1.5"/><circle cx="212.5" cy="238.0" r="1.5"/><circle cx="227.7" cy="228.5" r="1.5"/><circle cx="200.0" cy="211.2" r="1.5"/><circle cx="225.7" cy="227.9" r="1.5"/><circle cx="239.4" cy="227.1" r="1.5"/><circle cx="239.1" cy="223.0" r="1.5"/><circle cx="219.8" cy="214.2" r="1.5"/><circle cx="217.3" cy="245.0" r="1.5"/><circle cx="218.4" cy="201.1" r="1.5"/><circle cx="212.0" cy="210.3" r="1.5"/><circle cx="224.9" cy="224.9" r="1.5"/><circle cx="217.8" cy="244.6" r="1.5"/><circle cx="231.6" cy="205.1" r="1.5"/><circle cx="223.6" cy="231.7" r="1.5"/><circle cx="219.0" cy="202.7" r="1.5"/><circle cx="216.7" cy="240.3" r="1.5"/><circle cx="223.9" cy="203.1" r="1.5"/><circle cx="221.2" cy="208.7" r="1.5"/><circle cx="228.9" cy="244.5" r="1.5"/><circle cx="236.5" cy="231.3" r="1.5"/><circle cx="233.7" cy="205.1" r="1.5"/><circle cx="217.2" cy="239.1" r="1.5"/><circle cx="211.4" cy="207.8" r="1.5"/><circle cx="236.6" cy="234.1" r="1.5"/><circle cx="221.7" cy="245.8" r="1.5"/><circle cx="224.7" cy="242.2" r="1.5"/><circle cx="200.0" cy="228.1" r="1.5"/><circle cx="203.7" cy="216.6" r="1.5"/><circle cx="202.2" cy="222.8" r="1.5"/><circle cx="226.0" cy="243.5" r="1.5"/><circle cx="231.9" cy="204.6" r="1.5"/><circle cx="236.7" cy="226.5" r="1.5"/><circle cx="239.9" cy="224.1" r="1.5"/><circle cx="198.9" cy="234.1" r="1.5"/><circle cx="220.9" cy="243.4" r="1.5"/><circle cx="218.6" cy="216.3" r="1.5"/><circle cx="226.8" cy="234.4" r="1.5"/><circle cx="217.1" cy="214.0" r="1.5"/><circle cx="215.2" cy="234.6" r="1.5"/><circle cx="206.0" cy="208.4" r="1.5"/><circle cx="218.2" cy="231.9" r="1.5"/><circle cx="198.2" cy="213.8" r="1.5"/><circle cx="241.6" cy="213.6" r="1.5"/><circle cx="232.1" cy="215.4" r="1.5"/><circle cx="199.1" cy="223.9" r="1.5"/><circle cx="236.7" cy="237.5" r="1.5"/><circle cx="224.8" cy="223.7" r="1.5"/><circle cx="226.9" cy="225.5" r="1.5"/><circle cx="203.8" cy="233.7" r="1.5"/><circle cx="201.2" cy="215.6" r="1.5"/><circle cx="235.9" cy="227.7" r="1.5"/><circle cx="219.5" cy="234.4" r="1.5"/><circle cx="218.6" cy="219.0" r="1.5"/><circle cx="221.5" cy="202.0" r="1.5"/><circle cx="211.9" cy="202.9" r="1.5"/><circle cx="226.4" cy="208.4" r="1.5"/><circle cx="236.0" cy="214.3" r="1.5"/><circle cx="233.6" cy="231.6" r="1.5"/><circle cx="224.0" cy="235.8" r="1.5"/><circle cx="207.8" cy="240.2" r="1.5"/><circle cx="221.0" cy="236.6" r="1.5"/><circle cx="235.3" cy="213.0" r="1.5"/><circle cx="214.7" cy="218.0" r="1.5"/><circle cx="227.9" cy="224.0" r="1.5"/><circle cx="221.2" cy="242.3" r="1.5"/><circle cx="198.4" cy="217.8" r="1.5"/><circle cx="227.9" cy="226.1" r="1.5"/><circle cx="218.9" cy="213.2" r="1.5"/><circle cx="205.7" cy="232.5" r="1.5"/><circle cx="208.3" cy="225.2" r="1.5"/><circle cx="200.0" cy="217.9" r="1.5"/><circle cx="198.6" cy="224.6" r="1.5"/><circle cx="240.9" cy="236.8" r="1.5"/><circle cx="212.5" cy="214.0" r="1.5"/><circle cx="239.7" cy="203.5" r="1.5"/><circle cx="235.6" cy="241.2" r="1.5"/><circle cx="226.0" cy="219.3" r="1.5"/><circle cx="215.4" cy="229.6" r="1.5"/><circle cx="220.3" cy="241.8" r="1.5"/><circle cx="238.0" cy="216.3" r="1.5"/><circle cx="226.1" cy="231.8" r="1.5"/><circle cx="238.1" cy="218.1" r="1.5"/><circle cx="204.4" cy="230.9" r="1.5"/><circle cx="198.0" cy="227.4" r="1.5"/><circle cx="230.5" cy="208.4" r="1.5"/><circle cx="234.7" cy="238.2" r="1.5"/><circle cx="240.5" cy="234.7" r="1.5"/><circle cx="221.3" cy="239.7" r="1.5"/><circle cx="233.7" cy="230.6" r="1.5"/><circle cx="227.1" cy="209.4" r="1.5"/><circle cx="211.2" cy="216.3" r="1.5"/><circle cx="236.2" cy="237.7" r="1.5"/><circle cx="210.7" cy="204.6" r="1.5"/><circle cx="240.6" cy="217.9" r="1.5"/><circle cx="213.6" cy="241.2" r="1.5"/><circle cx="220.6" cy="230.6" r="1.5"/><circle cx="216.1" cy="222.6" r="1.5"/><circle cx="240.9" cy="214.0" r="1.5"/><circle cx="220.2" cy="223.5" r="1.5"/><circle cx="201.8" cy="207.9" r="1.5"/><circle cx="219.3" cy="238.5" r="1.5"/><circle cx="215.7" cy="203.8" r="1.5"/><circle cx="239.9" cy="207.5" r="1.5"/><circle cx="237.4" cy="203.1" r="1.5"/><circle cx="226.2" cy="207.9" r="1.5"/><circle cx="207.5" cy="220.8" r="1.5"/><circle cx="231.3" cy="221.5" r="1.5"/><circle cx="215.1" cy="219.9" r="1.5"/><circle cx="220.0" cy="214.2" r="1.5"/><circle cx="240.7" cy="209.9" r="1.5"/><circle cx="201.4" cy="226.8" r="1.5"/><circle cx="211.9" cy="234.9" r="1.5"/><circle cx="209.4" cy="221.3" r="1.5"/><circle cx="210.2" cy="226.1" r="1.5"/><circle cx="208.5" cy="232.5" r="1.5"/><circle cx="214.8" cy="234.3" r="1.5"/><circle cx="209.0" cy="222.5" r="1.5"/><circle cx="221.7" cy="234.8" r="1.5"/><circle cx="226.3" cy="221.2" r="1.5"/><circle cx="202.0" cy="209.6" r="1.5"/><circle cx="203.8" cy="232.1" r="1.5"/><circle cx="206.2" cy="212.6" r="1.5"/><circle cx="203.8" cy="207.8" r="1.5"/><circle cx="227.7" cy="228.2" r="1.5"/><circle cx="207.1" cy="239.1" r="1.5"/><circle cx="227.4" cy="221.1" r="1.5"/><circle cx="224.2" cy="231.9" r="1.5"/><circle cx="216.2" cy="205.3" r="1.5"/><circle cx="212.9" cy="231.0" r="1.5"/><circle cx="236.5" cy="218.5" r="1.5"/><circle cx="212.9" cy="225.1" r="1.5"/><circle cx="207.1" cy="210.9" r="1.5"/><circle cx="201.2" cy="233.3" r="1.5"/><circle cx="219.4" cy="245.9" r="1.5"/><circle cx="241.2" cy="242.1" r="1.5"/><circle cx="240.3" cy="240.4" r="1.5"/><circle cx="241.8" cy="242.1" r="1.5"/><circle cx="224.6" cy="230.1" r="1.5"/><circle cx="215.9" cy="221.0" r="1.5"/><circle cx="202.0" cy="226.8" r="1.5"/><circle cx="208.2" cy="206.7" r="1.5"/><circle cx="236.8" cy="228.0" r="1.5"/><circle cx="237.1" cy="214.8" r="1.5"/><circle cx="222.7" cy="214.0" r="1.5"/><circle cx="234.9" cy="210.8" r="1.5"/><circle cx="226.1" cy="227.1" r="1.5"/><circle cx="210.6" cy="204.8" r="1.5"/><circle cx="218.4" cy="225.6" r="1.5"/><circle cx="234.3" cy="210.5" r="1.5"/><circle cx="203.9" cy="215.4" r="1.5"/><circle cx="233.5" cy="211.9" r="1.5"/><circle cx="225.4" cy="202.5" r="1.5"/><circle cx="198.9" cy="234.3" r="1.5"/><circle cx="218.9" cy="206.3" r="1.5"/><circle cx="217.7" cy="245.2" r="1.5"/><circle cx="213.8" cy="227.2" r="1.5"/><circle cx="215.2" cy="224.8" r="1.5"/><circle cx="222.8" cy="217.3" r="1.5"/><circle cx="208.7" cy="209.8" r="1.5"/><circle cx="239.8" cy="240.5" r="1.5"/><circle cx="213.2" cy="229.3" r="1.5"/><circle cx="221.5" cy="210.4" r="1.5"/><circle cx="202.8" cy="227.6" r="1.5"/><circle cx="202.9" cy="231.7" r="1.5"/><circle cx="224.4" cy="247.6" r="1.5"/><circle cx="226.7" cy="225.5" r="1.5"/><circle cx="218.5" cy="241.3" r="1.5"/><circle cx="217.8" cy="211.2" r="1.5"/><circle cx="214.5" cy="204.5" r="1.5"/><circle cx="222.9" cy="211.3" r="1.5"/><circle cx="228.7" cy="209.2" r="1.5"/><circle cx="228.1" cy="230.0" r="1.5"/><circle cx="229.2" cy="245.7" r="1.5"/><circle cx="209.2" cy="233.1" r="1.5"/><circle cx="214.1" cy="243.0" r="1.5"/><circle cx="234.6" cy="236.9" r="1.5"/><circle cx="223.8" cy="213.3" r="1.5"/><circle cx="240.6" cy="216.9" r="1.5"/><circle cx="234.5" cy="232.9" r="1.5"/><circle cx="235.3" cy="238.7" r="1.5"/><circle cx="216.8" cy="219.6" r="1.5"/><circle cx="233.2" cy="231.8" r="1.5"/><circle cx="220.9" cy="242.1" r="1.5"/><circle cx="217.3" cy="205.6" r="1.5"/><circle cx="235.4" cy="205.1" r="1.5"/><circle cx="237.3" cy="211.6" r="1.5"/><circle cx="201.4" cy="236.4" r="1.5"/><circle cx="227.5" cy="220.3" r="1.5"/><circle cx="223.6" cy="227.0" r="1.5"/><circle cx="240.5" cy="224.9" r="1.5"/><circle cx="220.9" cy="222.7" r="1.5"/><circle cx="214.8" cy="233.4" r="1.5"/><circle cx="200.4" cy="233.5" r="1.5"/><circle cx="239.6" cy="236.8" r="1.5"/><circle cx="221.1" cy="217.6" r="1.5"/><circle cx="220.9" cy="242.4" r="1.5"/><circle cx="236.6" cy="209.6" r="1.5"/><circle cx="231.0" cy="238.9" r="1.5"/><circle cx="218.0" cy="241.3" r="1.5"/><circle cx="204.0" cy="216.8" r="1.5"/><circle cx="219.7" cy="235.2" r="1.5"/><circle cx="216.5" cy="215.2" r="1.5"/><circle cx="236.6" cy="219.4" r="1.5"/><circle cx="215.1" cy="211.5" r="1.5"/><circle cx="218.2" cy="234.2" r="1.5"/><circle cx="212.4" cy="232.1" r="1.5"/><circle cx="218.7" cy="201.6" r="1.5"/><circle cx="241.2" cy="214.5" r="1.5"/><circle cx="221.2" cy="246.1" r="1.5"/><circle cx="204.9" cy="208.2" r="1.5"/><circle cx="235.9" cy="225.3" r="1.5"/><circle cx="197.0" cy="213.8" r="1.5"/><circle cx="219.5" cy="209.2" r="1.5"/><circle cx="216.3" cy="212.0" r="1.5"/><circle cx="223.7" cy="206.3" r="1.5"/><circle cx="220.0" cy="231.4" r="1.5"/><circle cx="199.3" cy="226.8" r="1.5"/><circle cx="209.9" cy="236.0" r="1.5"/><circle cx="224.6" cy="243.7" r="1.5"/><circle cx="224.1" cy="209.6" r="1.5"/><circle cx="203.9" cy="234.1" r="1.5"/><circle cx="233.9" cy="203.9" r="1.5"/><circle cx="215.0" cy="214.3" r="1.5"/><circle cx="217.4" cy="242.0" r="1.5"/><circle cx="221.9" cy="236.0" r="1.5"/><circle cx="231.7" cy="214.1" r="1.5"/><circle cx="224.7" cy="218.6" r="1.5"/><circle cx="217.8" cy="225.9" r="1.5"/><circle cx="227.0" cy="208.9" r="1.5"/><circle cx="235.2" cy="208.6" r="1.5"/><circle cx="210.0" cy="240.9" r="1.5"/><circle cx="242.3" cy="218.2" r="1.5"/><circle cx="240.7" cy="202.8" r="1.5"/><circle cx="240.9" cy="210.4" r="1.5"/><circle cx="202.7" cy="236.4" r="1.5"/><circle cx="212.2" cy="205.0" r="1.5"/><circle cx="217.6" cy="217.3" r="1.5"/><circle cx="230.5" cy="224.2" r="1.5"/><circle cx="241.3" cy="240.6" r="1.5"/><circle cx="238.0" cy="227.6" r="1.5"/><circle cx="220.3" cy="209.0" r="1.5"/><circle cx="210.4" cy="211.3" r="1.5"/><circle cx="204.4" cy="229.9" r="1.5"/><circle cx="210.6" cy="237.1" r="1.5"/><circle cx="222.5" cy="239.9" r="1.5"/><circle cx="219.4" cy="230.7" r="1.5"/><circle cx="206.4" cy="233.7" r="1.5"/><circle cx="214.5" cy="234.9" r="1.5"/><circle cx="223.0" cy="207.6" r="1.5"/><circle cx="209.4" cy="236.3" r="1.5"/><circle cx="221.2" cy="234.6" r="1.5"/><circle cx="210.8" cy="223.4" r="1.5"/><circle cx="217.9" cy="236.2" r="1.5"/><circle cx="198.5" cy="225.0" r="1.5"/><circle cx="207.5" cy="228.7" r="1.5"/><circle cx="207.5" cy="210.7" r="1.5"/><circle cx="212.5" cy="242.4" r="1.5"/><circle cx="230.3" cy="213.6" r="1.5"/><circle cx="221.6" cy="201.4" r="1.5"/><circle cx="239.8" cy="230.7" r="1.5"/><circle cx="200.4" cy="225.4" r="1.5"/><circle cx="218.8" cy="232.5" r="1.5"/><circle cx="224.9" cy="204.4" r="1.5"/><circle cx="234.3" cy="242.6" r="1.5"/><circle cx="209.6" cy="234.4" r="1.5"/><circle cx="236.3" cy="242.5" r="1.5"/><circle cx="206.9" cy="238.7" r="1.5"/><circle cx="228.0" cy="222.9" r="1.5"/><circle cx="238.3" cy="238.8" r="1.5"/><circle cx="222.5" cy="235.5" r="1.5"/><circle cx="227.2" cy="219.8" r="1.5"/><circle cx="218.9" cy="224.9" r="1.5"/><circle cx="205.4" cy="213.3" r="1.5"/><circle cx="235.5" cy="240.8" r="1.5"/><circle cx="228.5" cy="233.4" r="1.5"/><circle cx="219.5" cy="227.9" r="1.5"/><circle cx="227.0" cy="201.3" r="1.5"/><circle cx="204.9" cy="223.0" r="1.5"/><circle cx="198.7" cy="213.0" r="1.5"/><circle cx="234.6" cy="202.5" r="1.5"/><circle cx="233.3" cy="238.5" r="1.5"/><circle cx="236.7" cy="213.1" r="1.5"/><circle cx="239.7" cy="218.5" r="1.5"/><circle cx="221.1" cy="233.0" r="1.5"/><circle cx="207.7" cy="206.0" r="1.5"/><circle cx="234.6" cy="212.7" r="1.5"/><circle cx="241.0" cy="232.9" r="1.5"/><circle cx="204.2" cy="234.4" r="1.5"/><circle cx="210.3" cy="225.8" r="1.5"/><circle cx="232.8" cy="228.3" r="1.5"/><circle cx="228.2" cy="217.0" r="1.5"/><circle cx="201.1" cy="216.3" r="1.5"/><circle cx="230.5" cy="227.5" r="1.5"/><circle cx="201.5" cy="212.3" r="1.5"/><circle cx="217.8" cy="201.7" r="1.5"/><circle cx="197.1" cy="222.1" r="1.5"/><circle cx="201.2" cy="236.2" r="1.5"/><circle cx="233.1" cy="215.8" r="1.5"/><circle cx="224.6" cy="219.2" r="1.5"/><circle cx="241.8" cy="213.2" r="1.5"/><circle cx="240.9" cy="215.6" r="1.5"/><circle cx="215.2" cy="215.8" r="1.5"/><circle cx="226.3" cy="242.5" r="1.5"/><circle cx="228.1" cy="209.6" r="1.5"/><circle cx="242.5" cy="235.0" r="1.5"/><circle cx="219.3" cy="240.9" r="1.5"/><circle cx="200.1" cy="229.1" r="1.5"/><circle cx="232.7" cy="237.5" r="1.5"/><circle cx="227.3" cy="203.9" r="1.5"/><circle cx="218.0" cy="213.6" r="1.5"/><circle cx="224.2" cy="219.7" r="1.5"/><circle cx="216.9" cy="226.3" r="1.5"/><circle cx="223.2" cy="242.8" r="1.5"/><circle cx="208.5" cy="213.9" r="1.5"/><circle cx="203.9" cy="206.3" r="1.5"/><circle cx="235.8" cy="244.2" r="1.5"/><circle cx="201.0" cy="217.9" r="1.5"/><circle cx="238.4" cy="241.6" r="1.5"/><circle cx="209.6" cy="204.1" r="1.5"/><circle cx="207.0" cy="224.6" r="1.5"/><circle cx="195.7" cy="212.9" r="1.5"/><circle cx="217.7" cy="233.0" r="1.5"/><circle cx="202.4" cy="206.8" r="1.5"/><circle cx="252.6" cy="205.1" r="1.5"/><circle cx="246.5" cy="205.8" r="1.5"/><circle cx="266.2" cy="249.2" r="1.5"/><circle cx="244.2" cy="245.0" r="1.5"/><circle cx="267.5" cy="236.5" r="1.5"/><circle cx="251.7" cy="245.9" r="1.5"/><circle cx="245.4" cy="202.6" r="1.5"/><circle cx="269.5" cy="242.2" r="1.5"/><circle cx="244.4" cy="205.3" r="1.5"/><circle cx="261.7" cy="208.2" r="1.5"/><circle cx="262.3" cy="237.7" r="1.5"/><circle cx="249.7" cy="226.7" r="1.5"/><circle cx="249.1" cy="248.8" r="1.5"/><circle cx="261.3" cy="238.7" r="1.5"/><circle cx="261.0" cy="203.4" r="1.5"/><circle cx="268.7" cy="243.6" r="1.5"/><circle cx="257.9" cy="233.1" r="1.5"/><circle cx="257.3" cy="242.3" r="1.5"/><circle cx="258.5" cy="215.6" r="1.5"/><circle cx="258.0" cy="212.0" r="1.5"/><circle cx="243.1" cy="229.2" r="1.5"/><circle cx="268.2" cy="240.3" r="1.5"/><circle cx="249.1" cy="228.5" r="1.5"/><circle cx="259.9" cy="232.4" r="1.5"/><circle cx="256.3" cy="228.5" r="1.5"/><circle cx="263.0" cy="249.3" r="1.5"/><circle cx="258.0" cy="243.9" r="1.5"/><circle cx="262.7" cy="206.7" r="1.5"/><circle cx="250.5" cy="217.6" r="1.5"/><circle cx="253.3" cy="227.5" r="1.5"/><circle cx="251.5" cy="255.9" r="1.5"/><circle cx="264.3" cy="220.8" r="1.5"/><circle cx="263.3" cy="251.8" r="1.5"/><circle cx="247.6" cy="235.2" r="1.5"/><circle cx="268.4" cy="245.0" r="1.5"/><circle cx="252.3" cy="208.1" r="1.5"/><circle cx="266.4" cy="223.3" r="1.5"/><circle cx="253.2" cy="226.0" r="1.5"/><circle cx="264.1" cy="250.1" r="1.5"/><circle cx="269.6" cy="242.9" r="1.5"/><circle cx="248.1" cy="220.7" r="1.5"/><circle cx="243.2" cy="211.2" r="1.5"/><circle cx="252.9" cy="209.9" r="1.5"/><circle cx="256.8" cy="207.4" r="1.5"/><circle cx="261.9" cy="223.0" r="1.5"/><circle cx="250.2" cy="238.4" r="1.5"/><circle cx="252.5" cy="201.3" r="1.5"/><circle cx="267.3" cy="242.2" r="1.5"/><circle cx="268.5" cy="216.5" r="1.5"/><circle cx="250.7" cy="239.0" r="1.5"/><circle cx="247.2" cy="254.1" r="1.5"/><circle cx="261.9" cy="230.7" r="1.5"/><circle cx="244.5" cy="215.9" r="1.5"/><circle cx="255.3" cy="254.9" r="1.5"/><circle cx="247.2" cy="233.1" r="1.5"/><circle cx="264.7" cy="245.5" r="1.5"/><circle cx="264.7" cy="210.1" r="1.5"/><circle cx="250.0" cy="202.2" r="1.5"/><circle cx="259.0" cy="204.5" r="1.5"/><circle cx="248.5" cy="209.7" r="1.5"/><circle cx="269.7" cy="244.2" r="1.5"/><circle cx="251.3" cy="254.4" r="1.5"/><circle cx="247.6" cy="207.9" r="1.5"/><circle cx="254.1" cy="245.1" r="1.5"/><circle cx="245.9" cy="244.2" r="1.5"/><circle cx="258.8" cy="244.7" r="1.5"/><circle cx="252.8" cy="202.4" r="1.5"/><circle cx="245.9" cy="240.5" r="1.5"/><circle cx="257.7" cy="242.8" r="1.5"/><circle cx="248.8" cy="215.6" r="1.5"/><circle cx="249.1" cy="247.6" r="1.5"/><circle cx="263.4" cy="208.7" r="1.5"/><circle cx="256.5" cy="214.4" r="1.5"/><circle cx="265.2" cy="240.2" r="1.5"/><circle cx="262.8" cy="211.0" r="1.5"/><circle cx="244.2" cy="235.8" r="1.5"/><circle cx="267.3" cy="250.3" r="1.5"/><circle cx="253.5" cy="229.1" r="1.5"/><circle cx="261.9" cy="251.8" r="1.5"/><circle cx="261.8" cy="228.9" r="1.5"/><circle cx="265.3" cy="227.4" r="1.5"/><circle cx="244.0" cy="230.6" r="1.5"/><circle cx="255.0" cy="218.8" r="1.5"/><circle cx="254.4" cy="212.4" r="1.5"/><circle cx="252.0" cy="241.8" r="1.5"/><circle cx="268.7" cy="225.6" r="1.5"/><circle cx="267.5" cy="207.0" r="1.5"/><circle cx="258.0" cy="241.7" r="1.5"/><circle cx="265.7" cy="221.7" r="1.5"/><circle cx="247.9" cy="253.8" r="1.5"/><circle cx="260.7" cy="236.6" r="1.5"/><circle cx="253.0" cy="206.3" r="1.5"/><circle cx="259.5" cy="222.7" r="1.5"/><circle cx="268.8" cy="237.1" r="1.5"/><circle cx="264.9" cy="231.9" r="1.5"/><circle cx="264.8" cy="207.5" r="1.5"/><circle cx="260.3" cy="210.6" r="1.5"/><circle cx="245.6" cy="239.5" r="1.5"/><circle cx="264.1" cy="237.3" r="1.5"/><circle cx="250.4" cy="227.3" r="1.5"/><circle cx="265.3" cy="235.9" r="1.5"/><circle cx="261.1" cy="229.9" r="1.5"/><circle cx="245.1" cy="223.5" r="1.5"/><circle cx="262.4" cy="248.6" r="1.5"/><circle cx="245.2" cy="228.5" r="1.5"/><circle cx="266.1" cy="206.5" r="1.5"/><circle cx="268.9" cy="252.6" r="1.5"/><circle cx="252.9" cy="211.7" r="1.5"/><circle cx="247.2" cy="212.3" r="1.5"/><circle cx="255.1" cy="239.6" r="1.5"/><circle cx="270.2" cy="231.3" r="1.5"/><circle cx="270.6" cy="223.9" r="1.5"/><circle cx="255.1" cy="201.3" r="1.5"/><circle cx="246.8" cy="245.3" r="1.5"/><circle cx="246.3" cy="216.8" r="1.5"/><circle cx="258.3" cy="229.4" r="1.5"/><circle cx="243.9" cy="206.2" r="1.5"/><circle cx="262.6" cy="222.7" r="1.5"/><circle cx="245.7" cy="226.8" r="1.5"/><circle cx="253.8" cy="256.0" r="1.5"/><circle cx="244.4" cy="210.1" r="1.5"/><circle cx="245.2" cy="230.9" r="1.5"/><circle cx="270.9" cy="243.5" r="1.5"/><circle cx="246.2" cy="230.2" r="1.5"/><circle cx="253.4" cy="254.7" r="1.5"/><circle cx="263.5" cy="233.8" r="1.5"/><circle cx="250.4" cy="224.5" r="1.5"/><circle cx="258.3" cy="221.2" r="1.5"/><circle cx="259.4" cy="205.0" r="1.5"/><circle cx="255.2" cy="255.3" r="1.5"/><circle cx="254.6" cy="228.3" r="1.5"/><circle cx="264.9" cy="245.5" r="1.5"/><circle cx="264.4" cy="221.3" r="1.5"/><circle cx="263.6" cy="211.2" r="1.5"/><circle cx="248.6" cy="209.8" r="1.5"/><circle cx="253.2" cy="241.3" r="1.5"/><circle cx="243.6" cy="249.1" r="1.5"/><circle cx="245.7" cy="253.2" r="1.5"/><circle cx="270.5" cy="234.4" r="1.5"/><circle cx="267.4" cy="252.7" r="1.5"/><circle cx="256.0" cy="247.9" r="1.5"/><circle cx="244.0" cy="243.7" r="1.5"/><circle cx="261.8" cy="243.5" r="1.5"/><circle cx="247.3" cy="204.7" r="1.5"/><circle cx="258.2" cy="234.0" r="1.5"/><circle cx="262.9" cy="210.0" r="1.5"/><circle cx="259.5" cy="254.3" r="1.5"/><circle cx="250.3" cy="245.9" r="1.5"/><circle cx="270.9" cy="237.7" r="1.5"/><circle cx="255.8" cy="223.4" r="1.5"/><circle cx="256.6" cy="207.0" r="1.5"/><circle cx="245.2" cy="215.7" r="1.5"/><circle cx="248.0" cy="250.4" r="1.5"/><circle cx="253.5" cy="249.0" r="1.5"/><circle cx="259.3" cy="250.3" r="1.5"/><circle cx="269.0" cy="239.8" r="1.5"/><circle cx="256.0" cy="213.6" r="1.5"/><circle cx="259.4" cy="217.5" r="1.5"/><circle cx="261.5" cy="219.0" r="1.5"/><circle cx="255.2" cy="230.4" r="1.5"/><circle cx="253.4" cy="253.6" r="1.5"/><circle cx="270.7" cy="229.5" r="1.5"/><circle cx="259.3" cy="211.1" r="1.5"/><circle cx="265.9" cy="227.2" r="1.5"/><circle cx="265.1" cy="251.6" r="1.5"/><circle cx="261.1" cy="238.9" r="1.5"/><circle cx="258.9" cy="207.3" r="1.5"/><circle cx="256.3" cy="203.5" r="1.5"/><circle cx="248.2" cy="254.9" r="1.5"/><circle cx="254.0" cy="207.6" r="1.5"/><circle cx="255.6" cy="203.4" r="1.5"/><circle cx="260.6" cy="212.8" r="1.5"/><circle cx="249.3" cy="235.7" r="1.5"/><circle cx="263.7" cy="232.6" r="1.5"/><circle cx="257.1" cy="223.6" r="1.5"/><circle cx="243.3" cy="219.7" r="1.5"/><circle cx="258.2" cy="218.8" r="1.5"/><circle cx="267.5" cy="245.4" r="1.5"/><circle cx="266.0" cy="227.5" r="1.5"/><circle cx="257.5" cy="247.2" r="1.5"/><circle cx="246.4" cy="212.6" r="1.5"/><circle cx="243.4" cy="227.5" r="1.5"/><circle cx="256.1" cy="253.5" r="1.5"/><circle cx="270.0" cy="222.7" r="1.5"/><circle cx="257.4" cy="205.9" r="1.5"/><circle cx="264.8" cy="229.1" r="1.5"/><circle cx="247.9" cy="249.1" r="1.5"/><circle cx="244.2" cy="210.8" r="1.5"/><circle cx="256.8" cy="255.8" r="1.5"/><circle cx="247.0" cy="214.9" r="1.5"/><circle cx="265.9" cy="218.8" r="1.5"/><circle cx="249.9" cy="217.3" r="1.5"/><circle cx="262.5" cy="249.7" r="1.5"/><circle cx="271.3" cy="245.1" r="1.5"/><circle cx="244.5" cy="227.1" r="1.5"/><circle cx="249.3" cy="206.8" r="1.5"/><circle cx="250.0" cy="241.2" r="1.5"/><circle cx="259.7" cy="207.3" r="1.5"/><circle cx="251.3" cy="203.7" r="1.5"/><circle cx="269.9" cy="242.2" r="1.5"/><circle cx="256.7" cy="253.8" r="1.5"/><circle cx="250.4" cy="210.7" r="1.5"/><circle cx="261.2" cy="233.3" r="1.5"/><circle cx="258.0" cy="243.3" r="1.5"/><circle cx="258.4" cy="217.6" r="1.5"/><circle cx="262.4" cy="253.2" r="1.5"/><circle cx="244.4" cy="227.2" r="1.5"/><circle cx="247.0" cy="241.8" r="1.5"/><circle cx="255.5" cy="247.0" r="1.5"/><circle cx="262.4" cy="253.7" r="1.5"/><circle cx="259.8" cy="233.4" r="1.5"/><circle cx="271.3" cy="245.0" r="1.5"/><circle cx="252.8" cy="205.8" r="1.5"/><circle cx="269.8" cy="252.3" r="1.5"/><circle cx="262.2" cy="253.1" r="1.5"/><circle cx="260.6" cy="241.8" r="1.5"/><circle cx="260.3" cy="212.5" r="1.5"/><circle cx="245.3" cy="241.6" r="1.5"/><circle cx="256.1" cy="207.0" r="1.5"/><circle cx="259.2" cy="214.8" r="1.5"/><circle cx="250.6" cy="249.1" r="1.5"/><circle cx="260.9" cy="241.9" r="1.5"/><circle cx="266.7" cy="224.5" r="1.5"/><circle cx="256.1" cy="224.2" r="1.5"/><circle cx="253.4" cy="243.6" r="1.5"/><circle cx="268.6" cy="216.7" r="1.5"/><circle cx="263.6" cy="212.1" r="1.5"/><circle cx="243.2" cy="238.4" r="1.5"/><circle cx="265.5" cy="218.5" r="1.5"/><circle cx="252.3" cy="242.6" r="1.5"/><circle cx="267.5" cy="207.9" r="1.5"/><circle cx="269.4" cy="224.3" r="1.5"/><circle cx="251.0" cy="221.2" r="1.5"/><circle cx="258.3" cy="229.5" r="1.5"/><circle cx="251.5" cy="203.4" r="1.5"/><circle cx="261.3" cy="240.2" r="1.5"/><circle cx="263.2" cy="222.2" r="1.5"/><circle cx="259.1" cy="229.3" r="1.5"/><circle cx="249.6" cy="229.4" r="1.5"/><circle cx="270.9" cy="249.6" r="1.5"/><circle cx="245.0" cy="236.7" r="1.5"/><circle cx="257.7" cy="230.2" r="1.5"/><circle cx="267.4" cy="235.9" r="1.5"/><circle cx="270.3" cy="238.2" r="1.5"/><circle cx="266.8" cy="217.9" r="1.5"/><circle cx="269.7" cy="244.3" r="1.5"/><circle cx="271.0" cy="242.3" r="1.5"/><circle cx="254.3" cy="229.3" r="1.5"/><circle cx="258.6" cy="231.8" r="1.5"/><circle cx="263.8" cy="219.2" r="1.5"/><circle cx="260.6" cy="241.2" r="1.5"/><circle cx="254.1" cy="238.2" r="1.5"/><circle cx="269.2" cy="220.7" r="1.5"/><circle cx="258.3" cy="227.1" r="1.5"/><circle cx="267.3" cy="215.1" r="1.5"/><circle cx="251.3" cy="222.0" r="1.5"/><circle cx="261.9" cy="208.6" r="1.5"/><circle cx="264.2" cy="223.1" r="1.5"/><circle cx="243.8" cy="221.6" r="1.5"/><circle cx="259.6" cy="205.1" r="1.5"/><circle cx="256.3" cy="201.6" r="1.5"/><circle cx="250.1" cy="218.9" r="1.5"/><circle cx="261.8" cy="209.8" r="1.5"/><circle cx="257.1" cy="215.2" r="1.5"/><circle cx="259.4" cy="238.5" r="1.5"/><circle cx="258.0" cy="242.0" r="1.5"/><circle cx="261.1" cy="204.7" r="1.5"/><circle cx="262.0" cy="227.1" r="1.5"/><circle cx="265.0" cy="252.5" r="1.5"/><circle cx="253.2" cy="247.6" r="1.5"/><circle cx="249.7" cy="236.4" r="1.5"/><circle cx="243.2" cy="246.2" r="1.5"/><circle cx="255.9" cy="225.5" r="1.5"/><circle cx="257.4" cy="220.9" r="1.5"/><circle cx="249.7" cy="238.8" r="1.5"/><circle cx="261.2" cy="203.0" r="1.5"/><circle cx="250.8" cy="252.2" r="1.5"/><circle cx="251.2" cy="216.4" r="1.5"/><circle cx="259.8" cy="220.9" r="1.5"/><circle cx="246.7" cy="212.6" r="1.5"/><circle cx="248.0" cy="224.9" r="1.5"/><circle cx="251.2" cy="237.8" r="1.5"/><circle cx="243.8" cy="206.3" r="1.5"/><circle cx="252.0" cy="207.5" r="1.5"/><circle cx="255.5" cy="220.4" r="1.5"/><circle cx="264.1" cy="254.2" r="1.5"/><circle cx="261.7" cy="207.4" r="1.5"/><circle cx="260.7" cy="249.5" r="1.5"/><circle cx="247.8" cy="250.5" r="1.5"/><circle cx="263.2" cy="242.7" r="1.5"/><circle cx="245.0" cy="234.6" r="1.5"/><circle cx="243.7" cy="241.3" r="1.5"/><circle cx="266.0" cy="218.0" r="1.5"/><circle cx="243.1" cy="241.0" r="1.5"/><circle cx="253.6" cy="218.4" r="1.5"/><circle cx="253.6" cy="212.4" r="1.5"/><circle cx="255.8" cy="217.4" r="1.5"/><circle cx="256.6" cy="247.9" r="1.5"/><circle cx="254.6" cy="223.6" r="1.5"/><circle cx="264.9" cy="239.5" r="1.5"/><circle cx="267.0" cy="251.5" r="1.5"/><circle cx="270.6" cy="229.8" r="1.5"/><circle cx="254.2" cy="200.4" r="1.5"/><circle cx="258.3" cy="219.9" r="1.5"/><circle cx="251.9" cy="252.2" r="1.5"/><circle cx="243.5" cy="220.2" r="1.5"/><circle cx="265.7" cy="237.7" r="1.5"/><circle cx="262.5" cy="227.3" r="1.5"/><circle cx="245.6" cy="246.6" r="1.5"/><circle cx="265.1" cy="226.8" r="1.5"/><circle cx="259.3" cy="245.0" r="1.5"/><circle cx="257.3" cy="226.6" r="1.5"/><circle cx="257.1" cy="241.2" r="1.5"/><circle cx="264.3" cy="218.7" r="1.5"/><circle cx="265.5" cy="221.0" r="1.5"/><circle cx="262.5" cy="221.1" r="1.5"/><circle cx="269.1" cy="252.6" r="1.5"/><circle cx="265.6" cy="221.3" r="1.5"/><circle cx="253.2" cy="224.3" r="1.5"/><circle cx="260.5" cy="201.9" r="1.5"/><circle cx="258.8" cy="252.0" r="1.5"/><circle cx="244.9" cy="249.9" r="1.5"/><circle cx="259.6" cy="255.9" r="1.5"/><circle cx="264.0" cy="240.3" r="1.5"/><circle cx="264.8" cy="223.6" r="1.5"/><circle cx="246.4" cy="247.9" r="1.5"/><circle cx="268.4" cy="240.4" r="1.5"/><circle cx="249.3" cy="228.0" r="1.5"/><circle cx="257.9" cy="220.4" r="1.5"/><circle cx="257.2" cy="225.6" r="1.5"/><circle cx="271.3" cy="250.9" r="1.5"/><circle cx="248.1" cy="243.2" r="1.5"/><circle cx="254.1" cy="233.5" r="1.5"/><circle cx="259.3" cy="241.4" r="1.5"/><circle cx="251.7" cy="238.0" r="1.5"/><circle cx="253.7" cy="243.8" r="1.5"/><circle cx="257.3" cy="236.0" r="1.5"/><circle cx="243.1" cy="250.2" r="1.5"/><circle cx="258.2" cy="236.2" r="1.5"/><circle cx="267.1" cy="249.9" r="1.5"/><circle cx="254.2" cy="255.3" r="1.5"/><circle cx="254.3" cy="240.7" r="1.5"/><circle cx="267.1" cy="220.3" r="1.5"/><circle cx="255.2" cy="220.5" r="1.5"/><circle cx="252.9" cy="223.1" r="1.5"/><circle cx="259.2" cy="236.0" r="1.5"/><circle cx="251.7" cy="242.8" r="1.5"/><circle cx="268.3" cy="221.4" r="1.5"/><circle cx="257.5" cy="212.3" r="1.5"/><circle cx="250.3" cy="247.7" r="1.5"/><circle cx="261.6" cy="225.0" r="1.5"/><circle cx="261.6" cy="210.4" r="1.5"/><circle cx="243.1" cy="220.0" r="1.5"/><circle cx="259.7" cy="210.3" r="1.5"/><circle cx="258.7" cy="218.2" r="1.5"/><circle cx="250.6" cy="241.4" r="1.5"/><circle cx="253.5" cy="241.6" r="1.5"/><circle cx="264.7" cy="221.0" r="1.5"/><circle cx="243.9" cy="247.2" r="1.5"/><circle cx="259.0" cy="232.5" r="1.5"/><circle cx="262.9" cy="230.7" r="1.5"/><circle cx="271.1" cy="234.5" r="1.5"/><circle cx="254.8" cy="250.8" r="1.5"/><circle cx="269.0" cy="233.4" r="1.5"/><circle cx="243.3" cy="234.9" r="1.5"/><circle cx="255.0" cy="232.1" r="1.5"/><circle cx="267.1" cy="207.4" r="1.5"/><circle cx="267.5" cy="217.4" r="1.5"/><circle cx="250.3" cy="202.1" r="1.5"/><circle cx="246.1" cy="215.0" r="1.5"/><circle cx="258.3" cy="252.6" r="1.5"/><circle cx="248.0" cy="216.2" r="1.5"/><circle cx="253.8" cy="235.8" r="1.5"/><circle cx="253.3" cy="237.5" r="1.5"/><circle cx="247.4" cy="202.5" r="1.5"/><circle cx="259.8" cy="240.5" r="1.5"/><circle cx="246.9" cy="202.7" r="1.5"/><circle cx="262.4" cy="203.7" r="1.5"/><circle cx="269.8" cy="238.7" r="1.5"/><circle cx="247.7" cy="222.9" r="1.5"/><circle cx="244.6" cy="204.9" r="1.5"/><circle cx="253.2" cy="249.1" r="1.5"/><circle cx="269.4" cy="242.2" r="1.5"/><circle cx="261.5" cy="232.7" r="1.5"/><circle cx="257.8" cy="236.7" r="1.5"/><circle cx="257.4" cy="222.3" r="1.5"/><circle cx="267.3" cy="216.9" r="1.5"/><circle cx="254.8" cy="238.0" r="1.5"/><circle cx="255.6" cy="222.5" r="1.5"/><circle cx="249.1" cy="219.9" r="1.5"/><circle cx="265.9" cy="210.5" r="1.5"/><circle cx="256.8" cy="215.9" r="1.5"/><circle cx="259.8" cy="243.3" r="1.5"/><circle cx="246.4" cy="227.2" r="1.5"/><circle cx="248.4" cy="236.2" r="1.5"/><circle cx="262.7" cy="212.4" r="1.5"/><circle cx="249.7" cy="217.0" r="1.5"/><circle cx="252.5" cy="250.0" r="1.5"/><circle cx="268.3" cy="244.3" r="1.5"/><circle cx="254.4" cy="225.6" r="1.5"/><circle cx="248.8" cy="225.8" r="1.5"/><circle cx="254.4" cy="210.9" r="1.5"/><circle cx="267.5" cy="216.9" r="1.5"/><circle cx="257.1" cy="202.9" r="1.5"/><circle cx="263.0" cy="228.8" r="1.5"/><circle cx="266.2" cy="240.4" r="1.5"/><circle cx="264.6" cy="214.7" r="1.5"/><circle cx="250.3" cy="233.5" r="1.5"/><circle cx="244.4" cy="252.5" r="1.5"/><circle cx="263.9" cy="227.6" r="1.5"/><circle cx="253.5" cy="204.3" r="1.5"/><circle cx="259.1" cy="243.3" r="1.5"/><circle cx="246.4" cy="205.5" r="1.5"/><circle cx="262.9" cy="226.3" r="1.5"/><circle cx="266.0" cy="223.0" r="1.5"/><circle cx="271.5" cy="248.9" r="1.5"/><circle cx="252.3" cy="230.0" r="1.5"/><circle cx="260.0" cy="225.2" r="1.5"/><circle cx="266.7" cy="239.5" r="1.5"/><circle cx="266.7" cy="214.2" r="1.5"/><circle cx="257.6" cy="230.4" r="1.5"/><circle cx="266.6" cy="225.1" r="1.5"/><circle cx="247.6" cy="247.9" r="1.5"/><circle cx="259.1" cy="241.5" r="1.5"/><circle cx="264.5" cy="234.9" r="1.5"/><circle cx="252.7" cy="209.2" r="1.5"/><circle cx="261.4" cy="212.3" r="1.5"/><circle cx="243.8" cy="207.6" r="1.5"/><circle cx="248.1" cy="230.3" r="1.5"/><circle cx="256.2" cy="226.0" r="1.5"/><circle cx="243.4" cy="229.6" r="1.5"/><circle cx="250.4" cy="205.1" r="1.5"/><circle cx="244.6" cy="208.5" r="1.5"/><circle cx="254.6" cy="209.3" r="1.5"/><circle cx="256.4" cy="209.2" r="1.5"/><circle cx="264.3" cy="249.1" r="1.5"/><circle cx="252.4" cy="204.0" r="1.5"/><circle cx="261.8" cy="242.4" r="1.5"/><circle cx="257.0" cy="249.9" r="1.5"/><circle cx="247.3" cy="240.3" r="1.5"/><circle cx="269.3" cy="250.2" r="1.5"/><circle cx="267.6" cy="224.4" r="1.5"/><circle cx="257.8" cy="247.5" r="1.5"/><circle cx="254.0" cy="214.3" r="1.5"/><circle cx="243.9" cy="211.4" r="1.5"/><circle cx="247.1" cy="252.0" r="1.5"/><circle cx="252.0" cy="219.7" r="1.5"/><circle cx="271.3" cy="238.7" r="1.5"/><circle cx="255.6" cy="205.9" r="1.5"/><circle cx="253.6" cy="216.3" r="1.5"/><circle cx="270.5" cy="223.6" r="1.5"/><circle cx="244.4" cy="250.4" r="1.5"/><circle cx="245.2" cy="244.1" r="1.5"/><circle cx="260.3" cy="215.9" r="1.5"/><circle cx="267.2" cy="224.0" r="1.5"/><circle cx="270.4" cy="252.1" r="1.5"/><circle cx="253.9" cy="238.7" r="1.5"/><circle cx="264.1" cy="236.7" r="1.5"/><circle cx="243.7" cy="238.5" r="1.5"/><circle cx="265.1" cy="210.8" r="1.5"/><circle cx="245.8" cy="203.8" r="1.5"/><circle cx="258.8" cy="205.9" r="1.5"/><circle cx="267.6" cy="223.3" r="1.5"/><circle cx="255.4" cy="210.2" r="1.5"/><circle cx="255.4" cy="234.0" r="1.5"/><circle cx="268.0" cy="249.9" r="1.5"/><circle cx="252.4" cy="201.3" r="1.5"/><circle cx="262.3" cy="238.5" r="1.5"/><circle cx="261.8" cy="245.0" r="1.5"/><circle cx="266.6" cy="235.0" r="1.5"/><circle cx="266.8" cy="207.0" r="1.5"/><circle cx="270.4" cy="237.3" r="1.5"/><circle cx="245.7" cy="209.4" r="1.5"/><circle cx="261.6" cy="217.1" r="1.5"/><circle cx="270.2" cy="215.6" r="1.5"/><circle cx="257.1" cy="228.2" r="1.5"/><circle cx="270.3" cy="217.0" r="1.5"/><circle cx="268.9" cy="240.5" r="1.5"/><circle cx="259.5" cy="253.0" r="1.5"/><circle cx="268.6" cy="242.0" r="1.5"/><circle cx="258.8" cy="202.5" r="1.5"/><circle cx="249.4" cy="236.4" r="1.5"/><circle cx="246.4" cy="236.0" r="1.5"/><circle cx="253.1" cy="221.7" r="1.5"/><circle cx="266.9" cy="247.1" r="1.5"/><circle cx="264.7" cy="225.0" r="1.5"/><circle cx="258.5" cy="255.2" r="1.5"/><circle cx="269.9" cy="234.0" r="1.5"/><circle cx="245.3" cy="250.5" r="1.5"/><circle cx="244.3" cy="206.6" r="1.5"/><circle cx="262.1" cy="211.0" r="1.5"/><circle cx="264.9" cy="238.4" r="1.5"/><circle cx="247.8" cy="250.9" r="1.5"/><circle cx="271.5" cy="244.9" r="1.5"/><circle cx="256.7" cy="246.2" r="1.5"/><circle cx="270.2" cy="239.0" r="1.5"/><circle cx="245.4" cy="220.9" r="1.5"/><circle cx="263.4" cy="220.5" r="1.5"/><circle cx="247.8" cy="225.5" r="1.5"/><circle cx="247.1" cy="226.6" r="1.5"/><circle cx="245.9" cy="240.7" r="1.5"/><circle cx="249.2" cy="252.4" r="1.5"/><circle cx="246.1" cy="235.4" r="1.5"/><circle cx="261.7" cy="211.1" r="1.5"/><circle cx="261.2" cy="230.8" r="1.5"/><circle cx="260.9" cy="210.4" r="1.5"/><circle cx="256.8" cy="246.8" r="1.5"/><circle cx="260.9" cy="213.6" r="1.5"/><circle cx="252.7" cy="249.2" r="1.5"/><circle cx="244.5" cy="226.8" r="1.5"/><circle cx="257.9" cy="224.1" r="1.5"/><circle cx="243.1" cy="206.0" r="1.5"/><circle cx="267.4" cy="225.5" r="1.5"/><circle cx="251.5" cy="225.3" r="1.5"/><circle cx="244.5" cy="204.6" r="1.5"/><circle cx="267.0" cy="242.5" r="1.5"/><circle cx="248.7" cy="217.8" r="1.5"/><circle cx="245.2" cy="217.8" r="1.5"/><circle cx="258.1" cy="242.2" r="1.5"/><circle cx="257.7" cy="247.5" r="1.5"/><circle cx="244.3" cy="207.5" r="1.5"/><circle cx="262.5" cy="207.3" r="1.5"/><circle cx="254.8" cy="231.1" r="1.5"/><circle cx="260.3" cy="206.6" r="1.5"/><circle cx="252.7" cy="220.7" r="1.5"/><circle cx="264.4" cy="243.8" r="1.5"/><circle cx="263.1" cy="210.1" r="1.5"/><circle cx="256.4" cy="251.3" r="1.5"/><circle cx="248.1" cy="219.5" r="1.5"/><circle cx="243.7" cy="238.7" r="1.5"/><circle cx="256.4" cy="229.6" r="1.5"/><circle cx="279.6" cy="227.4" r="1.5"/><circle cx="282.1" cy="241.7" r="1.5"/><circle cx="282.2" cy="241.2" r="1.5"/><circle cx="279.0" cy="242.8" r="1.5"/><circle cx="281.0" cy="245.0" r="1.5"/><circle cx="274.3" cy="248.5" r="1.5"/><circle cx="275.0" cy="250.4" r="1.5"/><circle cx="279.3" cy="251.0" r="1.5"/><circle cx="284.2" cy="244.1" r="1.5"/><circle cx="275.9" cy="232.5" r="1.5"/><circle cx="279.4" cy="245.0" r="1.5"/><circle cx="276.7" cy="248.4" r="1.5"/><circle cx="273.5" cy="234.7" r="1.5"/><circle cx="272.3" cy="222.1" r="1.5"/><circle cx="279.1" cy="238.3" r="1.5"/><circle cx="276.3" cy="244.7" r="1.5"/><circle cx="278.7" cy="240.6" r="1.5"/><circle cx="271.4" cy="227.9" r="1.5"/><circle cx="270.3" cy="221.8" r="1.5"/><circle cx="279.5" cy="229.6" r="1.5"/><circle cx="280.8" cy="247.4" r="1.5"/><circle cx="285.8" cy="243.5" r="1.5"/><circle cx="274.4" cy="227.8" r="1.5"/><circle cx="278.4" cy="246.4" r="1.5"/><circle cx="280.7" cy="237.3" r="1.5"/><circle cx="276.5" cy="229.7" r="1.5"/><circle cx="276.5" cy="241.8" r="1.5"/><circle cx="277.1" cy="241.7" r="1.5"/><circle cx="273.1" cy="245.3" r="1.5"/><circle cx="276.5" cy="224.1" r="1.5"/><circle cx="284.1" cy="243.0" r="1.5"/><circle cx="274.1" cy="230.5" r="1.5"/><circle cx="276.7" cy="241.5" r="1.5"/><circle cx="274.6" cy="228.8" r="1.5"/><circle cx="278.1" cy="224.5" r="1.5"/><circle cx="276.9" cy="242.9" r="1.5"/><circle cx="275.6" cy="236.5" r="1.5"/><circle cx="273.7" cy="230.0" r="1.5"/><circle cx="279.0" cy="229.1" r="1.5"/><circle cx="272.9" cy="247.5" r="1.5"/><circle cx="271.5" cy="235.9" r="1.5"/><circle cx="278.7" cy="230.7" r="1.5"/><circle cx="280.0" cy="247.8" r="1.5"/><circle cx="273.2" cy="247.6" r="1.5"/><circle cx="279.6" cy="243.1" r="1.5"/><circle cx="276.2" cy="227.7" r="1.5"/><circle cx="281.0" cy="236.4" r="1.5"/><circle cx="275.5" cy="240.9" r="1.5"/><circle cx="284.5" cy="232.8" r="1.5"/><circle cx="280.2" cy="227.9" r="1.5"/><circle cx="281.1" cy="226.7" r="1.5"/><circle cx="273.0" cy="225.7" r="1.5"/><circle cx="281.6" cy="241.6" r="1.5"/><circle cx="284.6" cy="230.9" r="1.5"/><circle cx="274.1" cy="241.8" r="1.5"/><circle cx="277.8" cy="232.0" r="1.5"/><circle cx="270.5" cy="224.2" r="1.5"/><circle cx="282.0" cy="232.6" r="1.5"/><circle cx="284.1" cy="245.0" r="1.5"/><circle cx="278.5" cy="251.4" r="1.5"/><circle cx="279.3" cy="225.8" r="1.5"/><circle cx="276.1" cy="232.8" r="1.5"/><circle cx="274.6" cy="222.2" r="1.5"/><circle cx="280.7" cy="238.5" r="1.5"/><circle cx="271.7" cy="224.0" r="1.5"/><circle cx="274.5" cy="229.1" r="1.5"/><circle cx="277.8" cy="248.5" r="1.5"/><circle cx="271.6" cy="236.7" r="1.5"/><circle cx="280.0" cy="225.3" r="1.5"/><circle cx="275.7" cy="232.0" r="1.5"/><circle cx="284.2" cy="244.0" r="1.5"/><circle cx="275.7" cy="245.4" r="1.5"/><circle cx="276.9" cy="230.1" r="1.5"/><circle cx="280.4" cy="240.7" r="1.5"/><circle cx="271.8" cy="231.0" r="1.5"/><circle cx="278.5" cy="228.4" r="1.5"/><circle cx="278.8" cy="230.1" r="1.5"/><circle cx="275.5" cy="249.3" r="1.5"/><circle cx="275.4" cy="232.8" r="1.5"/><circle cx="275.8" cy="247.2" r="1.5"/><circle cx="275.9" cy="240.5" r="1.5"/><circle cx="272.8" cy="235.5" r="1.5"/><circle cx="274.3" cy="248.9" r="1.5"/><circle cx="275.9" cy="250.3" r="1.5"/><circle cx="279.1" cy="228.3" r="1.5"/><circle cx="278.8" cy="249.5" r="1.5"/><circle cx="281.1" cy="245.7" r="1.5"/><circle cx="279.1" cy="238.3" r="1.5"/><circle cx="245.2" cy="200.8" r="1.5"/><circle cx="256.7" cy="198.4" r="1.5"/><circle cx="249.0" cy="199.9" r="1.5"/><circle cx="254.1" cy="194.2" r="1.5"/><circle cx="257.6" cy="200.9" r="1.5"/><circle cx="258.0" cy="195.0" r="1.5"/><circle cx="264.0" cy="201.8" r="1.5"/><circle cx="257.4" cy="195.7" r="1.5"/><circle cx="262.4" cy="200.8" r="1.5"/><circle cx="255.7" cy="196.1" r="1.5"/><circle cx="251.2" cy="193.3" r="1.5"/><circle cx="256.0" cy="194.6" r="1.5"/><circle cx="256.0" cy="201.7" r="1.5"/><circle cx="251.4" cy="191.5" r="1.5"/><circle cx="252.8" cy="195.7" r="1.5"/><circle cx="243.1" cy="194.2" r="1.5"/><circle cx="252.9" cy="197.5" r="1.5"/><circle cx="247.1" cy="198.4" r="1.5"/><circle cx="271.5" cy="213.0" r="1.5"/><circle cx="271.6" cy="212.8" r="1.5"/><circle cx="281.9" cy="227.0" r="1.5"/><circle cx="280.1" cy="221.3" r="1.5"/><circle cx="278.5" cy="214.5" r="1.5"/><circle cx="277.9" cy="217.7" r="1.5"/><circle cx="283.3" cy="222.7" r="1.5"/><circle cx="270.2" cy="215.9" r="1.5"/><circle cx="278.1" cy="223.4" r="1.5"/><circle cx="278.5" cy="213.9" r="1.5"/><circle cx="281.2" cy="216.0" r="1.5"/><circle cx="242.1" cy="251.5" r="1.5"/><circle cx="233.4" cy="253.7" r="1.5"/><circle cx="227.6" cy="249.0" r="1.5"/><circle cx="235.6" cy="249.9" r="1.5"/><circle cx="232.9" cy="249.6" r="1.5"/><circle cx="238.0" cy="253.9" r="1.5"/><circle cx="239.7" cy="253.2" r="1.5"/><circle cx="239.9" cy="252.1" r="1.5"/></g><path d="M32.30 87.07 L39.84 86.99 L47.38 86.89 L54.92 86.78 L62.46 86.65 L70.00 86.50 L77.54 86.34 L85.08 86.16 L92.62 85.96 L100.16 85.75 L107.70 85.52 L115.24 85.27 L122.78 85.01 L130.32 84.73 L137.86 84.43 L145.40 84.12 L152.94 83.79 L160.48 83.44 L168.02 83.08 L175.56 82.70 L183.10 82.30 L183.10 86.70 L175.56 86.71 L168.02 86.74 L160.48 86.79 L152.94 86.85 L145.40 86.93 L137.86 87.03 L130.32 87.14 L122.78 87.27 L115.24 87.42 L107.70 87.58 L100.16 87.76 L92.62 87.96 L85.08 88.17 L77.54 88.40 L70.00 88.65 L62.46 88.91 L54.92 89.19 L47.38 89.49 L39.84 89.80 L32.30 90.13Z" fill="#a8a8a8" fill-opacity="0.28"/><path d="M32.3 88.6L183.1 84.5" stroke="#3b63d6" stroke-width="2.3" fill="none"/><path d="M194.30 78.80 L201.74 79.80 L209.17 80.77 L216.61 81.72 L224.04 82.64 L231.48 83.54 L238.91 84.41 L246.34 85.26 L253.78 86.08 L261.22 86.87 L268.65 87.62 L276.09 88.32 L283.52 88.99 L290.96 89.61 L298.39 90.19 L305.82 90.73 L313.26 91.23 L320.69 91.68 L328.13 92.10 L335.56 92.47 L343.00 92.80 L343.00 100.80 L335.56 99.51 L328.13 98.26 L320.69 97.06 L313.26 95.89 L305.82 94.77 L298.39 93.69 L290.96 92.65 L283.52 91.65 L276.09 90.70 L268.65 89.78 L261.22 88.91 L253.78 88.08 L246.34 87.28 L238.91 86.51 L231.48 85.76 L224.04 85.04 L216.61 84.34 L209.17 83.67 L201.74 83.02 L194.30 82.40Z" fill="#a8a8a8" fill-opacity="0.28"/><path d="M194.3 80.6L343 96.8" stroke="#3b63d6" stroke-width="2.3" fill="none"/><path d="M32.30 222.67 L39.86 223.12 L47.42 223.56 L54.98 223.98 L62.54 224.39 L70.10 224.78 L77.66 225.15 L85.22 225.50 L92.78 225.84 L100.34 226.16 L107.90 226.46 L115.46 226.74 L123.02 226.99 L130.58 227.23 L138.14 227.44 L145.70 227.64 L153.26 227.81 L160.82 227.97 L168.38 228.10 L175.94 228.21 L183.50 228.30 L183.50 233.30 L175.94 232.73 L168.38 232.18 L160.82 231.65 L153.26 231.15 L145.70 230.66 L138.14 230.19 L130.58 229.75 L123.02 229.33 L115.46 228.92 L107.90 228.54 L100.34 228.18 L92.78 227.84 L85.22 227.52 L77.66 227.21 L70.10 226.92 L62.54 226.65 L54.98 226.40 L47.42 226.16 L39.86 225.94 L32.30 225.73Z" fill="#a8a8a8" fill-opacity="0.28"/><path d="M32.3 224.2L183.5 230.8" stroke="#3b63d6" stroke-width="2.3" fill="none"/><path d="M194.60 212.99 L202.03 215.15 L209.45 217.29 L216.88 219.41 L224.30 221.50 L231.72 223.57 L239.15 225.63 L246.57 227.65 L254.00 229.66 L261.43 231.63 L268.85 233.56 L276.28 235.44 L283.70 237.28 L291.12 239.08 L298.55 240.83 L305.98 242.54 L313.40 244.20 L320.83 245.81 L328.25 247.39 L335.68 248.92 L343.10 250.40 L343.10 258.80 L335.68 256.29 L328.25 253.83 L320.83 251.42 L313.40 249.04 L305.98 246.71 L298.55 244.43 L291.12 242.19 L283.70 240.00 L276.28 237.84 L268.85 235.74 L261.43 233.68 L254.00 231.66 L246.57 229.68 L239.15 227.71 L231.72 225.77 L224.30 223.86 L216.88 221.96 L209.45 220.09 L202.03 218.24 L194.60 216.41Z" fill="#a8a8a8" fill-opacity="0.28"/><path d="M194.6 214.7L343.1 254.6" stroke="#3b63d6" stroke-width="2.3" fill="none"/><text x="183" y="10.7" font-size="7.35" fill="#111" text-anchor="end" stroke="#111" stroke-width="0.22">R<tspan font-size="5" dy="-3.2">2</tspan><tspan font-size="4.7" dy="5.4" dx="-2.7">adj</tspan><tspan dy="-2.2"> = 0.0054</tspan></text><text x="183" y="19.299999999999997" font-size="7.35" fill="#111" text-anchor="end" stroke="#111" stroke-width="0.22">p = 0.0082</text><text x="345.4" y="10.7" font-size="7.35" fill="#111" text-anchor="end" stroke="#111" stroke-width="0.22">R<tspan font-size="5" dy="-3.2">2</tspan><tspan font-size="4.7" dy="5.4" dx="-2.7">adj</tspan><tspan dy="-2.2"> = 0.041</tspan></text><text x="345.4" y="19.299999999999997" font-size="7.35" fill="#111" text-anchor="end" stroke="#111" stroke-width="0.22">p &lt; 0.0001</text><text x="182.5" y="160.8" font-size="7.35" fill="#111" text-anchor="end" stroke="#111" stroke-width="0.22">R<tspan font-size="5" dy="-3.2">2</tspan><tspan font-size="4.7" dy="5.4" dx="-2.7">adj</tspan><tspan dy="-2.2"> = 0.022</tspan></text><text x="182.5" y="169.4" font-size="7.35" fill="#111" text-anchor="end" stroke="#111" stroke-width="0.22">p &lt; 0.0001</text><text x="345.6" y="160.8" font-size="7.35" fill="#111" text-anchor="end" stroke="#111" stroke-width="0.22">R<tspan font-size="5" dy="-3.2">2</tspan><tspan font-size="4.7" dy="5.4" dx="-2.7">adj</tspan><tspan dy="-2.2"> = 0.25</tspan></text><text x="345.6" y="169.4" font-size="7.35" fill="#111" text-anchor="end" stroke="#111" stroke-width="0.22">p &lt; 0.0001</text></svg></body></html>
